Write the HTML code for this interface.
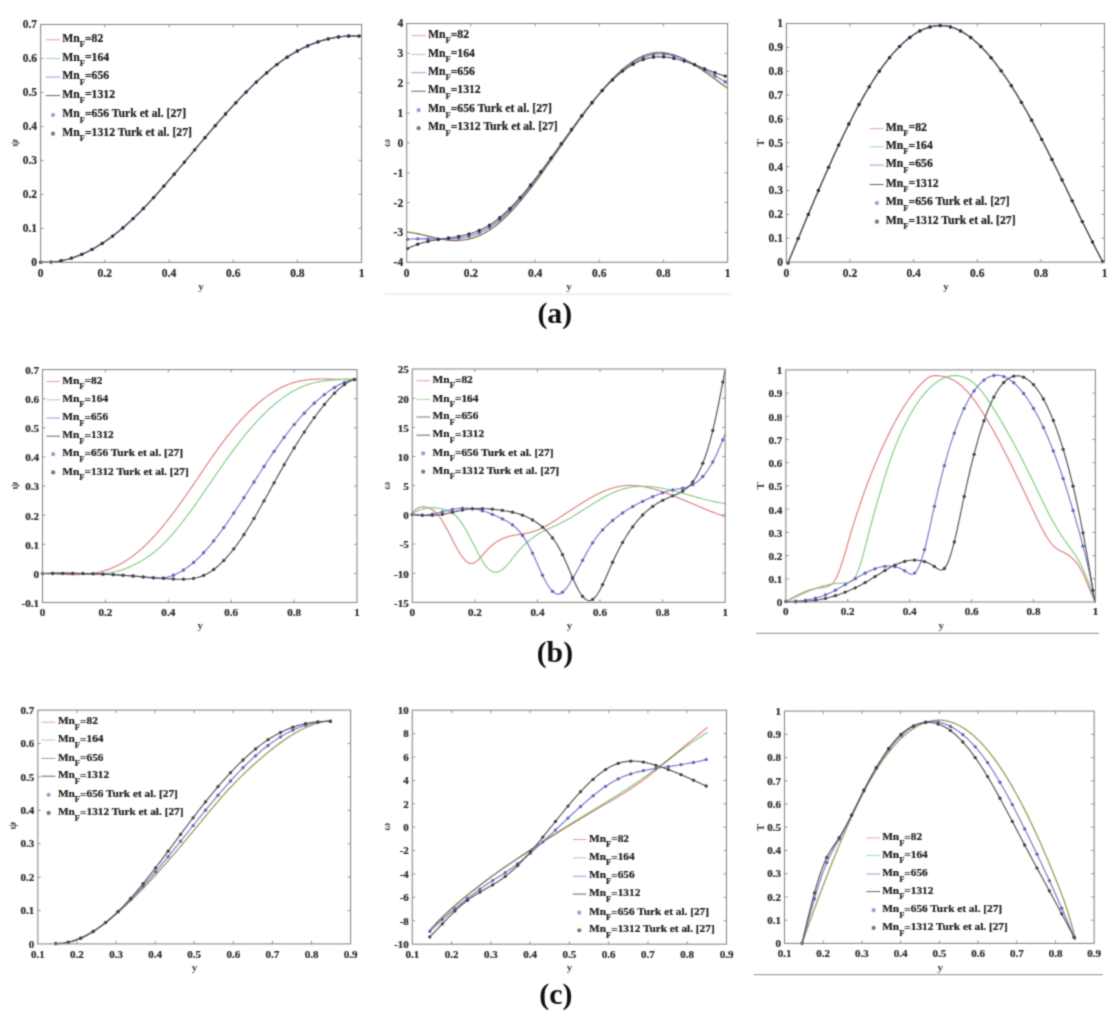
<!DOCTYPE html>
<html><head><meta charset="utf-8"><style>
html,body{margin:0;padding:0;background:#fff;}
svg{display:block;}
text{font-family:'Liberation Serif', serif;font-weight:bold;}
.tk{fill:#2a2a2a;stroke:#2a2a2a;stroke-width:0.2px;}
.al{font-size:11px;fill:#444;}
.fl{font-size:29.8px;fill:#111;}
.lg{fill:#1a1a1a;stroke:#1a1a1a;stroke-width:0.2px;}
</style></head><body>
<svg width="1117" height="1020" viewBox="0 0 1117 1020">
<defs><filter id="bl" x="0" y="0" width="1117" height="1020" filterUnits="userSpaceOnUse" color-interpolation-filters="sRGB"><feConvolveMatrix order="3" kernelMatrix="0.0361 0.1178 0.0361 0.1178 0.3846 0.1178 0.0361 0.1178 0.0361" edgeMode="duplicate"/></filter></defs>
<rect width="1117" height="1020" fill="#fff"/>
<g filter="url(#bl)"><rect width="1117" height="1020" fill="#fff"/>
<g id="curves"><path d="M40.6 262.2L41.6 262.3L42.6 262.3L43.6 262.3L44.6 262.3L45.6 262.3L46.6 262.3L47.6 262.3L48.6 262.2L49.6 262.2L50.6 262.1L51.6 262.1L52.6 262.0L53.6 261.9L54.6 261.8L55.6 261.6L56.6 261.5L57.6 261.4L58.6 261.2L59.6 261.0L60.6 260.8L61.6 260.7L62.6 260.5L63.6 260.2L64.6 260.0L65.6 259.8L66.6 259.5L67.6 259.3L68.6 259.0L69.6 258.7L70.6 258.4L71.6 258.1L72.6 257.8L73.6 257.5L74.6 257.1L75.6 256.8L76.6 256.4L77.6 256.0L78.6 255.6L79.6 255.2L80.6 254.8L81.6 254.4L82.6 254.0L83.6 253.6L84.6 253.1L85.6 252.6L86.6 252.2L87.6 251.7L88.6 251.2L89.6 250.7L90.6 250.2L91.6 249.6L92.6 249.1L93.6 248.5L94.6 248.0L95.6 247.4L96.6 246.8L97.6 246.2L98.6 245.6L99.6 245.0L100.6 244.4L101.6 243.8L102.6 243.1L103.6 242.5L104.6 241.8L105.6 241.1L106.6 240.5L107.6 239.8L108.6 239.0L109.6 238.3L110.6 237.6L111.6 236.9L112.6 236.1L113.6 235.4L114.6 234.6L115.6 233.8L116.6 233.0L117.6 232.2L118.6 231.4L119.6 230.6L120.6 229.8L121.6 228.9L122.6 228.1L123.6 227.2L124.6 226.4L125.6 225.5L126.6 224.6L127.6 223.7L128.6 222.8L129.6 221.9L130.6 221.0L131.6 220.0L132.6 219.1L133.6 218.1L134.6 217.2L135.6 216.2L136.6 215.2L137.6 214.3L138.6 213.3L139.6 212.3L140.6 211.3L141.6 210.3L142.6 209.2L143.6 208.2L144.6 207.2L145.6 206.2L146.6 205.1L147.6 204.1L148.6 203.0L149.6 201.9L150.6 200.9L151.6 199.8L152.6 198.7L153.6 197.6L154.6 196.5L155.6 195.4L156.6 194.3L157.6 193.2L158.6 192.1L159.6 191.0L160.6 189.9L161.6 188.7L162.6 187.6L163.6 186.5L164.6 185.3L165.6 184.2L166.6 183.0L167.6 181.9L168.6 180.7L169.6 179.6L170.6 178.4L171.6 177.2L172.6 176.1L173.6 174.9L174.6 173.7L175.6 172.6L176.6 171.4L177.6 170.2L178.6 169.0L179.6 167.8L180.6 166.7L181.6 165.5L182.6 164.3L183.6 163.1L184.6 161.9L185.6 160.7L186.6 159.5L187.6 158.3L188.6 157.1L189.6 155.9L190.6 154.8L191.6 153.6L192.6 152.4L193.6 151.2L194.6 150.0L195.6 148.8L196.6 147.6L197.6 146.4L198.6 145.2L199.6 144.0L200.6 142.8L201.6 141.7L202.6 140.5L203.6 139.3L204.6 138.1L205.6 136.9L206.6 135.8L207.6 134.6L208.6 133.4L209.6 132.2L210.6 131.1L211.6 129.9L212.6 128.7L213.6 127.6L214.6 126.4L215.6 125.3L216.6 124.1L217.6 123.0L218.6 121.8L219.6 120.7L220.6 119.5L221.6 118.4L222.6 117.3L223.6 116.2L224.6 115.0L225.6 113.9L226.6 112.8L227.6 111.7L228.6 110.6L229.6 109.5L230.6 108.4L231.6 107.3L232.6 106.2L233.6 105.1L234.6 104.0L235.6 103.0L236.6 101.9L237.6 100.8L238.6 99.8L239.6 98.7L240.6 97.7L241.6 96.7L242.6 95.6L243.6 94.6L244.6 93.6L245.6 92.6L246.6 91.5L247.6 90.5L248.6 89.6L249.6 88.6L250.6 87.6L251.6 86.6L252.6 85.6L253.6 84.7L254.6 83.7L255.6 82.8L256.6 81.8L257.6 80.9L258.6 80.0L259.6 79.1L260.6 78.1L261.6 77.2L262.6 76.4L263.6 75.5L264.6 74.6L265.6 73.7L266.6 72.9L267.6 72.0L268.6 71.2L269.6 70.3L270.6 69.5L271.6 68.7L272.6 67.9L273.6 67.1L274.6 66.3L275.6 65.5L276.6 64.7L277.6 64.0L278.6 63.2L279.6 62.5L280.6 61.8L281.6 61.0L282.6 60.3L283.6 59.6L284.6 58.9L285.6 58.3L286.6 57.6L287.6 56.9L288.6 56.3L289.6 55.6L290.6 55.0L291.6 54.4L292.6 53.8L293.6 53.2L294.6 52.6L295.6 52.0L296.6 51.5L297.6 50.9L298.6 50.4L299.6 49.9L300.6 49.3L301.6 48.8L302.6 48.3L303.6 47.8L304.6 47.4L305.6 46.9L306.6 46.4L307.6 46.0L308.6 45.5L309.6 45.1L310.6 44.7L311.6 44.3L312.6 43.9L313.6 43.5L314.6 43.1L315.6 42.7L316.6 42.4L317.6 42.0L318.6 41.7L319.6 41.4L320.6 41.0L321.6 40.7L322.6 40.4L323.6 40.1L324.6 39.9L325.6 39.6L326.6 39.3L327.6 39.1L328.6 38.8L329.6 38.6L330.6 38.4L331.6 38.2L332.6 38.0L333.6 37.8L334.6 37.6L335.6 37.4L336.6 37.3L337.6 37.1L338.6 37.0L339.6 36.8L340.6 36.7L341.6 36.6L342.6 36.5L343.6 36.4L344.6 36.3L345.6 36.2L346.6 36.2L347.6 36.1L348.6 36.0L349.6 36.0L350.6 36.0L351.6 36.0L352.6 35.9L353.6 35.9L354.6 35.9L355.6 36.0L356.6 36.0L357.6 36.0L358.6 36.0L359.6 36.1L360.6 36.2L361.6 36.2" fill="none" stroke="#e07c7c" stroke-width="1.15" stroke-linejoin="round"/><path d="M40.6 262.2L41.6 262.3L42.6 262.3L43.6 262.3L44.6 262.3L45.6 262.3L46.6 262.3L47.6 262.3L48.6 262.2L49.6 262.2L50.6 262.1L51.6 262.1L52.6 262.0L53.6 261.9L54.6 261.8L55.6 261.6L56.6 261.5L57.6 261.4L58.6 261.2L59.6 261.0L60.6 260.8L61.6 260.7L62.6 260.5L63.6 260.2L64.6 260.0L65.6 259.8L66.6 259.5L67.6 259.3L68.6 259.0L69.6 258.7L70.6 258.4L71.6 258.1L72.6 257.8L73.6 257.5L74.6 257.1L75.6 256.8L76.6 256.4L77.6 256.0L78.6 255.6L79.6 255.2L80.6 254.8L81.6 254.4L82.6 254.0L83.6 253.6L84.6 253.1L85.6 252.6L86.6 252.2L87.6 251.7L88.6 251.2L89.6 250.7L90.6 250.2L91.6 249.6L92.6 249.1L93.6 248.5L94.6 248.0L95.6 247.4L96.6 246.8L97.6 246.2L98.6 245.6L99.6 245.0L100.6 244.4L101.6 243.8L102.6 243.1L103.6 242.5L104.6 241.8L105.6 241.1L106.6 240.5L107.6 239.8L108.6 239.0L109.6 238.3L110.6 237.6L111.6 236.9L112.6 236.1L113.6 235.4L114.6 234.6L115.6 233.8L116.6 233.0L117.6 232.2L118.6 231.4L119.6 230.6L120.6 229.8L121.6 228.9L122.6 228.1L123.6 227.2L124.6 226.4L125.6 225.5L126.6 224.6L127.6 223.7L128.6 222.8L129.6 221.9L130.6 221.0L131.6 220.0L132.6 219.1L133.6 218.1L134.6 217.2L135.6 216.2L136.6 215.2L137.6 214.3L138.6 213.3L139.6 212.3L140.6 211.3L141.6 210.3L142.6 209.2L143.6 208.2L144.6 207.2L145.6 206.2L146.6 205.1L147.6 204.1L148.6 203.0L149.6 201.9L150.6 200.9L151.6 199.8L152.6 198.7L153.6 197.6L154.6 196.5L155.6 195.4L156.6 194.3L157.6 193.2L158.6 192.1L159.6 191.0L160.6 189.9L161.6 188.7L162.6 187.6L163.6 186.5L164.6 185.3L165.6 184.2L166.6 183.0L167.6 181.9L168.6 180.7L169.6 179.6L170.6 178.4L171.6 177.2L172.6 176.1L173.6 174.9L174.6 173.7L175.6 172.6L176.6 171.4L177.6 170.2L178.6 169.0L179.6 167.8L180.6 166.7L181.6 165.5L182.6 164.3L183.6 163.1L184.6 161.9L185.6 160.7L186.6 159.5L187.6 158.3L188.6 157.1L189.6 155.9L190.6 154.8L191.6 153.6L192.6 152.4L193.6 151.2L194.6 150.0L195.6 148.8L196.6 147.6L197.6 146.4L198.6 145.2L199.6 144.0L200.6 142.8L201.6 141.7L202.6 140.5L203.6 139.3L204.6 138.1L205.6 136.9L206.6 135.8L207.6 134.6L208.6 133.4L209.6 132.2L210.6 131.1L211.6 129.9L212.6 128.7L213.6 127.6L214.6 126.4L215.6 125.3L216.6 124.1L217.6 123.0L218.6 121.8L219.6 120.7L220.6 119.5L221.6 118.4L222.6 117.3L223.6 116.2L224.6 115.0L225.6 113.9L226.6 112.8L227.6 111.7L228.6 110.6L229.6 109.5L230.6 108.4L231.6 107.3L232.6 106.2L233.6 105.1L234.6 104.0L235.6 103.0L236.6 101.9L237.6 100.8L238.6 99.8L239.6 98.7L240.6 97.7L241.6 96.7L242.6 95.6L243.6 94.6L244.6 93.6L245.6 92.6L246.6 91.5L247.6 90.5L248.6 89.6L249.6 88.6L250.6 87.6L251.6 86.6L252.6 85.6L253.6 84.7L254.6 83.7L255.6 82.8L256.6 81.8L257.6 80.9L258.6 80.0L259.6 79.1L260.6 78.1L261.6 77.2L262.6 76.4L263.6 75.5L264.6 74.6L265.6 73.7L266.6 72.9L267.6 72.0L268.6 71.2L269.6 70.3L270.6 69.5L271.6 68.7L272.6 67.9L273.6 67.1L274.6 66.3L275.6 65.5L276.6 64.7L277.6 64.0L278.6 63.2L279.6 62.5L280.6 61.8L281.6 61.0L282.6 60.3L283.6 59.6L284.6 58.9L285.6 58.3L286.6 57.6L287.6 56.9L288.6 56.3L289.6 55.6L290.6 55.0L291.6 54.4L292.6 53.8L293.6 53.2L294.6 52.6L295.6 52.0L296.6 51.5L297.6 50.9L298.6 50.4L299.6 49.9L300.6 49.3L301.6 48.8L302.6 48.3L303.6 47.8L304.6 47.4L305.6 46.9L306.6 46.4L307.6 46.0L308.6 45.5L309.6 45.1L310.6 44.7L311.6 44.3L312.6 43.9L313.6 43.5L314.6 43.1L315.6 42.7L316.6 42.4L317.6 42.0L318.6 41.7L319.6 41.4L320.6 41.0L321.6 40.7L322.6 40.4L323.6 40.1L324.6 39.9L325.6 39.6L326.6 39.3L327.6 39.1L328.6 38.8L329.6 38.6L330.6 38.4L331.6 38.2L332.6 38.0L333.6 37.8L334.6 37.6L335.6 37.4L336.6 37.3L337.6 37.1L338.6 37.0L339.6 36.8L340.6 36.7L341.6 36.6L342.6 36.5L343.6 36.4L344.6 36.3L345.6 36.2L346.6 36.2L347.6 36.1L348.6 36.0L349.6 36.0L350.6 36.0L351.6 36.0L352.6 35.9L353.6 35.9L354.6 35.9L355.6 36.0L356.6 36.0L357.6 36.0L358.6 36.0L359.6 36.1L360.6 36.2L361.6 36.2" fill="none" stroke="#80cc80" stroke-width="1.15" stroke-linejoin="round"/><path d="M40.6 262.2L41.6 262.3L42.6 262.3L43.6 262.3L44.6 262.3L45.6 262.3L46.6 262.3L47.6 262.3L48.6 262.2L49.6 262.2L50.6 262.1L51.6 262.1L52.6 262.0L53.6 261.9L54.6 261.8L55.6 261.6L56.6 261.5L57.6 261.4L58.6 261.2L59.6 261.0L60.6 260.8L61.6 260.7L62.6 260.5L63.6 260.2L64.6 260.0L65.6 259.8L66.6 259.5L67.6 259.3L68.6 259.0L69.6 258.7L70.6 258.4L71.6 258.1L72.6 257.8L73.6 257.5L74.6 257.1L75.6 256.8L76.6 256.4L77.6 256.0L78.6 255.6L79.6 255.2L80.6 254.8L81.6 254.4L82.6 254.0L83.6 253.6L84.6 253.1L85.6 252.6L86.6 252.2L87.6 251.7L88.6 251.2L89.6 250.7L90.6 250.2L91.6 249.6L92.6 249.1L93.6 248.5L94.6 248.0L95.6 247.4L96.6 246.8L97.6 246.2L98.6 245.6L99.6 245.0L100.6 244.4L101.6 243.8L102.6 243.1L103.6 242.5L104.6 241.8L105.6 241.1L106.6 240.5L107.6 239.8L108.6 239.0L109.6 238.3L110.6 237.6L111.6 236.9L112.6 236.1L113.6 235.4L114.6 234.6L115.6 233.8L116.6 233.0L117.6 232.2L118.6 231.4L119.6 230.6L120.6 229.8L121.6 228.9L122.6 228.1L123.6 227.2L124.6 226.4L125.6 225.5L126.6 224.6L127.6 223.7L128.6 222.8L129.6 221.9L130.6 221.0L131.6 220.0L132.6 219.1L133.6 218.1L134.6 217.2L135.6 216.2L136.6 215.2L137.6 214.3L138.6 213.3L139.6 212.3L140.6 211.3L141.6 210.3L142.6 209.2L143.6 208.2L144.6 207.2L145.6 206.2L146.6 205.1L147.6 204.1L148.6 203.0L149.6 201.9L150.6 200.9L151.6 199.8L152.6 198.7L153.6 197.6L154.6 196.5L155.6 195.4L156.6 194.3L157.6 193.2L158.6 192.1L159.6 191.0L160.6 189.9L161.6 188.7L162.6 187.6L163.6 186.5L164.6 185.3L165.6 184.2L166.6 183.0L167.6 181.9L168.6 180.7L169.6 179.6L170.6 178.4L171.6 177.2L172.6 176.1L173.6 174.9L174.6 173.7L175.6 172.6L176.6 171.4L177.6 170.2L178.6 169.0L179.6 167.8L180.6 166.7L181.6 165.5L182.6 164.3L183.6 163.1L184.6 161.9L185.6 160.7L186.6 159.5L187.6 158.3L188.6 157.1L189.6 155.9L190.6 154.8L191.6 153.6L192.6 152.4L193.6 151.2L194.6 150.0L195.6 148.8L196.6 147.6L197.6 146.4L198.6 145.2L199.6 144.0L200.6 142.8L201.6 141.7L202.6 140.5L203.6 139.3L204.6 138.1L205.6 136.9L206.6 135.8L207.6 134.6L208.6 133.4L209.6 132.2L210.6 131.1L211.6 129.9L212.6 128.7L213.6 127.6L214.6 126.4L215.6 125.3L216.6 124.1L217.6 123.0L218.6 121.8L219.6 120.7L220.6 119.5L221.6 118.4L222.6 117.3L223.6 116.2L224.6 115.0L225.6 113.9L226.6 112.8L227.6 111.7L228.6 110.6L229.6 109.5L230.6 108.4L231.6 107.3L232.6 106.2L233.6 105.1L234.6 104.0L235.6 103.0L236.6 101.9L237.6 100.8L238.6 99.8L239.6 98.7L240.6 97.7L241.6 96.7L242.6 95.6L243.6 94.6L244.6 93.6L245.6 92.6L246.6 91.5L247.6 90.5L248.6 89.6L249.6 88.6L250.6 87.6L251.6 86.6L252.6 85.6L253.6 84.7L254.6 83.7L255.6 82.8L256.6 81.8L257.6 80.9L258.6 80.0L259.6 79.1L260.6 78.1L261.6 77.2L262.6 76.4L263.6 75.5L264.6 74.6L265.6 73.7L266.6 72.9L267.6 72.0L268.6 71.2L269.6 70.3L270.6 69.5L271.6 68.7L272.6 67.9L273.6 67.1L274.6 66.3L275.6 65.5L276.6 64.7L277.6 64.0L278.6 63.2L279.6 62.5L280.6 61.8L281.6 61.0L282.6 60.3L283.6 59.6L284.6 58.9L285.6 58.3L286.6 57.6L287.6 56.9L288.6 56.3L289.6 55.6L290.6 55.0L291.6 54.4L292.6 53.8L293.6 53.2L294.6 52.6L295.6 52.0L296.6 51.5L297.6 50.9L298.6 50.4L299.6 49.9L300.6 49.3L301.6 48.8L302.6 48.3L303.6 47.8L304.6 47.4L305.6 46.9L306.6 46.4L307.6 46.0L308.6 45.5L309.6 45.1L310.6 44.7L311.6 44.3L312.6 43.9L313.6 43.5L314.6 43.1L315.6 42.7L316.6 42.4L317.6 42.0L318.6 41.7L319.6 41.4L320.6 41.0L321.6 40.7L322.6 40.4L323.6 40.1L324.6 39.9L325.6 39.6L326.6 39.3L327.6 39.1L328.6 38.8L329.6 38.6L330.6 38.4L331.6 38.2L332.6 38.0L333.6 37.8L334.6 37.6L335.6 37.4L336.6 37.3L337.6 37.1L338.6 37.0L339.6 36.8L340.6 36.7L341.6 36.6L342.6 36.5L343.6 36.4L344.6 36.3L345.6 36.2L346.6 36.2L347.6 36.1L348.6 36.0L349.6 36.0L350.6 36.0L351.6 36.0L352.6 35.9L353.6 35.9L354.6 35.9L355.6 36.0L356.6 36.0L357.6 36.0L358.6 36.0L359.6 36.1L360.6 36.2L361.6 36.2" fill="none" stroke="#7676c6" stroke-width="1.15" stroke-linejoin="round"/><path d="M40.6 262.2L41.6 262.3L42.6 262.3L43.6 262.3L44.6 262.3L45.6 262.3L46.6 262.3L47.6 262.3L48.6 262.2L49.6 262.2L50.6 262.1L51.6 262.1L52.6 262.0L53.6 261.9L54.6 261.8L55.6 261.6L56.6 261.5L57.6 261.4L58.6 261.2L59.6 261.0L60.6 260.8L61.6 260.7L62.6 260.5L63.6 260.2L64.6 260.0L65.6 259.8L66.6 259.5L67.6 259.3L68.6 259.0L69.6 258.7L70.6 258.4L71.6 258.1L72.6 257.8L73.6 257.5L74.6 257.1L75.6 256.8L76.6 256.4L77.6 256.0L78.6 255.6L79.6 255.2L80.6 254.8L81.6 254.4L82.6 254.0L83.6 253.6L84.6 253.1L85.6 252.6L86.6 252.2L87.6 251.7L88.6 251.2L89.6 250.7L90.6 250.2L91.6 249.6L92.6 249.1L93.6 248.5L94.6 248.0L95.6 247.4L96.6 246.8L97.6 246.2L98.6 245.6L99.6 245.0L100.6 244.4L101.6 243.8L102.6 243.1L103.6 242.5L104.6 241.8L105.6 241.1L106.6 240.5L107.6 239.8L108.6 239.0L109.6 238.3L110.6 237.6L111.6 236.9L112.6 236.1L113.6 235.4L114.6 234.6L115.6 233.8L116.6 233.0L117.6 232.2L118.6 231.4L119.6 230.6L120.6 229.8L121.6 228.9L122.6 228.1L123.6 227.2L124.6 226.4L125.6 225.5L126.6 224.6L127.6 223.7L128.6 222.8L129.6 221.9L130.6 221.0L131.6 220.0L132.6 219.1L133.6 218.1L134.6 217.2L135.6 216.2L136.6 215.2L137.6 214.3L138.6 213.3L139.6 212.3L140.6 211.3L141.6 210.3L142.6 209.2L143.6 208.2L144.6 207.2L145.6 206.2L146.6 205.1L147.6 204.1L148.6 203.0L149.6 201.9L150.6 200.9L151.6 199.8L152.6 198.7L153.6 197.6L154.6 196.5L155.6 195.4L156.6 194.3L157.6 193.2L158.6 192.1L159.6 191.0L160.6 189.9L161.6 188.7L162.6 187.6L163.6 186.5L164.6 185.3L165.6 184.2L166.6 183.0L167.6 181.9L168.6 180.7L169.6 179.6L170.6 178.4L171.6 177.2L172.6 176.1L173.6 174.9L174.6 173.7L175.6 172.6L176.6 171.4L177.6 170.2L178.6 169.0L179.6 167.8L180.6 166.7L181.6 165.5L182.6 164.3L183.6 163.1L184.6 161.9L185.6 160.7L186.6 159.5L187.6 158.3L188.6 157.1L189.6 155.9L190.6 154.8L191.6 153.6L192.6 152.4L193.6 151.2L194.6 150.0L195.6 148.8L196.6 147.6L197.6 146.4L198.6 145.2L199.6 144.0L200.6 142.8L201.6 141.7L202.6 140.5L203.6 139.3L204.6 138.1L205.6 136.9L206.6 135.8L207.6 134.6L208.6 133.4L209.6 132.2L210.6 131.1L211.6 129.9L212.6 128.7L213.6 127.6L214.6 126.4L215.6 125.3L216.6 124.1L217.6 123.0L218.6 121.8L219.6 120.7L220.6 119.5L221.6 118.4L222.6 117.3L223.6 116.2L224.6 115.0L225.6 113.9L226.6 112.8L227.6 111.7L228.6 110.6L229.6 109.5L230.6 108.4L231.6 107.3L232.6 106.2L233.6 105.1L234.6 104.0L235.6 103.0L236.6 101.9L237.6 100.8L238.6 99.8L239.6 98.7L240.6 97.7L241.6 96.7L242.6 95.6L243.6 94.6L244.6 93.6L245.6 92.6L246.6 91.5L247.6 90.5L248.6 89.6L249.6 88.6L250.6 87.6L251.6 86.6L252.6 85.6L253.6 84.7L254.6 83.7L255.6 82.8L256.6 81.8L257.6 80.9L258.6 80.0L259.6 79.1L260.6 78.1L261.6 77.2L262.6 76.4L263.6 75.5L264.6 74.6L265.6 73.7L266.6 72.9L267.6 72.0L268.6 71.2L269.6 70.3L270.6 69.5L271.6 68.7L272.6 67.9L273.6 67.1L274.6 66.3L275.6 65.5L276.6 64.7L277.6 64.0L278.6 63.2L279.6 62.5L280.6 61.8L281.6 61.0L282.6 60.3L283.6 59.6L284.6 58.9L285.6 58.3L286.6 57.6L287.6 56.9L288.6 56.3L289.6 55.6L290.6 55.0L291.6 54.4L292.6 53.8L293.6 53.2L294.6 52.6L295.6 52.0L296.6 51.5L297.6 50.9L298.6 50.4L299.6 49.9L300.6 49.3L301.6 48.8L302.6 48.3L303.6 47.8L304.6 47.4L305.6 46.9L306.6 46.4L307.6 46.0L308.6 45.5L309.6 45.1L310.6 44.7L311.6 44.3L312.6 43.9L313.6 43.5L314.6 43.1L315.6 42.7L316.6 42.4L317.6 42.0L318.6 41.7L319.6 41.4L320.6 41.0L321.6 40.7L322.6 40.4L323.6 40.1L324.6 39.9L325.6 39.6L326.6 39.3L327.6 39.1L328.6 38.8L329.6 38.6L330.6 38.4L331.6 38.2L332.6 38.0L333.6 37.8L334.6 37.6L335.6 37.4L336.6 37.3L337.6 37.1L338.6 37.0L339.6 36.8L340.6 36.7L341.6 36.6L342.6 36.5L343.6 36.4L344.6 36.3L345.6 36.2L346.6 36.2L347.6 36.1L348.6 36.0L349.6 36.0L350.6 36.0L351.6 36.0L352.6 35.9L353.6 35.9L354.6 35.9L355.6 36.0L356.6 36.0L357.6 36.0L358.6 36.0L359.6 36.1L360.6 36.2L361.6 36.2" fill="none" stroke="#505050" stroke-width="1.15" stroke-linejoin="round"/><circle cx="40.7" cy="262.2" r="1.65" fill="#6262b4"/><circle cx="51.0" cy="262.1" r="1.65" fill="#6262b4"/><circle cx="61.2" cy="260.7" r="1.65" fill="#6262b4"/><circle cx="71.5" cy="258.1" r="1.65" fill="#6262b4"/><circle cx="81.8" cy="254.3" r="1.65" fill="#6262b4"/><circle cx="92.0" cy="249.4" r="1.65" fill="#6262b4"/><circle cx="102.3" cy="243.3" r="1.65" fill="#6262b4"/><circle cx="112.6" cy="236.1" r="1.65" fill="#6262b4"/><circle cx="122.8" cy="227.9" r="1.65" fill="#6262b4"/><circle cx="133.1" cy="218.6" r="1.65" fill="#6262b4"/><circle cx="143.4" cy="208.5" r="1.65" fill="#6262b4"/><circle cx="153.6" cy="197.6" r="1.65" fill="#6262b4"/><circle cx="163.9" cy="186.1" r="1.65" fill="#6262b4"/><circle cx="174.2" cy="174.2" r="1.65" fill="#6262b4"/><circle cx="184.4" cy="162.1" r="1.65" fill="#6262b4"/><circle cx="194.7" cy="149.8" r="1.65" fill="#6262b4"/><circle cx="205.0" cy="137.7" r="1.65" fill="#6262b4"/><circle cx="215.3" cy="125.7" r="1.65" fill="#6262b4"/><circle cx="225.5" cy="114.0" r="1.65" fill="#6262b4"/><circle cx="235.8" cy="102.8" r="1.65" fill="#6262b4"/><circle cx="246.1" cy="92.1" r="1.65" fill="#6262b4"/><circle cx="256.3" cy="82.1" r="1.65" fill="#6262b4"/><circle cx="266.6" cy="72.9" r="1.65" fill="#6262b4"/><circle cx="276.9" cy="64.6" r="1.65" fill="#6262b4"/><circle cx="287.1" cy="57.2" r="1.65" fill="#6262b4"/><circle cx="297.4" cy="51.0" r="1.65" fill="#6262b4"/><circle cx="307.7" cy="45.9" r="1.65" fill="#6262b4"/><circle cx="317.9" cy="41.9" r="1.65" fill="#6262b4"/><circle cx="328.2" cy="38.9" r="1.65" fill="#6262b4"/><circle cx="338.5" cy="37.0" r="1.65" fill="#6262b4"/><circle cx="348.7" cy="36.0" r="1.65" fill="#6262b4"/><circle cx="359.0" cy="36.1" r="1.65" fill="#6262b4"/><circle cx="40.7" cy="262.2" r="1.65" fill="#2a2a40"/><circle cx="51.0" cy="262.1" r="1.65" fill="#2a2a40"/><circle cx="61.2" cy="260.7" r="1.65" fill="#2a2a40"/><circle cx="71.5" cy="258.1" r="1.65" fill="#2a2a40"/><circle cx="81.8" cy="254.3" r="1.65" fill="#2a2a40"/><circle cx="92.0" cy="249.4" r="1.65" fill="#2a2a40"/><circle cx="102.3" cy="243.3" r="1.65" fill="#2a2a40"/><circle cx="112.6" cy="236.1" r="1.65" fill="#2a2a40"/><circle cx="122.8" cy="227.9" r="1.65" fill="#2a2a40"/><circle cx="133.1" cy="218.6" r="1.65" fill="#2a2a40"/><circle cx="143.4" cy="208.5" r="1.65" fill="#2a2a40"/><circle cx="153.6" cy="197.6" r="1.65" fill="#2a2a40"/><circle cx="163.9" cy="186.1" r="1.65" fill="#2a2a40"/><circle cx="174.2" cy="174.2" r="1.65" fill="#2a2a40"/><circle cx="184.4" cy="162.1" r="1.65" fill="#2a2a40"/><circle cx="194.7" cy="149.8" r="1.65" fill="#2a2a40"/><circle cx="205.0" cy="137.7" r="1.65" fill="#2a2a40"/><circle cx="215.3" cy="125.7" r="1.65" fill="#2a2a40"/><circle cx="225.5" cy="114.0" r="1.65" fill="#2a2a40"/><circle cx="235.8" cy="102.8" r="1.65" fill="#2a2a40"/><circle cx="246.1" cy="92.1" r="1.65" fill="#2a2a40"/><circle cx="256.3" cy="82.1" r="1.65" fill="#2a2a40"/><circle cx="266.6" cy="72.9" r="1.65" fill="#2a2a40"/><circle cx="276.9" cy="64.6" r="1.65" fill="#2a2a40"/><circle cx="287.1" cy="57.2" r="1.65" fill="#2a2a40"/><circle cx="297.4" cy="51.0" r="1.65" fill="#2a2a40"/><circle cx="307.7" cy="45.9" r="1.65" fill="#2a2a40"/><circle cx="317.9" cy="41.9" r="1.65" fill="#2a2a40"/><circle cx="328.2" cy="38.9" r="1.65" fill="#2a2a40"/><circle cx="338.5" cy="37.0" r="1.65" fill="#2a2a40"/><circle cx="348.7" cy="36.0" r="1.65" fill="#2a2a40"/><circle cx="359.0" cy="36.1" r="1.65" fill="#2a2a40"/><path d="M406.7 231.9L407.7 232.0L408.7 232.1L409.7 232.3L410.7 232.4L411.7 232.5L412.7 232.7L413.7 232.8L414.7 233.0L415.7 233.2L416.7 233.4L417.7 233.6L418.7 233.8L419.7 234.0L420.7 234.2L421.7 234.5L422.7 234.7L423.7 234.9L424.7 235.2L425.7 235.4L426.7 235.6L427.7 235.9L428.7 236.1L429.7 236.4L430.7 236.6L431.7 236.9L432.7 237.1L433.7 237.3L434.7 237.5L435.7 237.8L436.7 238.0L437.7 238.2L438.7 238.4L439.7 238.6L440.7 238.8L441.7 239.0L442.7 239.2L443.7 239.3L444.7 239.5L445.7 239.6L446.7 239.7L447.7 239.9L448.7 240.0L449.7 240.0L450.7 240.1L451.7 240.2L452.7 240.2L453.7 240.3L454.7 240.3L455.7 240.3L456.7 240.3L457.7 240.2L458.7 240.2L459.7 240.1L460.7 240.0L461.7 239.9L462.7 239.8L463.7 239.7L464.7 239.5L465.7 239.4L466.7 239.2L467.7 239.0L468.7 238.8L469.7 238.6L470.7 238.3L471.7 238.0L472.7 237.7L473.7 237.4L474.7 237.1L475.7 236.8L476.7 236.4L477.7 236.0L478.7 235.6L479.7 235.2L480.7 234.7L481.7 234.2L482.7 233.8L483.7 233.2L484.7 232.7L485.7 232.2L486.7 231.6L487.7 231.0L488.7 230.4L489.7 229.7L490.7 229.0L491.7 228.4L492.7 227.7L493.7 226.9L494.7 226.2L495.7 225.4L496.7 224.6L497.7 223.8L498.7 223.0L499.7 222.1L500.7 221.2L501.7 220.4L502.7 219.5L503.7 218.5L504.7 217.6L505.7 216.6L506.7 215.6L507.7 214.7L508.7 213.6L509.7 212.6L510.7 211.6L511.7 210.5L512.7 209.4L513.7 208.4L514.7 207.3L515.7 206.1L516.7 205.0L517.7 203.9L518.7 202.7L519.7 201.5L520.7 200.3L521.7 199.2L522.7 197.9L523.7 196.7L524.7 195.5L525.7 194.3L526.7 193.0L527.7 191.7L528.7 190.5L529.7 189.2L530.7 187.9L531.7 186.6L532.7 185.3L533.7 183.9L534.7 182.6L535.7 181.3L536.7 179.9L537.7 178.6L538.7 177.2L539.7 175.8L540.7 174.5L541.7 173.1L542.7 171.7L543.7 170.3L544.7 168.9L545.7 167.5L546.7 166.1L547.7 164.7L548.7 163.3L549.7 161.9L550.7 160.4L551.7 159.0L552.7 157.6L553.7 156.2L554.7 154.7L555.7 153.3L556.7 151.9L557.7 150.4L558.7 149.0L559.7 147.5L560.7 146.1L561.7 144.7L562.7 143.2L563.7 141.8L564.7 140.4L565.7 138.9L566.7 137.5L567.7 136.1L568.7 134.6L569.7 133.2L570.7 131.8L571.7 130.4L572.7 128.9L573.7 127.5L574.7 126.1L575.7 124.7L576.7 123.3L577.7 121.9L578.7 120.5L579.7 119.1L580.7 117.7L581.7 116.4L582.7 115.0L583.7 113.6L584.7 112.3L585.7 110.9L586.7 109.6L587.7 108.3L588.7 106.9L589.7 105.6L590.7 104.3L591.7 103.0L592.7 101.7L593.7 100.5L594.7 99.2L595.7 97.9L596.7 96.7L597.7 95.5L598.7 94.2L599.7 93.0L600.7 91.8L601.7 90.6L602.7 89.4L603.7 88.3L604.7 87.1L605.7 86.0L606.7 84.9L607.7 83.8L608.7 82.7L609.7 81.6L610.7 80.5L611.7 79.4L612.7 78.4L613.7 77.4L614.7 76.4L615.7 75.4L616.7 74.4L617.7 73.5L618.7 72.5L619.7 71.6L620.7 70.7L621.7 69.8L622.7 68.9L623.7 68.1L624.7 67.2L625.7 66.4L626.7 65.6L627.7 64.9L628.7 64.1L629.7 63.4L630.7 62.7L631.7 62.0L632.7 61.3L633.7 60.7L634.7 60.0L635.7 59.4L636.7 58.8L637.7 58.3L638.7 57.7L639.7 57.2L640.7 56.7L641.7 56.3L642.7 55.8L643.7 55.4L644.7 55.0L645.7 54.6L646.7 54.3L647.7 54.0L648.7 53.7L649.7 53.4L650.7 53.2L651.7 53.0L652.7 52.8L653.7 52.6L654.7 52.5L655.7 52.4L656.7 52.3L657.7 52.3L658.7 52.2L659.7 52.2L660.7 52.3L661.7 52.3L662.7 52.4L663.7 52.5L664.7 52.6L665.7 52.7L666.7 52.9L667.7 53.1L668.7 53.3L669.7 53.5L670.7 53.8L671.7 54.0L672.7 54.3L673.7 54.6L674.7 55.0L675.7 55.3L676.7 55.7L677.7 56.1L678.7 56.5L679.7 56.9L680.7 57.3L681.7 57.7L682.7 58.2L683.7 58.7L684.7 59.2L685.7 59.7L686.7 60.2L687.7 60.7L688.7 61.3L689.7 61.8L690.7 62.4L691.7 63.0L692.7 63.6L693.7 64.2L694.7 64.8L695.7 65.4L696.7 66.0L697.7 66.7L698.7 67.3L699.7 68.0L700.7 68.7L701.7 69.3L702.7 70.0L703.7 70.7L704.7 71.4L705.7 72.1L706.7 72.8L707.7 73.5L708.7 74.2L709.7 74.9L710.7 75.6L711.7 76.4L712.7 77.1L713.7 77.8L714.7 78.5L715.7 79.3L716.7 80.0L717.7 80.7L718.7 81.5L719.7 82.2L720.7 82.9L721.7 83.7L722.7 84.4L723.7 85.1L724.7 85.8L725.7 86.6L726.7 87.3L727.6 87.9" fill="none" stroke="#80cc80" stroke-width="1.15" stroke-linejoin="round"/><path d="M406.7 232.2L407.7 232.3L408.7 232.4L409.7 232.6L410.7 232.7L411.7 232.8L412.7 233.0L413.7 233.2L414.7 233.3L415.7 233.5L416.7 233.7L417.7 233.9L418.7 234.1L419.7 234.3L420.7 234.6L421.7 234.8L422.7 235.0L423.7 235.2L424.7 235.5L425.7 235.7L426.7 236.0L427.7 236.2L428.7 236.5L429.7 236.7L430.7 236.9L431.7 237.2L432.7 237.4L433.7 237.6L434.7 237.9L435.7 238.1L436.7 238.3L437.7 238.5L438.7 238.7L439.7 238.9L440.7 239.1L441.7 239.3L442.7 239.5L443.7 239.7L444.7 239.8L445.7 239.9L446.7 240.1L447.7 240.2L448.7 240.3L449.7 240.4L450.7 240.5L451.7 240.5L452.7 240.6L453.7 240.6L454.7 240.6L455.7 240.6L456.7 240.6L457.7 240.6L458.7 240.5L459.7 240.5L460.7 240.4L461.7 240.3L462.7 240.2L463.7 240.0L464.7 239.9L465.7 239.7L466.7 239.6L467.7 239.4L468.7 239.1L469.7 238.9L470.7 238.7L471.7 238.4L472.7 238.1L473.7 237.8L474.7 237.5L475.7 237.1L476.7 236.7L477.7 236.4L478.7 236.0L479.7 235.5L480.7 235.1L481.7 234.6L482.7 234.1L483.7 233.6L484.7 233.1L485.7 232.5L486.7 231.9L487.7 231.4L488.7 230.7L489.7 230.1L490.7 229.4L491.7 228.7L492.7 228.0L493.7 227.3L494.7 226.6L495.7 225.8L496.7 225.0L497.7 224.2L498.7 223.4L499.7 222.5L500.7 221.6L501.7 220.7L502.7 219.8L503.7 218.9L504.7 218.0L505.7 217.0L506.7 216.0L507.7 215.0L508.7 214.0L509.7 213.0L510.7 212.0L511.7 210.9L512.7 209.8L513.7 208.8L514.7 207.7L515.7 206.5L516.7 205.4L517.7 204.3L518.7 203.1L519.7 201.9L520.7 200.8L521.7 199.6L522.7 198.4L523.7 197.1L524.7 195.9L525.7 194.7L526.7 193.4L527.7 192.1L528.7 190.9L529.7 189.6L530.7 188.3L531.7 187.0L532.7 185.7L533.7 184.4L534.7 183.0L535.7 181.7L536.7 180.3L537.7 179.0L538.7 177.6L539.7 176.3L540.7 174.9L541.7 173.5L542.7 172.1L543.7 170.7L544.7 169.3L545.7 167.9L546.7 166.5L547.7 165.1L548.7 163.7L549.7 162.3L550.7 160.9L551.7 159.5L552.7 158.0L553.7 156.6L554.7 155.2L555.7 153.7L556.7 152.3L557.7 150.9L558.7 149.4L559.7 148.0L560.7 146.6L561.7 145.1L562.7 143.7L563.7 142.2L564.7 140.8L565.7 139.4L566.7 137.9L567.7 136.5L568.7 135.1L569.7 133.7L570.7 132.2L571.7 130.8L572.7 129.4L573.7 128.0L574.7 126.6L575.7 125.2L576.7 123.8L577.7 122.4L578.7 121.0L579.7 119.6L580.7 118.2L581.7 116.8L582.7 115.5L583.7 114.1L584.7 112.8L585.7 111.4L586.7 110.1L587.7 108.7L588.7 107.4L589.7 106.1L590.7 104.8L591.7 103.5L592.7 102.2L593.7 100.9L594.7 99.7L595.7 98.4L596.7 97.2L597.7 95.9L598.7 94.7L599.7 93.5L600.7 92.3L601.7 91.1L602.7 89.9L603.7 88.8L604.7 87.6L605.7 86.5L606.7 85.4L607.7 84.2L608.7 83.1L609.7 82.1L610.7 81.0L611.7 79.9L612.7 78.9L613.7 77.9L614.7 76.9L615.7 75.9L616.7 74.9L617.7 74.0L618.7 73.0L619.7 72.1L620.7 71.2L621.7 70.3L622.7 69.4L623.7 68.6L624.7 67.8L625.7 66.9L626.7 66.1L627.7 65.4L628.7 64.6L629.7 63.9L630.7 63.2L631.7 62.5L632.7 61.8L633.7 61.2L634.7 60.5L635.7 59.9L636.7 59.4L637.7 58.8L638.7 58.3L639.7 57.7L640.7 57.3L641.7 56.8L642.7 56.3L643.7 55.9L644.7 55.5L645.7 55.2L646.7 54.8L647.7 54.5L648.7 54.2L649.7 54.0L650.7 53.7L651.7 53.5L652.7 53.3L653.7 53.2L654.7 53.0L655.7 52.9L656.7 52.9L657.7 52.8L658.7 52.8L659.7 52.8L660.7 52.8L661.7 52.9L662.7 52.9L663.7 53.0L664.7 53.1L665.7 53.3L666.7 53.5L667.7 53.6L668.7 53.9L669.7 54.1L670.7 54.3L671.7 54.6L672.7 54.9L673.7 55.2L674.7 55.5L675.7 55.9L676.7 56.2L677.7 56.6L678.7 57.0L679.7 57.4L680.7 57.9L681.7 58.3L682.7 58.8L683.7 59.2L684.7 59.7L685.7 60.2L686.7 60.8L687.7 61.3L688.7 61.8L689.7 62.4L690.7 63.0L691.7 63.5L692.7 64.1L693.7 64.7L694.7 65.4L695.7 66.0L696.7 66.6L697.7 67.3L698.7 67.9L699.7 68.6L700.7 69.2L701.7 69.9L702.7 70.6L703.7 71.3L704.7 72.0L705.7 72.7L706.7 73.4L707.7 74.1L708.7 74.8L709.7 75.5L710.7 76.2L711.7 76.9L712.7 77.7L713.7 78.4L714.7 79.1L715.7 79.9L716.7 80.6L717.7 81.3L718.7 82.1L719.7 82.8L720.7 83.5L721.7 84.3L722.7 85.0L723.7 85.7L724.7 86.4L725.7 87.2L726.7 87.9L727.6 88.5" fill="none" stroke="#e07c7c" stroke-width="1.15" stroke-linejoin="round" style="mix-blend-mode:multiply"/><path d="M406.7 239.4L407.7 239.3L408.7 239.2L409.7 239.1L410.7 239.0L411.7 239.0L412.7 238.9L413.7 238.9L414.7 238.9L415.7 238.8L416.7 238.8L417.7 238.8L418.7 238.8L419.7 238.8L420.7 238.8L421.7 238.8L422.7 238.8L423.7 238.8L424.7 238.8L425.7 238.8L426.7 238.8L427.7 238.9L428.7 238.9L429.7 238.9L430.7 238.9L431.7 238.9L432.7 239.0L433.7 239.0L434.7 239.0L435.7 239.0L436.7 239.0L437.7 239.1L438.7 239.1L439.7 239.1L440.7 239.1L441.7 239.1L442.7 239.1L443.7 239.1L444.7 239.1L445.7 239.1L446.7 239.0L447.7 239.0L448.7 239.0L449.7 238.9L450.7 238.9L451.7 238.8L452.7 238.8L453.7 238.7L454.7 238.6L455.7 238.5L456.7 238.4L457.7 238.3L458.7 238.2L459.7 238.1L460.7 237.9L461.7 237.8L462.7 237.6L463.7 237.4L464.7 237.2L465.7 237.0L466.7 236.8L467.7 236.6L468.7 236.4L469.7 236.1L470.7 235.8L471.7 235.5L472.7 235.2L473.7 234.9L474.7 234.6L475.7 234.2L476.7 233.9L477.7 233.5L478.7 233.1L479.7 232.6L480.7 232.2L481.7 231.7L482.7 231.2L483.7 230.7L484.7 230.2L485.7 229.7L486.7 229.1L487.7 228.5L488.7 227.9L489.7 227.3L490.7 226.6L491.7 225.9L492.7 225.3L493.7 224.5L494.7 223.8L495.7 223.0L496.7 222.3L497.7 221.5L498.7 220.6L499.7 219.8L500.7 218.9L501.7 218.1L502.7 217.2L503.7 216.3L504.7 215.3L505.7 214.4L506.7 213.4L507.7 212.5L508.7 211.5L509.7 210.5L510.7 209.4L511.7 208.4L512.7 207.3L513.7 206.3L514.7 205.2L515.7 204.1L516.7 203.0L517.7 201.8L518.7 200.7L519.7 199.5L520.7 198.4L521.7 197.2L522.7 196.0L523.7 194.8L524.7 193.6L525.7 192.4L526.7 191.1L527.7 189.9L528.7 188.6L529.7 187.4L530.7 186.1L531.7 184.8L532.7 183.5L533.7 182.2L534.7 180.9L535.7 179.6L536.7 178.3L537.7 176.9L538.7 175.6L539.7 174.3L540.7 172.9L541.7 171.6L542.7 170.2L543.7 168.8L544.7 167.5L545.7 166.1L546.7 164.7L547.7 163.3L548.7 161.9L549.7 160.6L550.7 159.2L551.7 157.8L552.7 156.4L553.7 155.0L554.7 153.6L555.7 152.2L556.7 150.8L557.7 149.4L558.7 147.9L559.7 146.5L560.7 145.1L561.7 143.7L562.7 142.3L563.7 140.9L564.7 139.5L565.7 138.1L566.7 136.7L567.7 135.3L568.7 133.9L569.7 132.5L570.7 131.2L571.7 129.8L572.7 128.4L573.7 127.0L574.7 125.7L575.7 124.3L576.7 122.9L577.7 121.6L578.7 120.2L579.7 118.9L580.7 117.5L581.7 116.2L582.7 114.9L583.7 113.6L584.7 112.3L585.7 111.0L586.7 109.7L587.7 108.4L588.7 107.1L589.7 105.8L590.7 104.6L591.7 103.3L592.7 102.1L593.7 100.8L594.7 99.6L595.7 98.4L596.7 97.2L597.7 96.0L598.7 94.8L599.7 93.7L600.7 92.5L601.7 91.3L602.7 90.2L603.7 89.1L604.7 88.0L605.7 86.9L606.7 85.8L607.7 84.7L608.7 83.7L609.7 82.6L610.7 81.6L611.7 80.6L612.7 79.6L613.7 78.6L614.7 77.6L615.7 76.7L616.7 75.7L617.7 74.8L618.7 73.9L619.7 73.0L620.7 72.1L621.7 71.3L622.7 70.4L623.7 69.6L624.7 68.8L625.7 68.0L626.7 67.3L627.7 66.5L628.7 65.8L629.7 65.1L630.7 64.4L631.7 63.7L632.7 63.1L633.7 62.4L634.7 61.8L635.7 61.2L636.7 60.7L637.7 60.1L638.7 59.6L639.7 59.1L640.7 58.6L641.7 58.2L642.7 57.7L643.7 57.3L644.7 56.9L645.7 56.6L646.7 56.2L647.7 55.9L648.7 55.6L649.7 55.3L650.7 55.1L651.7 54.9L652.7 54.7L653.7 54.5L654.7 54.4L655.7 54.2L656.7 54.2L657.7 54.1L658.7 54.0L659.7 54.0L660.7 54.0L661.7 54.0L662.7 54.1L663.7 54.2L664.7 54.2L665.7 54.4L666.7 54.5L667.7 54.6L668.7 54.8L669.7 55.0L670.7 55.2L671.7 55.4L672.7 55.7L673.7 55.9L674.7 56.2L675.7 56.5L676.7 56.8L677.7 57.1L678.7 57.5L679.7 57.8L680.7 58.2L681.7 58.5L682.7 58.9L683.7 59.3L684.7 59.8L685.7 60.2L686.7 60.6L687.7 61.1L688.7 61.5L689.7 62.0L690.7 62.5L691.7 63.0L692.7 63.5L693.7 64.0L694.7 64.5L695.7 65.0L696.7 65.6L697.7 66.1L698.7 66.6L699.7 67.2L700.7 67.7L701.7 68.3L702.7 68.9L703.7 69.4L704.7 70.0L705.7 70.6L706.7 71.1L707.7 71.7L708.7 72.3L709.7 72.9L710.7 73.5L711.7 74.0L712.7 74.6L713.7 75.2L714.7 75.8L715.7 76.3L716.7 76.9L717.7 77.5L718.7 78.1L719.7 78.6L720.7 79.2L721.7 79.8L722.7 80.3L723.7 80.9L724.7 81.4L725.7 81.9L726.7 82.5L727.6 82.9" fill="none" stroke="#7676c6" stroke-width="1.15" stroke-linejoin="round"/><path d="M406.7 249.0L407.7 248.5L408.7 248.0L409.7 247.5L410.7 247.0L411.7 246.6L412.7 246.2L413.7 245.7L414.7 245.4L415.7 245.0L416.7 244.6L417.7 244.3L418.7 243.9L419.7 243.6L420.7 243.3L421.7 243.0L422.7 242.7L423.7 242.4L424.7 242.2L425.7 241.9L426.7 241.7L427.7 241.5L428.7 241.2L429.7 241.0L430.7 240.8L431.7 240.6L432.7 240.4L433.7 240.3L434.7 240.1L435.7 239.9L436.7 239.7L437.7 239.6L438.7 239.4L439.7 239.3L440.7 239.1L441.7 239.0L442.7 238.8L443.7 238.7L444.7 238.5L445.7 238.4L446.7 238.2L447.7 238.1L448.7 237.9L449.7 237.8L450.7 237.7L451.7 237.5L452.7 237.3L453.7 237.2L454.7 237.0L455.7 236.9L456.7 236.7L457.7 236.5L458.7 236.3L459.7 236.1L460.7 236.0L461.7 235.7L462.7 235.5L463.7 235.3L464.7 235.1L465.7 234.8L466.7 234.6L467.7 234.3L468.7 234.1L469.7 233.8L470.7 233.5L471.7 233.2L472.7 232.9L473.7 232.5L474.7 232.2L475.7 231.8L476.7 231.5L477.7 231.1L478.7 230.7L479.7 230.2L480.7 229.8L481.7 229.3L482.7 228.9L483.7 228.4L484.7 227.8L485.7 227.3L486.7 226.8L487.7 226.2L488.7 225.6L489.7 225.0L490.7 224.3L491.7 223.7L492.7 223.0L493.7 222.3L494.7 221.6L495.7 220.8L496.7 220.1L497.7 219.3L498.7 218.5L499.7 217.7L500.7 216.8L501.7 216.0L502.7 215.1L503.7 214.2L504.7 213.3L505.7 212.4L506.7 211.5L507.7 210.5L508.7 209.5L509.7 208.5L510.7 207.5L511.7 206.5L512.7 205.5L513.7 204.4L514.7 203.4L515.7 202.3L516.7 201.2L517.7 200.1L518.7 199.0L519.7 197.9L520.7 196.8L521.7 195.6L522.7 194.4L523.7 193.3L524.7 192.1L525.7 190.9L526.7 189.7L527.7 188.5L528.7 187.2L529.7 186.0L530.7 184.8L531.7 183.5L532.7 182.2L533.7 181.0L534.7 179.7L535.7 178.4L536.7 177.1L537.7 175.8L538.7 174.5L539.7 173.2L540.7 171.8L541.7 170.5L542.7 169.2L543.7 167.8L544.7 166.5L545.7 165.1L546.7 163.8L547.7 162.4L548.7 161.1L549.7 159.7L550.7 158.3L551.7 156.9L552.7 155.6L553.7 154.2L554.7 152.8L555.7 151.4L556.7 150.0L557.7 148.6L558.7 147.3L559.7 145.9L560.7 144.5L561.7 143.1L562.7 141.7L563.7 140.3L564.7 138.9L565.7 137.5L566.7 136.1L567.7 134.8L568.7 133.4L569.7 132.0L570.7 130.6L571.7 129.2L572.7 127.9L573.7 126.5L574.7 125.1L575.7 123.8L576.7 122.4L577.7 121.0L578.7 119.7L579.7 118.4L580.7 117.0L581.7 115.7L582.7 114.4L583.7 113.1L584.7 111.7L585.7 110.4L586.7 109.2L587.7 107.9L588.7 106.6L589.7 105.3L590.7 104.1L591.7 102.8L592.7 101.6L593.7 100.4L594.7 99.2L595.7 98.0L596.7 96.8L597.7 95.6L598.7 94.4L599.7 93.3L600.7 92.1L601.7 91.0L602.7 89.9L603.7 88.8L604.7 87.7L605.7 86.6L606.7 85.6L607.7 84.6L608.7 83.5L609.7 82.5L610.7 81.6L611.7 80.6L612.7 79.6L613.7 78.7L614.7 77.8L615.7 76.9L616.7 76.0L617.7 75.2L618.7 74.3L619.7 73.5L620.7 72.7L621.7 71.9L622.7 71.1L623.7 70.4L624.7 69.7L625.7 69.0L626.7 68.3L627.7 67.6L628.7 66.9L629.7 66.3L630.7 65.7L631.7 65.1L632.7 64.5L633.7 64.0L634.7 63.4L635.7 62.9L636.7 62.4L637.7 61.9L638.7 61.5L639.7 61.1L640.7 60.6L641.7 60.3L642.7 59.9L643.7 59.5L644.7 59.2L645.7 58.9L646.7 58.6L647.7 58.3L648.7 58.1L649.7 57.9L650.7 57.7L651.7 57.5L652.7 57.3L653.7 57.2L654.7 57.1L655.7 57.0L656.7 56.9L657.7 56.8L658.7 56.8L659.7 56.8L660.7 56.8L661.7 56.8L662.7 56.8L663.7 56.9L664.7 57.0L665.7 57.0L666.7 57.1L667.7 57.3L668.7 57.4L669.7 57.6L670.7 57.7L671.7 57.9L672.7 58.1L673.7 58.3L674.7 58.5L675.7 58.7L676.7 59.0L677.7 59.2L678.7 59.5L679.7 59.8L680.7 60.1L681.7 60.4L682.7 60.7L683.7 61.0L684.7 61.3L685.7 61.6L686.7 62.0L687.7 62.3L688.7 62.7L689.7 63.0L690.7 63.4L691.7 63.7L692.7 64.1L693.7 64.5L694.7 64.9L695.7 65.2L696.7 65.6L697.7 66.0L698.7 66.4L699.7 66.8L700.7 67.2L701.7 67.6L702.7 68.0L703.7 68.4L704.7 68.8L705.7 69.2L706.7 69.6L707.7 70.0L708.7 70.3L709.7 70.7L710.7 71.1L711.7 71.5L712.7 71.9L713.7 72.2L714.7 72.6L715.7 73.0L716.7 73.3L717.7 73.7L718.7 74.0L719.7 74.4L720.7 74.7L721.7 75.0L722.7 75.3L723.7 75.6L724.7 75.9L725.7 76.2L726.7 76.5L727.6 76.7" fill="none" stroke="#505050" stroke-width="1.15" stroke-linejoin="round"/><circle cx="407.5" cy="239.3" r="1.65" fill="#6262b4"/><circle cx="417.7" cy="238.8" r="1.65" fill="#6262b4"/><circle cx="428.0" cy="238.9" r="1.65" fill="#6262b4"/><circle cx="438.2" cy="239.1" r="1.65" fill="#6262b4"/><circle cx="448.5" cy="239.0" r="1.65" fill="#6262b4"/><circle cx="458.7" cy="238.2" r="1.65" fill="#6262b4"/><circle cx="469.0" cy="236.3" r="1.65" fill="#6262b4"/><circle cx="479.2" cy="232.8" r="1.65" fill="#6262b4"/><circle cx="489.5" cy="227.4" r="1.65" fill="#6262b4"/><circle cx="499.7" cy="219.8" r="1.65" fill="#6262b4"/><circle cx="510.0" cy="210.2" r="1.65" fill="#6262b4"/><circle cx="520.2" cy="198.9" r="1.65" fill="#6262b4"/><circle cx="530.5" cy="186.4" r="1.65" fill="#6262b4"/><circle cx="540.7" cy="172.9" r="1.65" fill="#6262b4"/><circle cx="551.0" cy="158.8" r="1.65" fill="#6262b4"/><circle cx="561.2" cy="144.4" r="1.65" fill="#6262b4"/><circle cx="571.5" cy="130.1" r="1.65" fill="#6262b4"/><circle cx="581.7" cy="116.2" r="1.65" fill="#6262b4"/><circle cx="592.0" cy="103.0" r="1.65" fill="#6262b4"/><circle cx="602.2" cy="90.8" r="1.65" fill="#6262b4"/><circle cx="612.5" cy="79.8" r="1.65" fill="#6262b4"/><circle cx="622.7" cy="70.4" r="1.65" fill="#6262b4"/><circle cx="633.0" cy="62.9" r="1.65" fill="#6262b4"/><circle cx="643.2" cy="57.5" r="1.65" fill="#6262b4"/><circle cx="653.5" cy="54.5" r="1.65" fill="#6262b4"/><circle cx="663.7" cy="54.2" r="1.65" fill="#6262b4"/><circle cx="674.0" cy="56.0" r="1.65" fill="#6262b4"/><circle cx="684.2" cy="59.6" r="1.65" fill="#6262b4"/><circle cx="694.5" cy="64.4" r="1.65" fill="#6262b4"/><circle cx="704.7" cy="70.0" r="1.65" fill="#6262b4"/><circle cx="715.0" cy="75.9" r="1.65" fill="#6262b4"/><circle cx="725.2" cy="81.7" r="1.65" fill="#6262b4"/><circle cx="407.5" cy="248.6" r="1.65" fill="#2a2a40"/><circle cx="417.7" cy="244.2" r="1.65" fill="#2a2a40"/><circle cx="428.0" cy="241.4" r="1.65" fill="#2a2a40"/><circle cx="438.2" cy="239.5" r="1.65" fill="#2a2a40"/><circle cx="448.5" cy="238.0" r="1.65" fill="#2a2a40"/><circle cx="458.7" cy="236.3" r="1.65" fill="#2a2a40"/><circle cx="469.0" cy="234.0" r="1.65" fill="#2a2a40"/><circle cx="479.2" cy="230.4" r="1.65" fill="#2a2a40"/><circle cx="489.5" cy="225.1" r="1.65" fill="#2a2a40"/><circle cx="499.7" cy="217.6" r="1.65" fill="#2a2a40"/><circle cx="510.0" cy="208.3" r="1.65" fill="#2a2a40"/><circle cx="520.2" cy="197.3" r="1.65" fill="#2a2a40"/><circle cx="530.5" cy="185.0" r="1.65" fill="#2a2a40"/><circle cx="540.7" cy="171.8" r="1.65" fill="#2a2a40"/><circle cx="551.0" cy="157.9" r="1.65" fill="#2a2a40"/><circle cx="561.2" cy="143.7" r="1.65" fill="#2a2a40"/><circle cx="571.5" cy="129.5" r="1.65" fill="#2a2a40"/><circle cx="581.7" cy="115.7" r="1.65" fill="#2a2a40"/><circle cx="592.0" cy="102.5" r="1.65" fill="#2a2a40"/><circle cx="602.2" cy="90.4" r="1.65" fill="#2a2a40"/><circle cx="612.5" cy="79.9" r="1.65" fill="#2a2a40"/><circle cx="622.7" cy="71.1" r="1.65" fill="#2a2a40"/><circle cx="633.0" cy="64.4" r="1.65" fill="#2a2a40"/><circle cx="643.2" cy="59.7" r="1.65" fill="#2a2a40"/><circle cx="653.5" cy="57.2" r="1.65" fill="#2a2a40"/><circle cx="663.7" cy="56.9" r="1.65" fill="#2a2a40"/><circle cx="674.0" cy="58.4" r="1.65" fill="#2a2a40"/><circle cx="684.2" cy="61.1" r="1.65" fill="#2a2a40"/><circle cx="694.5" cy="64.8" r="1.65" fill="#2a2a40"/><circle cx="704.7" cy="68.8" r="1.65" fill="#2a2a40"/><circle cx="715.0" cy="72.7" r="1.65" fill="#2a2a40"/><circle cx="725.2" cy="76.1" r="1.65" fill="#2a2a40"/><path d="M788.0 262.9L789.0 260.5L790.0 258.1L791.0 255.7L792.0 253.3L793.0 250.9L794.0 248.5L795.0 246.2L796.0 243.8L797.0 241.4L798.0 239.0L799.0 236.6L800.0 234.2L801.0 231.8L802.0 229.4L803.0 227.0L804.0 224.6L805.0 222.2L806.0 219.8L807.0 217.5L808.0 215.1L809.0 212.7L810.0 210.3L811.0 208.0L812.0 205.6L813.0 203.3L814.0 200.9L815.0 198.6L816.0 196.2L817.0 193.9L818.0 191.6L819.0 189.2L820.0 186.9L821.0 184.6L822.0 182.3L823.0 180.0L824.0 177.7L825.0 175.4L826.0 173.2L827.0 170.9L828.0 168.7L829.0 166.4L830.0 164.2L831.0 162.0L832.0 159.7L833.0 157.5L834.0 155.3L835.0 153.1L836.0 151.0L837.0 148.8L838.0 146.7L839.0 144.5L840.0 142.4L841.0 140.3L842.0 138.2L843.0 136.1L844.0 134.0L845.0 131.9L846.0 129.9L847.0 127.9L848.0 125.8L849.0 123.8L850.0 121.8L851.0 119.9L852.0 117.9L853.0 116.0L854.0 114.0L855.0 112.1L856.0 110.2L857.0 108.3L858.0 106.5L859.0 104.6L860.0 102.8L861.0 101.0L862.0 99.2L863.0 97.4L864.0 95.6L865.0 93.9L866.0 92.2L867.0 90.5L868.0 88.8L869.0 87.1L870.0 85.5L871.0 83.9L872.0 82.3L873.0 80.7L874.0 79.1L875.0 77.6L876.0 76.1L877.0 74.6L878.0 73.1L879.0 71.7L880.0 70.2L881.0 68.8L882.0 67.4L883.0 66.0L884.0 64.7L885.0 63.4L886.0 62.1L887.0 60.8L888.0 59.5L889.0 58.3L890.0 57.0L891.0 55.8L892.0 54.7L893.0 53.5L894.0 52.4L895.0 51.3L896.0 50.2L897.0 49.1L898.0 48.1L899.0 47.0L900.0 46.0L901.0 45.1L902.0 44.1L903.0 43.2L904.0 42.3L905.0 41.4L906.0 40.5L907.0 39.7L908.0 38.9L909.0 38.1L910.0 37.3L911.0 36.5L912.0 35.8L913.0 35.1L914.0 34.5L915.0 33.8L916.0 33.2L917.0 32.6L918.0 32.0L919.0 31.4L920.0 30.9L921.0 30.4L922.0 29.9L923.0 29.5L924.0 29.0L925.0 28.6L926.0 28.3L927.0 27.9L928.0 27.6L929.0 27.3L930.0 27.0L931.0 26.7L932.0 26.5L933.0 26.3L934.0 26.1L935.0 26.0L936.0 25.8L937.0 25.7L938.0 25.6L939.0 25.6L940.0 25.6L941.0 25.6L942.0 25.6L943.0 25.7L944.0 25.7L945.0 25.8L946.0 26.0L947.0 26.1L948.0 26.3L949.0 26.5L950.0 26.8L951.0 27.1L952.0 27.4L953.0 27.7L954.0 28.0L955.0 28.4L956.0 28.8L957.0 29.2L958.0 29.7L959.0 30.2L960.0 30.7L961.0 31.2L962.0 31.7L963.0 32.3L964.0 32.9L965.0 33.5L966.0 34.2L967.0 34.9L968.0 35.6L969.0 36.3L970.0 37.0L971.0 37.8L972.0 38.6L973.0 39.4L974.0 40.2L975.0 41.1L976.0 42.0L977.0 42.9L978.0 43.8L979.0 44.7L980.0 45.7L981.0 46.7L982.0 47.7L983.0 48.7L984.0 49.8L985.0 50.9L986.0 51.9L987.0 53.1L988.0 54.2L989.0 55.3L990.0 56.5L991.0 57.7L992.0 58.9L993.0 60.1L994.0 61.4L995.0 62.7L996.0 63.9L997.0 65.3L998.0 66.6L999.0 67.9L1000.0 69.3L1001.0 70.6L1002.0 72.0L1003.0 73.5L1004.0 74.9L1005.0 76.3L1006.0 77.8L1007.0 79.3L1008.0 80.8L1009.0 82.3L1010.0 83.8L1011.0 85.3L1012.0 86.9L1013.0 88.5L1014.0 90.1L1015.0 91.7L1016.0 93.3L1017.0 94.9L1018.0 96.6L1019.0 98.2L1020.0 99.9L1021.0 101.6L1022.0 103.3L1023.0 105.0L1024.0 106.7L1025.0 108.5L1026.0 110.2L1027.0 112.0L1028.0 113.8L1029.0 115.6L1030.0 117.4L1031.0 119.2L1032.0 121.0L1033.0 122.9L1034.0 124.7L1035.0 126.6L1036.0 128.5L1037.0 130.3L1038.0 132.2L1039.0 134.1L1040.0 136.1L1041.0 138.0L1042.0 139.9L1043.0 141.9L1044.0 143.8L1045.0 145.8L1046.0 147.7L1047.0 149.7L1048.0 151.7L1049.0 153.7L1050.0 155.6L1051.0 157.6L1052.0 159.6L1053.0 161.7L1054.0 163.7L1055.0 165.7L1056.0 167.7L1057.0 169.7L1058.0 171.8L1059.0 173.8L1060.0 175.8L1061.0 177.9L1062.0 179.9L1063.0 182.0L1064.0 184.0L1065.0 186.1L1066.0 188.1L1067.0 190.2L1068.0 192.2L1069.0 194.3L1070.0 196.4L1071.0 198.4L1072.0 200.5L1073.0 202.5L1074.0 204.6L1075.0 206.6L1076.0 208.7L1077.0 210.7L1078.0 212.8L1079.0 214.8L1080.0 216.9L1081.0 218.9L1082.0 220.9L1083.0 223.0L1084.0 225.0L1085.0 227.0L1086.0 229.0L1087.0 231.1L1088.0 233.1L1089.0 235.1L1090.0 237.1L1091.0 239.1L1092.0 241.1L1093.0 243.0L1094.0 245.0L1095.0 247.0L1096.0 248.9L1097.0 250.9L1098.0 252.8L1099.0 254.8L1100.0 256.7L1101.0 258.6L1102.0 260.5L1102.6 261.7" fill="none" stroke="#e07c7c" stroke-width="1.15" stroke-linejoin="round"/><path d="M788.0 262.9L789.0 260.5L790.0 258.1L791.0 255.7L792.0 253.3L793.0 250.9L794.0 248.5L795.0 246.2L796.0 243.8L797.0 241.4L798.0 239.0L799.0 236.6L800.0 234.2L801.0 231.8L802.0 229.4L803.0 227.0L804.0 224.6L805.0 222.2L806.0 219.8L807.0 217.5L808.0 215.1L809.0 212.7L810.0 210.3L811.0 208.0L812.0 205.6L813.0 203.3L814.0 200.9L815.0 198.6L816.0 196.2L817.0 193.9L818.0 191.6L819.0 189.2L820.0 186.9L821.0 184.6L822.0 182.3L823.0 180.0L824.0 177.7L825.0 175.4L826.0 173.2L827.0 170.9L828.0 168.7L829.0 166.4L830.0 164.2L831.0 162.0L832.0 159.7L833.0 157.5L834.0 155.3L835.0 153.1L836.0 151.0L837.0 148.8L838.0 146.7L839.0 144.5L840.0 142.4L841.0 140.3L842.0 138.2L843.0 136.1L844.0 134.0L845.0 131.9L846.0 129.9L847.0 127.9L848.0 125.8L849.0 123.8L850.0 121.8L851.0 119.9L852.0 117.9L853.0 116.0L854.0 114.0L855.0 112.1L856.0 110.2L857.0 108.3L858.0 106.5L859.0 104.6L860.0 102.8L861.0 101.0L862.0 99.2L863.0 97.4L864.0 95.6L865.0 93.9L866.0 92.2L867.0 90.5L868.0 88.8L869.0 87.1L870.0 85.5L871.0 83.9L872.0 82.3L873.0 80.7L874.0 79.1L875.0 77.6L876.0 76.1L877.0 74.6L878.0 73.1L879.0 71.7L880.0 70.2L881.0 68.8L882.0 67.4L883.0 66.0L884.0 64.7L885.0 63.4L886.0 62.1L887.0 60.8L888.0 59.5L889.0 58.3L890.0 57.0L891.0 55.8L892.0 54.7L893.0 53.5L894.0 52.4L895.0 51.3L896.0 50.2L897.0 49.1L898.0 48.1L899.0 47.0L900.0 46.0L901.0 45.1L902.0 44.1L903.0 43.2L904.0 42.3L905.0 41.4L906.0 40.5L907.0 39.7L908.0 38.9L909.0 38.1L910.0 37.3L911.0 36.5L912.0 35.8L913.0 35.1L914.0 34.5L915.0 33.8L916.0 33.2L917.0 32.6L918.0 32.0L919.0 31.4L920.0 30.9L921.0 30.4L922.0 29.9L923.0 29.5L924.0 29.0L925.0 28.6L926.0 28.3L927.0 27.9L928.0 27.6L929.0 27.3L930.0 27.0L931.0 26.7L932.0 26.5L933.0 26.3L934.0 26.1L935.0 26.0L936.0 25.8L937.0 25.7L938.0 25.6L939.0 25.6L940.0 25.6L941.0 25.6L942.0 25.6L943.0 25.7L944.0 25.7L945.0 25.8L946.0 26.0L947.0 26.1L948.0 26.3L949.0 26.5L950.0 26.8L951.0 27.1L952.0 27.4L953.0 27.7L954.0 28.0L955.0 28.4L956.0 28.8L957.0 29.2L958.0 29.7L959.0 30.2L960.0 30.7L961.0 31.2L962.0 31.7L963.0 32.3L964.0 32.9L965.0 33.5L966.0 34.2L967.0 34.9L968.0 35.6L969.0 36.3L970.0 37.0L971.0 37.8L972.0 38.6L973.0 39.4L974.0 40.2L975.0 41.1L976.0 42.0L977.0 42.9L978.0 43.8L979.0 44.7L980.0 45.7L981.0 46.7L982.0 47.7L983.0 48.7L984.0 49.8L985.0 50.9L986.0 51.9L987.0 53.1L988.0 54.2L989.0 55.3L990.0 56.5L991.0 57.7L992.0 58.9L993.0 60.1L994.0 61.4L995.0 62.7L996.0 63.9L997.0 65.3L998.0 66.6L999.0 67.9L1000.0 69.3L1001.0 70.6L1002.0 72.0L1003.0 73.5L1004.0 74.9L1005.0 76.3L1006.0 77.8L1007.0 79.3L1008.0 80.8L1009.0 82.3L1010.0 83.8L1011.0 85.3L1012.0 86.9L1013.0 88.5L1014.0 90.1L1015.0 91.7L1016.0 93.3L1017.0 94.9L1018.0 96.6L1019.0 98.2L1020.0 99.9L1021.0 101.6L1022.0 103.3L1023.0 105.0L1024.0 106.7L1025.0 108.5L1026.0 110.2L1027.0 112.0L1028.0 113.8L1029.0 115.6L1030.0 117.4L1031.0 119.2L1032.0 121.0L1033.0 122.9L1034.0 124.7L1035.0 126.6L1036.0 128.5L1037.0 130.3L1038.0 132.2L1039.0 134.1L1040.0 136.1L1041.0 138.0L1042.0 139.9L1043.0 141.9L1044.0 143.8L1045.0 145.8L1046.0 147.7L1047.0 149.7L1048.0 151.7L1049.0 153.7L1050.0 155.6L1051.0 157.6L1052.0 159.6L1053.0 161.7L1054.0 163.7L1055.0 165.7L1056.0 167.7L1057.0 169.7L1058.0 171.8L1059.0 173.8L1060.0 175.8L1061.0 177.9L1062.0 179.9L1063.0 182.0L1064.0 184.0L1065.0 186.1L1066.0 188.1L1067.0 190.2L1068.0 192.2L1069.0 194.3L1070.0 196.4L1071.0 198.4L1072.0 200.5L1073.0 202.5L1074.0 204.6L1075.0 206.6L1076.0 208.7L1077.0 210.7L1078.0 212.8L1079.0 214.8L1080.0 216.9L1081.0 218.9L1082.0 220.9L1083.0 223.0L1084.0 225.0L1085.0 227.0L1086.0 229.0L1087.0 231.1L1088.0 233.1L1089.0 235.1L1090.0 237.1L1091.0 239.1L1092.0 241.1L1093.0 243.0L1094.0 245.0L1095.0 247.0L1096.0 248.9L1097.0 250.9L1098.0 252.8L1099.0 254.8L1100.0 256.7L1101.0 258.6L1102.0 260.5L1102.6 261.7" fill="none" stroke="#80cc80" stroke-width="1.15" stroke-linejoin="round"/><path d="M788.0 262.9L789.0 260.5L790.0 258.1L791.0 255.7L792.0 253.3L793.0 250.9L794.0 248.5L795.0 246.2L796.0 243.8L797.0 241.4L798.0 239.0L799.0 236.6L800.0 234.2L801.0 231.8L802.0 229.4L803.0 227.0L804.0 224.6L805.0 222.2L806.0 219.8L807.0 217.5L808.0 215.1L809.0 212.7L810.0 210.3L811.0 208.0L812.0 205.6L813.0 203.3L814.0 200.9L815.0 198.6L816.0 196.2L817.0 193.9L818.0 191.6L819.0 189.2L820.0 186.9L821.0 184.6L822.0 182.3L823.0 180.0L824.0 177.7L825.0 175.4L826.0 173.2L827.0 170.9L828.0 168.7L829.0 166.4L830.0 164.2L831.0 162.0L832.0 159.7L833.0 157.5L834.0 155.3L835.0 153.1L836.0 151.0L837.0 148.8L838.0 146.7L839.0 144.5L840.0 142.4L841.0 140.3L842.0 138.2L843.0 136.1L844.0 134.0L845.0 131.9L846.0 129.9L847.0 127.9L848.0 125.8L849.0 123.8L850.0 121.8L851.0 119.9L852.0 117.9L853.0 116.0L854.0 114.0L855.0 112.1L856.0 110.2L857.0 108.3L858.0 106.5L859.0 104.6L860.0 102.8L861.0 101.0L862.0 99.2L863.0 97.4L864.0 95.6L865.0 93.9L866.0 92.2L867.0 90.5L868.0 88.8L869.0 87.1L870.0 85.5L871.0 83.9L872.0 82.3L873.0 80.7L874.0 79.1L875.0 77.6L876.0 76.1L877.0 74.6L878.0 73.1L879.0 71.7L880.0 70.2L881.0 68.8L882.0 67.4L883.0 66.0L884.0 64.7L885.0 63.4L886.0 62.1L887.0 60.8L888.0 59.5L889.0 58.3L890.0 57.0L891.0 55.8L892.0 54.7L893.0 53.5L894.0 52.4L895.0 51.3L896.0 50.2L897.0 49.1L898.0 48.1L899.0 47.0L900.0 46.0L901.0 45.1L902.0 44.1L903.0 43.2L904.0 42.3L905.0 41.4L906.0 40.5L907.0 39.7L908.0 38.9L909.0 38.1L910.0 37.3L911.0 36.5L912.0 35.8L913.0 35.1L914.0 34.5L915.0 33.8L916.0 33.2L917.0 32.6L918.0 32.0L919.0 31.4L920.0 30.9L921.0 30.4L922.0 29.9L923.0 29.5L924.0 29.0L925.0 28.6L926.0 28.3L927.0 27.9L928.0 27.6L929.0 27.3L930.0 27.0L931.0 26.7L932.0 26.5L933.0 26.3L934.0 26.1L935.0 26.0L936.0 25.8L937.0 25.7L938.0 25.6L939.0 25.6L940.0 25.6L941.0 25.6L942.0 25.6L943.0 25.7L944.0 25.7L945.0 25.8L946.0 26.0L947.0 26.1L948.0 26.3L949.0 26.5L950.0 26.8L951.0 27.1L952.0 27.4L953.0 27.7L954.0 28.0L955.0 28.4L956.0 28.8L957.0 29.2L958.0 29.7L959.0 30.2L960.0 30.7L961.0 31.2L962.0 31.7L963.0 32.3L964.0 32.9L965.0 33.5L966.0 34.2L967.0 34.9L968.0 35.6L969.0 36.3L970.0 37.0L971.0 37.8L972.0 38.6L973.0 39.4L974.0 40.2L975.0 41.1L976.0 42.0L977.0 42.9L978.0 43.8L979.0 44.7L980.0 45.7L981.0 46.7L982.0 47.7L983.0 48.7L984.0 49.8L985.0 50.9L986.0 51.9L987.0 53.1L988.0 54.2L989.0 55.3L990.0 56.5L991.0 57.7L992.0 58.9L993.0 60.1L994.0 61.4L995.0 62.7L996.0 63.9L997.0 65.3L998.0 66.6L999.0 67.9L1000.0 69.3L1001.0 70.6L1002.0 72.0L1003.0 73.5L1004.0 74.9L1005.0 76.3L1006.0 77.8L1007.0 79.3L1008.0 80.8L1009.0 82.3L1010.0 83.8L1011.0 85.3L1012.0 86.9L1013.0 88.5L1014.0 90.1L1015.0 91.7L1016.0 93.3L1017.0 94.9L1018.0 96.6L1019.0 98.2L1020.0 99.9L1021.0 101.6L1022.0 103.3L1023.0 105.0L1024.0 106.7L1025.0 108.5L1026.0 110.2L1027.0 112.0L1028.0 113.8L1029.0 115.6L1030.0 117.4L1031.0 119.2L1032.0 121.0L1033.0 122.9L1034.0 124.7L1035.0 126.6L1036.0 128.5L1037.0 130.3L1038.0 132.2L1039.0 134.1L1040.0 136.1L1041.0 138.0L1042.0 139.9L1043.0 141.9L1044.0 143.8L1045.0 145.8L1046.0 147.7L1047.0 149.7L1048.0 151.7L1049.0 153.7L1050.0 155.6L1051.0 157.6L1052.0 159.6L1053.0 161.7L1054.0 163.7L1055.0 165.7L1056.0 167.7L1057.0 169.7L1058.0 171.8L1059.0 173.8L1060.0 175.8L1061.0 177.9L1062.0 179.9L1063.0 182.0L1064.0 184.0L1065.0 186.1L1066.0 188.1L1067.0 190.2L1068.0 192.2L1069.0 194.3L1070.0 196.4L1071.0 198.4L1072.0 200.5L1073.0 202.5L1074.0 204.6L1075.0 206.6L1076.0 208.7L1077.0 210.7L1078.0 212.8L1079.0 214.8L1080.0 216.9L1081.0 218.9L1082.0 220.9L1083.0 223.0L1084.0 225.0L1085.0 227.0L1086.0 229.0L1087.0 231.1L1088.0 233.1L1089.0 235.1L1090.0 237.1L1091.0 239.1L1092.0 241.1L1093.0 243.0L1094.0 245.0L1095.0 247.0L1096.0 248.9L1097.0 250.9L1098.0 252.8L1099.0 254.8L1100.0 256.7L1101.0 258.6L1102.0 260.5L1102.6 261.7" fill="none" stroke="#7676c6" stroke-width="1.15" stroke-linejoin="round"/><path d="M788.0 262.9L789.0 260.5L790.0 258.1L791.0 255.7L792.0 253.3L793.0 250.9L794.0 248.5L795.0 246.2L796.0 243.8L797.0 241.4L798.0 239.0L799.0 236.6L800.0 234.2L801.0 231.8L802.0 229.4L803.0 227.0L804.0 224.6L805.0 222.2L806.0 219.8L807.0 217.5L808.0 215.1L809.0 212.7L810.0 210.3L811.0 208.0L812.0 205.6L813.0 203.3L814.0 200.9L815.0 198.6L816.0 196.2L817.0 193.9L818.0 191.6L819.0 189.2L820.0 186.9L821.0 184.6L822.0 182.3L823.0 180.0L824.0 177.7L825.0 175.4L826.0 173.2L827.0 170.9L828.0 168.7L829.0 166.4L830.0 164.2L831.0 162.0L832.0 159.7L833.0 157.5L834.0 155.3L835.0 153.1L836.0 151.0L837.0 148.8L838.0 146.7L839.0 144.5L840.0 142.4L841.0 140.3L842.0 138.2L843.0 136.1L844.0 134.0L845.0 131.9L846.0 129.9L847.0 127.9L848.0 125.8L849.0 123.8L850.0 121.8L851.0 119.9L852.0 117.9L853.0 116.0L854.0 114.0L855.0 112.1L856.0 110.2L857.0 108.3L858.0 106.5L859.0 104.6L860.0 102.8L861.0 101.0L862.0 99.2L863.0 97.4L864.0 95.6L865.0 93.9L866.0 92.2L867.0 90.5L868.0 88.8L869.0 87.1L870.0 85.5L871.0 83.9L872.0 82.3L873.0 80.7L874.0 79.1L875.0 77.6L876.0 76.1L877.0 74.6L878.0 73.1L879.0 71.7L880.0 70.2L881.0 68.8L882.0 67.4L883.0 66.0L884.0 64.7L885.0 63.4L886.0 62.1L887.0 60.8L888.0 59.5L889.0 58.3L890.0 57.0L891.0 55.8L892.0 54.7L893.0 53.5L894.0 52.4L895.0 51.3L896.0 50.2L897.0 49.1L898.0 48.1L899.0 47.0L900.0 46.0L901.0 45.1L902.0 44.1L903.0 43.2L904.0 42.3L905.0 41.4L906.0 40.5L907.0 39.7L908.0 38.9L909.0 38.1L910.0 37.3L911.0 36.5L912.0 35.8L913.0 35.1L914.0 34.5L915.0 33.8L916.0 33.2L917.0 32.6L918.0 32.0L919.0 31.4L920.0 30.9L921.0 30.4L922.0 29.9L923.0 29.5L924.0 29.0L925.0 28.6L926.0 28.3L927.0 27.9L928.0 27.6L929.0 27.3L930.0 27.0L931.0 26.7L932.0 26.5L933.0 26.3L934.0 26.1L935.0 26.0L936.0 25.8L937.0 25.7L938.0 25.6L939.0 25.6L940.0 25.6L941.0 25.6L942.0 25.6L943.0 25.7L944.0 25.7L945.0 25.8L946.0 26.0L947.0 26.1L948.0 26.3L949.0 26.5L950.0 26.8L951.0 27.1L952.0 27.4L953.0 27.7L954.0 28.0L955.0 28.4L956.0 28.8L957.0 29.2L958.0 29.7L959.0 30.2L960.0 30.7L961.0 31.2L962.0 31.7L963.0 32.3L964.0 32.9L965.0 33.5L966.0 34.2L967.0 34.9L968.0 35.6L969.0 36.3L970.0 37.0L971.0 37.8L972.0 38.6L973.0 39.4L974.0 40.2L975.0 41.1L976.0 42.0L977.0 42.9L978.0 43.8L979.0 44.7L980.0 45.7L981.0 46.7L982.0 47.7L983.0 48.7L984.0 49.8L985.0 50.9L986.0 51.9L987.0 53.1L988.0 54.2L989.0 55.3L990.0 56.5L991.0 57.7L992.0 58.9L993.0 60.1L994.0 61.4L995.0 62.7L996.0 63.9L997.0 65.3L998.0 66.6L999.0 67.9L1000.0 69.3L1001.0 70.6L1002.0 72.0L1003.0 73.5L1004.0 74.9L1005.0 76.3L1006.0 77.8L1007.0 79.3L1008.0 80.8L1009.0 82.3L1010.0 83.8L1011.0 85.3L1012.0 86.9L1013.0 88.5L1014.0 90.1L1015.0 91.7L1016.0 93.3L1017.0 94.9L1018.0 96.6L1019.0 98.2L1020.0 99.9L1021.0 101.6L1022.0 103.3L1023.0 105.0L1024.0 106.7L1025.0 108.5L1026.0 110.2L1027.0 112.0L1028.0 113.8L1029.0 115.6L1030.0 117.4L1031.0 119.2L1032.0 121.0L1033.0 122.9L1034.0 124.7L1035.0 126.6L1036.0 128.5L1037.0 130.3L1038.0 132.2L1039.0 134.1L1040.0 136.1L1041.0 138.0L1042.0 139.9L1043.0 141.9L1044.0 143.8L1045.0 145.8L1046.0 147.7L1047.0 149.7L1048.0 151.7L1049.0 153.7L1050.0 155.6L1051.0 157.6L1052.0 159.6L1053.0 161.7L1054.0 163.7L1055.0 165.7L1056.0 167.7L1057.0 169.7L1058.0 171.8L1059.0 173.8L1060.0 175.8L1061.0 177.9L1062.0 179.9L1063.0 182.0L1064.0 184.0L1065.0 186.1L1066.0 188.1L1067.0 190.2L1068.0 192.2L1069.0 194.3L1070.0 196.4L1071.0 198.4L1072.0 200.5L1073.0 202.5L1074.0 204.6L1075.0 206.6L1076.0 208.7L1077.0 210.7L1078.0 212.8L1079.0 214.8L1080.0 216.9L1081.0 218.9L1082.0 220.9L1083.0 223.0L1084.0 225.0L1085.0 227.0L1086.0 229.0L1087.0 231.1L1088.0 233.1L1089.0 235.1L1090.0 237.1L1091.0 239.1L1092.0 241.1L1093.0 243.0L1094.0 245.0L1095.0 247.0L1096.0 248.9L1097.0 250.9L1098.0 252.8L1099.0 254.8L1100.0 256.7L1101.0 258.6L1102.0 260.5L1102.6 261.7" fill="none" stroke="#505050" stroke-width="1.15" stroke-linejoin="round"/><circle cx="788.0" cy="262.9" r="1.65" fill="#6262b4"/><circle cx="798.1" cy="238.6" r="1.65" fill="#6262b4"/><circle cx="808.3" cy="214.4" r="1.65" fill="#6262b4"/><circle cx="818.4" cy="190.5" r="1.65" fill="#6262b4"/><circle cx="828.6" cy="167.3" r="1.65" fill="#6262b4"/><circle cx="838.7" cy="145.1" r="1.65" fill="#6262b4"/><circle cx="848.9" cy="124.0" r="1.65" fill="#6262b4"/><circle cx="859.0" cy="104.5" r="1.65" fill="#6262b4"/><circle cx="869.2" cy="86.8" r="1.65" fill="#6262b4"/><circle cx="879.3" cy="71.2" r="1.65" fill="#6262b4"/><circle cx="889.5" cy="57.7" r="1.65" fill="#6262b4"/><circle cx="899.6" cy="46.4" r="1.65" fill="#6262b4"/><circle cx="909.8" cy="37.5" r="1.65" fill="#6262b4"/><circle cx="919.9" cy="30.9" r="1.65" fill="#6262b4"/><circle cx="930.1" cy="27.0" r="1.65" fill="#6262b4"/><circle cx="940.2" cy="25.6" r="1.65" fill="#6262b4"/><circle cx="950.4" cy="26.9" r="1.65" fill="#6262b4"/><circle cx="960.5" cy="30.9" r="1.65" fill="#6262b4"/><circle cx="970.7" cy="37.5" r="1.65" fill="#6262b4"/><circle cx="980.8" cy="46.5" r="1.65" fill="#6262b4"/><circle cx="991.0" cy="57.7" r="1.65" fill="#6262b4"/><circle cx="1001.1" cy="70.8" r="1.65" fill="#6262b4"/><circle cx="1011.3" cy="85.7" r="1.65" fill="#6262b4"/><circle cx="1021.4" cy="102.3" r="1.65" fill="#6262b4"/><circle cx="1031.6" cy="120.2" r="1.65" fill="#6262b4"/><circle cx="1041.7" cy="139.4" r="1.65" fill="#6262b4"/><circle cx="1051.9" cy="159.4" r="1.65" fill="#6262b4"/><circle cx="1062.0" cy="179.9" r="1.65" fill="#6262b4"/><circle cx="1072.2" cy="200.8" r="1.65" fill="#6262b4"/><circle cx="1082.3" cy="221.6" r="1.65" fill="#6262b4"/><circle cx="1092.5" cy="242.0" r="1.65" fill="#6262b4"/><circle cx="1102.6" cy="261.7" r="1.65" fill="#6262b4"/><circle cx="788.0" cy="262.9" r="1.65" fill="#2a2a40"/><circle cx="798.1" cy="238.6" r="1.65" fill="#2a2a40"/><circle cx="808.3" cy="214.4" r="1.65" fill="#2a2a40"/><circle cx="818.4" cy="190.5" r="1.65" fill="#2a2a40"/><circle cx="828.6" cy="167.3" r="1.65" fill="#2a2a40"/><circle cx="838.7" cy="145.1" r="1.65" fill="#2a2a40"/><circle cx="848.9" cy="124.0" r="1.65" fill="#2a2a40"/><circle cx="859.0" cy="104.5" r="1.65" fill="#2a2a40"/><circle cx="869.2" cy="86.8" r="1.65" fill="#2a2a40"/><circle cx="879.3" cy="71.2" r="1.65" fill="#2a2a40"/><circle cx="889.5" cy="57.7" r="1.65" fill="#2a2a40"/><circle cx="899.6" cy="46.4" r="1.65" fill="#2a2a40"/><circle cx="909.8" cy="37.5" r="1.65" fill="#2a2a40"/><circle cx="919.9" cy="30.9" r="1.65" fill="#2a2a40"/><circle cx="930.1" cy="27.0" r="1.65" fill="#2a2a40"/><circle cx="940.2" cy="25.6" r="1.65" fill="#2a2a40"/><circle cx="950.4" cy="26.9" r="1.65" fill="#2a2a40"/><circle cx="960.5" cy="30.9" r="1.65" fill="#2a2a40"/><circle cx="970.7" cy="37.5" r="1.65" fill="#2a2a40"/><circle cx="980.8" cy="46.5" r="1.65" fill="#2a2a40"/><circle cx="991.0" cy="57.7" r="1.65" fill="#2a2a40"/><circle cx="1001.1" cy="70.8" r="1.65" fill="#2a2a40"/><circle cx="1011.3" cy="85.7" r="1.65" fill="#2a2a40"/><circle cx="1021.4" cy="102.3" r="1.65" fill="#2a2a40"/><circle cx="1031.6" cy="120.2" r="1.65" fill="#2a2a40"/><circle cx="1041.7" cy="139.4" r="1.65" fill="#2a2a40"/><circle cx="1051.9" cy="159.4" r="1.65" fill="#2a2a40"/><circle cx="1062.0" cy="179.9" r="1.65" fill="#2a2a40"/><circle cx="1072.2" cy="200.8" r="1.65" fill="#2a2a40"/><circle cx="1082.3" cy="221.6" r="1.65" fill="#2a2a40"/><circle cx="1092.5" cy="242.0" r="1.65" fill="#2a2a40"/><circle cx="1102.6" cy="261.7" r="1.65" fill="#2a2a40"/><path d="M42.5 573.4L43.5 573.4L44.5 573.5L45.5 573.5L46.5 573.5L47.5 573.6L48.5 573.6L49.5 573.7L50.5 573.7L51.5 573.8L52.5 573.8L53.5 573.9L54.5 573.9L55.5 574.0L56.5 574.0L57.5 574.1L58.5 574.1L59.5 574.2L60.5 574.2L61.5 574.3L62.5 574.3L63.5 574.4L64.5 574.4L65.5 574.5L66.5 574.5L67.5 574.5L68.5 574.6L69.5 574.6L70.5 574.6L71.5 574.6L72.5 574.6L73.5 574.6L74.5 574.6L75.5 574.6L76.5 574.6L77.5 574.6L78.5 574.6L79.5 574.6L80.5 574.5L81.5 574.5L82.5 574.4L83.5 574.4L84.5 574.3L85.5 574.2L86.5 574.1L87.5 574.0L88.5 573.9L89.5 573.8L90.5 573.7L91.5 573.6L92.5 573.4L93.5 573.3L94.5 573.1L95.5 572.9L96.5 572.7L97.5 572.5L98.5 572.3L99.5 572.1L100.5 571.8L101.5 571.6L102.5 571.3L103.5 571.0L104.5 570.7L105.5 570.4L106.5 570.1L107.5 569.7L108.5 569.4L109.5 569.0L110.5 568.6L111.5 568.2L112.5 567.8L113.5 567.4L114.5 566.9L115.5 566.5L116.5 566.0L117.5 565.5L118.5 565.0L119.5 564.5L120.5 563.9L121.5 563.4L122.5 562.8L123.5 562.2L124.5 561.6L125.5 561.0L126.5 560.4L127.5 559.7L128.5 559.0L129.5 558.4L130.5 557.7L131.5 556.9L132.5 556.2L133.5 555.5L134.5 554.7L135.5 553.9L136.5 553.1L137.5 552.3L138.5 551.5L139.5 550.6L140.5 549.7L141.5 548.9L142.5 548.0L143.5 547.0L144.5 546.1L145.5 545.2L146.5 544.2L147.5 543.2L148.5 542.2L149.5 541.2L150.5 540.2L151.5 539.1L152.5 538.0L153.5 537.0L154.5 535.9L155.5 534.8L156.5 533.6L157.5 532.5L158.5 531.4L159.5 530.2L160.5 529.0L161.5 527.8L162.5 526.6L163.5 525.4L164.5 524.2L165.5 523.0L166.5 521.7L167.5 520.4L168.5 519.2L169.5 517.9L170.5 516.6L171.5 515.3L172.5 514.0L173.5 512.7L174.5 511.3L175.5 510.0L176.5 508.6L177.5 507.3L178.5 505.9L179.5 504.5L180.5 503.1L181.5 501.7L182.5 500.3L183.5 498.9L184.5 497.5L185.5 496.1L186.5 494.6L187.5 493.2L188.5 491.7L189.5 490.3L190.5 488.8L191.5 487.4L192.5 485.9L193.5 484.4L194.5 483.0L195.5 481.5L196.5 480.0L197.5 478.5L198.5 477.1L199.5 475.6L200.5 474.1L201.5 472.6L202.5 471.2L203.5 469.7L204.5 468.2L205.5 466.7L206.5 465.3L207.5 463.8L208.5 462.3L209.5 460.9L210.5 459.4L211.5 458.0L212.5 456.6L213.5 455.1L214.5 453.7L215.5 452.3L216.5 450.9L217.5 449.5L218.5 448.1L219.5 446.7L220.5 445.3L221.5 444.0L222.5 442.6L223.5 441.3L224.5 440.0L225.5 438.7L226.5 437.4L227.5 436.1L228.5 434.8L229.5 433.6L230.5 432.3L231.5 431.1L232.5 429.9L233.5 428.7L234.5 427.5L235.5 426.3L236.5 425.1L237.5 424.0L238.5 422.8L239.5 421.7L240.5 420.6L241.5 419.5L242.5 418.4L243.5 417.3L244.5 416.3L245.5 415.2L246.5 414.2L247.5 413.2L248.5 412.2L249.5 411.2L250.5 410.2L251.5 409.3L252.5 408.3L253.5 407.4L254.5 406.5L255.5 405.6L256.5 404.7L257.5 403.8L258.5 403.0L259.5 402.1L260.5 401.3L261.5 400.5L262.5 399.7L263.5 398.9L264.5 398.1L265.5 397.4L266.5 396.6L267.5 395.9L268.5 395.2L269.5 394.5L270.5 393.8L271.5 393.2L272.5 392.5L273.5 391.9L274.5 391.3L275.5 390.7L276.5 390.1L277.5 389.5L278.5 389.0L279.5 388.4L280.5 387.9L281.5 387.4L282.5 386.9L283.5 386.4L284.5 386.0L285.5 385.5L286.5 385.1L287.5 384.7L288.5 384.3L289.5 384.0L290.5 383.6L291.5 383.3L292.5 382.9L293.5 382.6L294.5 382.3L295.5 382.1L296.5 381.8L297.5 381.5L298.5 381.3L299.5 381.1L300.5 380.9L301.5 380.7L302.5 380.5L303.5 380.4L304.5 380.2L305.5 380.1L306.5 379.9L307.5 379.8L308.5 379.7L309.5 379.6L310.5 379.5L311.5 379.4L312.5 379.3L313.5 379.3L314.5 379.2L315.5 379.2L316.5 379.1L317.5 379.1L318.5 379.1L319.5 379.1L320.5 379.0L321.5 379.0L322.5 379.0L323.5 379.0L324.5 379.0L325.5 379.0L326.5 379.0L327.5 379.1L328.5 379.1L329.5 379.1L330.5 379.1L331.5 379.1L332.5 379.2L333.5 379.2L334.5 379.2L335.5 379.2L336.5 379.3L337.5 379.3L338.5 379.3L339.5 379.3L340.5 379.3L341.5 379.4L342.5 379.4L343.5 379.4L344.5 379.4L345.5 379.4L346.5 379.4L347.5 379.4L348.5 379.4L349.5 379.3L350.5 379.3L351.5 379.3L352.5 379.3L353.5 379.2L354.5 379.2L355.5 379.1L356.5 379.0L357.0 379.0" fill="none" stroke="#e07c7c" stroke-width="1.15" stroke-linejoin="round"/><path d="M42.5 573.5L43.5 573.4L44.5 573.3L45.5 573.2L46.5 573.1L47.5 573.1L48.5 573.0L49.5 573.0L50.5 572.9L51.5 572.9L52.5 572.9L53.5 572.8L54.5 572.8L55.5 572.8L56.5 572.8L57.5 572.8L58.5 572.8L59.5 572.9L60.5 572.9L61.5 572.9L62.5 572.9L63.5 573.0L64.5 573.0L65.5 573.0L66.5 573.1L67.5 573.1L68.5 573.2L69.5 573.2L70.5 573.3L71.5 573.3L72.5 573.4L73.5 573.5L74.5 573.5L75.5 573.6L76.5 573.6L77.5 573.7L78.5 573.7L79.5 573.8L80.5 573.8L81.5 573.9L82.5 573.9L83.5 573.9L84.5 574.0L85.5 574.0L86.5 574.0L87.5 574.1L88.5 574.1L89.5 574.1L90.5 574.1L91.5 574.1L92.5 574.1L93.5 574.1L94.5 574.1L95.5 574.1L96.5 574.1L97.5 574.0L98.5 574.0L99.5 573.9L100.5 573.9L101.5 573.8L102.5 573.7L103.5 573.6L104.5 573.5L105.5 573.4L106.5 573.3L107.5 573.2L108.5 573.0L109.5 572.9L110.5 572.7L111.5 572.5L112.5 572.4L113.5 572.2L114.5 571.9L115.5 571.7L116.5 571.5L117.5 571.2L118.5 570.9L119.5 570.7L120.5 570.3L121.5 570.0L122.5 569.7L123.5 569.4L124.5 569.0L125.5 568.6L126.5 568.2L127.5 567.8L128.5 567.4L129.5 567.0L130.5 566.6L131.5 566.1L132.5 565.6L133.5 565.1L134.5 564.7L135.5 564.1L136.5 563.6L137.5 563.1L138.5 562.5L139.5 562.0L140.5 561.4L141.5 560.8L142.5 560.2L143.5 559.6L144.5 559.0L145.5 558.4L146.5 557.7L147.5 557.0L148.5 556.4L149.5 555.7L150.5 555.0L151.5 554.2L152.5 553.5L153.5 552.7L154.5 551.9L155.5 551.1L156.5 550.3L157.5 549.4L158.5 548.6L159.5 547.7L160.5 546.8L161.5 545.8L162.5 544.9L163.5 543.9L164.5 542.9L165.5 541.9L166.5 540.8L167.5 539.8L168.5 538.7L169.5 537.6L170.5 536.5L171.5 535.4L172.5 534.2L173.5 533.1L174.5 531.9L175.5 530.7L176.5 529.5L177.5 528.3L178.5 527.0L179.5 525.8L180.5 524.5L181.5 523.2L182.5 522.0L183.5 520.7L184.5 519.3L185.5 518.0L186.5 516.7L187.5 515.3L188.5 514.0L189.5 512.6L190.5 511.3L191.5 509.9L192.5 508.5L193.5 507.1L194.5 505.7L195.5 504.3L196.5 502.9L197.5 501.5L198.5 500.0L199.5 498.6L200.5 497.2L201.5 495.7L202.5 494.3L203.5 492.8L204.5 491.4L205.5 489.9L206.5 488.5L207.5 487.0L208.5 485.5L209.5 484.1L210.5 482.6L211.5 481.2L212.5 479.7L213.5 478.3L214.5 476.8L215.5 475.3L216.5 473.9L217.5 472.4L218.5 471.0L219.5 469.5L220.5 468.1L221.5 466.7L222.5 465.2L223.5 463.8L224.5 462.4L225.5 461.0L226.5 459.6L227.5 458.2L228.5 456.8L229.5 455.4L230.5 454.0L231.5 452.6L232.5 451.3L233.5 449.9L234.5 448.6L235.5 447.2L236.5 445.9L237.5 444.6L238.5 443.3L239.5 442.0L240.5 440.7L241.5 439.5L242.5 438.2L243.5 437.0L244.5 435.7L245.5 434.5L246.5 433.3L247.5 432.1L248.5 430.9L249.5 429.7L250.5 428.6L251.5 427.4L252.5 426.3L253.5 425.1L254.5 424.0L255.5 422.9L256.5 421.8L257.5 420.7L258.5 419.7L259.5 418.6L260.5 417.6L261.5 416.5L262.5 415.5L263.5 414.5L264.5 413.5L265.5 412.6L266.5 411.6L267.5 410.6L268.5 409.7L269.5 408.8L270.5 407.9L271.5 407.0L272.5 406.1L273.5 405.2L274.5 404.4L275.5 403.5L276.5 402.7L277.5 401.9L278.5 401.1L279.5 400.3L280.5 399.6L281.5 398.8L282.5 398.1L283.5 397.3L284.5 396.6L285.5 395.9L286.5 395.3L287.5 394.6L288.5 394.0L289.5 393.3L290.5 392.7L291.5 392.1L292.5 391.5L293.5 391.0L294.5 390.4L295.5 389.9L296.5 389.3L297.5 388.8L298.5 388.4L299.5 387.9L300.5 387.4L301.5 387.0L302.5 386.6L303.5 386.2L304.5 385.8L305.5 385.4L306.5 385.0L307.5 384.7L308.5 384.4L309.5 384.1L310.5 383.8L311.5 383.5L312.5 383.2L313.5 383.0L314.5 382.7L315.5 382.5L316.5 382.3L317.5 382.1L318.5 381.9L319.5 381.7L320.5 381.5L321.5 381.3L322.5 381.2L323.5 381.0L324.5 380.9L325.5 380.8L326.5 380.6L327.5 380.5L328.5 380.4L329.5 380.3L330.5 380.2L331.5 380.1L332.5 380.1L333.5 380.0L334.5 379.9L335.5 379.8L336.5 379.8L337.5 379.7L338.5 379.7L339.5 379.6L340.5 379.6L341.5 379.5L342.5 379.5L343.5 379.5L344.5 379.4L345.5 379.4L346.5 379.3L347.5 379.3L348.5 379.3L349.5 379.2L350.5 379.2L351.5 379.2L352.5 379.1L353.5 379.1L354.5 379.0L355.5 379.0L356.5 378.9L357.0 378.9" fill="none" stroke="#80cc80" stroke-width="1.15" stroke-linejoin="round"/><path d="M42.6 573.5L43.6 573.5L44.6 573.5L45.6 573.5L46.6 573.5L47.6 573.5L48.6 573.5L49.6 573.5L50.6 573.5L51.6 573.5L52.6 573.5L53.6 573.5L54.6 573.5L55.6 573.5L56.6 573.5L57.6 573.5L58.6 573.5L59.6 573.5L60.6 573.5L61.6 573.4L62.6 573.4L63.6 573.4L64.6 573.4L65.6 573.4L66.6 573.4L67.6 573.4L68.6 573.4L69.6 573.4L70.6 573.4L71.6 573.4L72.6 573.5L73.6 573.5L74.6 573.5L75.6 573.5L76.6 573.5L77.6 573.5L78.6 573.5L79.6 573.5L80.6 573.5L81.6 573.5L82.6 573.5L83.6 573.5L84.6 573.6L85.6 573.6L86.6 573.6L87.6 573.6L88.6 573.6L89.6 573.6L90.6 573.7L91.6 573.7L92.6 573.7L93.6 573.7L94.6 573.8L95.6 573.8L96.6 573.8L97.6 573.8L98.6 573.9L99.6 573.9L100.6 573.9L101.6 574.0L102.6 574.0L103.6 574.1L104.6 574.1L105.6 574.1L106.6 574.2L107.6 574.2L108.6 574.3L109.6 574.3L110.6 574.4L111.6 574.4L112.6 574.5L113.6 574.5L114.6 574.6L115.6 574.7L116.6 574.7L117.6 574.8L118.6 574.9L119.6 574.9L120.6 575.0L121.6 575.1L122.6 575.1L123.6 575.2L124.6 575.3L125.6 575.4L126.6 575.5L127.6 575.6L128.6 575.6L129.6 575.7L130.6 575.8L131.6 575.9L132.6 576.0L133.6 576.1L134.6 576.2L135.6 576.3L136.6 576.4L137.6 576.5L138.6 576.6L139.6 576.7L140.6 576.8L141.6 577.0L142.6 577.1L143.6 577.2L144.6 577.3L145.6 577.4L146.6 577.5L147.6 577.6L148.6 577.7L149.6 577.8L150.6 577.9L151.6 578.0L152.6 578.1L153.6 578.1L154.6 578.2L155.6 578.2L156.6 578.2L157.6 578.2L158.6 578.2L159.6 578.2L160.6 578.1L161.6 578.1L162.6 578.0L163.6 577.8L164.6 577.7L165.6 577.5L166.6 577.3L167.6 577.1L168.6 576.8L169.6 576.5L170.6 576.2L171.6 575.9L172.6 575.5L173.6 575.1L174.6 574.7L175.6 574.3L176.6 573.8L177.6 573.3L178.6 572.8L179.6 572.3L180.6 571.7L181.6 571.2L182.6 570.6L183.6 569.9L184.6 569.3L185.6 568.6L186.6 567.9L187.6 567.2L188.6 566.5L189.6 565.7L190.6 564.9L191.6 564.1L192.6 563.3L193.6 562.4L194.6 561.5L195.6 560.7L196.6 559.7L197.6 558.8L198.6 557.8L199.6 556.9L200.6 555.9L201.6 554.8L202.6 553.8L203.6 552.7L204.6 551.6L205.6 550.5L206.6 549.4L207.6 548.3L208.6 547.1L209.6 545.9L210.6 544.8L211.6 543.5L212.6 542.3L213.6 541.1L214.6 539.8L215.6 538.5L216.6 537.2L217.6 535.9L218.6 534.6L219.6 533.3L220.6 531.9L221.6 530.6L222.6 529.2L223.6 527.8L224.6 526.4L225.6 525.0L226.6 523.6L227.6 522.1L228.6 520.7L229.6 519.2L230.6 517.8L231.6 516.3L232.6 514.8L233.6 513.3L234.6 511.9L235.6 510.4L236.6 508.8L237.6 507.3L238.6 505.8L239.6 504.3L240.6 502.8L241.6 501.2L242.6 499.7L243.6 498.1L244.6 496.6L245.6 495.0L246.6 493.5L247.6 491.9L248.6 490.4L249.6 488.8L250.6 487.3L251.6 485.7L252.6 484.1L253.6 482.6L254.6 481.0L255.6 479.5L256.6 477.9L257.6 476.4L258.6 474.8L259.6 473.3L260.6 471.7L261.6 470.2L262.6 468.6L263.6 467.1L264.6 465.6L265.6 464.1L266.6 462.5L267.6 461.0L268.6 459.5L269.6 458.0L270.6 456.6L271.6 455.1L272.6 453.6L273.6 452.1L274.6 450.7L275.6 449.2L276.6 447.8L277.6 446.4L278.6 445.0L279.6 443.6L280.6 442.2L281.6 440.8L282.6 439.4L283.6 438.1L284.6 436.7L285.6 435.4L286.6 434.1L287.6 432.8L288.6 431.5L289.6 430.2L290.6 429.0L291.6 427.7L292.6 426.5L293.6 425.3L294.6 424.1L295.6 422.9L296.6 421.7L297.6 420.6L298.6 419.4L299.6 418.3L300.6 417.2L301.6 416.1L302.6 415.0L303.6 413.9L304.6 412.8L305.6 411.8L306.6 410.7L307.6 409.7L308.6 408.7L309.6 407.7L310.6 406.7L311.6 405.8L312.6 404.8L313.6 403.9L314.6 402.9L315.6 402.0L316.6 401.1L317.6 400.2L318.6 399.4L319.6 398.5L320.6 397.6L321.6 396.8L322.6 396.0L323.6 395.2L324.6 394.4L325.6 393.6L326.6 392.9L327.6 392.1L328.6 391.4L329.6 390.7L330.6 390.0L331.6 389.3L332.6 388.6L333.6 388.0L334.6 387.4L335.6 386.8L336.6 386.2L337.6 385.6L338.6 385.1L339.6 384.5L340.6 384.0L341.6 383.6L342.6 383.1L343.6 382.7L344.6 382.3L345.6 381.9L346.6 381.5L347.6 381.2L348.6 380.9L349.6 380.6L350.6 380.4L351.6 380.2L352.6 380.0L353.6 379.8L354.6 379.7" fill="none" stroke="#7676c6" stroke-width="1.15" stroke-linejoin="round"/><path d="M42.6 573.6L43.6 573.6L44.6 573.6L45.6 573.6L46.6 573.5L47.6 573.5L48.6 573.5L49.6 573.5L50.6 573.5L51.6 573.4L52.6 573.4L53.6 573.4L54.6 573.4L55.6 573.4L56.6 573.4L57.6 573.4L58.6 573.4L59.6 573.4L60.6 573.4L61.6 573.3L62.6 573.3L63.6 573.3L64.6 573.3L65.6 573.3L66.6 573.3L67.6 573.3L68.6 573.3L69.6 573.4L70.6 573.4L71.6 573.4L72.6 573.4L73.6 573.4L74.6 573.4L75.6 573.4L76.6 573.4L77.6 573.4L78.6 573.4L79.6 573.5L80.6 573.5L81.6 573.5L82.6 573.5L83.6 573.5L84.6 573.6L85.6 573.6L86.6 573.6L87.6 573.6L88.6 573.7L89.6 573.7L90.6 573.7L91.6 573.7L92.6 573.8L93.6 573.8L94.6 573.8L95.6 573.9L96.6 573.9L97.6 574.0L98.6 574.0L99.6 574.0L100.6 574.1L101.6 574.1L102.6 574.2L103.6 574.2L104.6 574.2L105.6 574.3L106.6 574.3L107.6 574.4L108.6 574.4L109.6 574.5L110.6 574.5L111.6 574.6L112.6 574.6L113.6 574.7L114.6 574.8L115.6 574.8L116.6 574.9L117.6 574.9L118.6 575.0L119.6 575.1L120.6 575.1L121.6 575.2L122.6 575.3L123.6 575.3L124.6 575.4L125.6 575.5L126.6 575.5L127.6 575.6L128.6 575.7L129.6 575.8L130.6 575.8L131.6 575.9L132.6 576.0L133.6 576.1L134.6 576.1L135.6 576.2L136.6 576.3L137.6 576.4L138.6 576.4L139.6 576.5L140.6 576.6L141.6 576.7L142.6 576.8L143.6 576.8L144.6 576.9L145.6 577.0L146.6 577.1L147.6 577.2L148.6 577.3L149.6 577.3L150.6 577.4L151.6 577.5L152.6 577.6L153.6 577.7L154.6 577.7L155.6 577.8L156.6 577.9L157.6 578.0L158.6 578.0L159.6 578.1L160.6 578.2L161.6 578.3L162.6 578.3L163.6 578.4L164.6 578.5L165.6 578.6L166.6 578.6L167.6 578.7L168.6 578.8L169.6 578.8L170.6 578.9L171.6 578.9L172.6 579.0L173.6 579.0L174.6 579.1L175.6 579.1L176.6 579.2L177.6 579.2L178.6 579.2L179.6 579.2L180.6 579.2L181.6 579.2L182.6 579.2L183.6 579.2L184.6 579.2L185.6 579.1L186.6 579.1L187.6 579.0L188.6 579.0L189.6 578.9L190.6 578.8L191.6 578.7L192.6 578.5L193.6 578.4L194.6 578.2L195.6 578.0L196.6 577.8L197.6 577.5L198.6 577.2L199.6 576.9L200.6 576.6L201.6 576.3L202.6 575.9L203.6 575.5L204.6 575.0L205.6 574.5L206.6 574.0L207.6 573.5L208.6 572.9L209.6 572.3L210.6 571.7L211.6 571.0L212.6 570.3L213.6 569.6L214.6 568.8L215.6 568.0L216.6 567.2L217.6 566.3L218.6 565.5L219.6 564.6L220.6 563.6L221.6 562.7L222.6 561.7L223.6 560.7L224.6 559.6L225.6 558.6L226.6 557.5L227.6 556.4L228.6 555.2L229.6 554.0L230.6 552.8L231.6 551.6L232.6 550.4L233.6 549.1L234.6 547.8L235.6 546.5L236.6 545.2L237.6 543.8L238.6 542.4L239.6 541.0L240.6 539.6L241.6 538.1L242.6 536.6L243.6 535.1L244.6 533.6L245.6 532.1L246.6 530.5L247.6 528.9L248.6 527.3L249.6 525.7L250.6 524.1L251.6 522.4L252.6 520.8L253.6 519.1L254.6 517.4L255.6 515.7L256.6 514.0L257.6 512.2L258.6 510.5L259.6 508.7L260.6 507.0L261.6 505.2L262.6 503.4L263.6 501.6L264.6 499.9L265.6 498.1L266.6 496.3L267.6 494.5L268.6 492.7L269.6 490.9L270.6 489.1L271.6 487.2L272.6 485.4L273.6 483.6L274.6 481.8L275.6 480.0L276.6 478.2L277.6 476.4L278.6 474.6L279.6 472.9L280.6 471.1L281.6 469.3L282.6 467.6L283.6 465.8L284.6 464.1L285.6 462.3L286.6 460.6L287.6 458.9L288.6 457.2L289.6 455.5L290.6 453.8L291.6 452.2L292.6 450.5L293.6 448.9L294.6 447.2L295.6 445.6L296.6 444.0L297.6 442.4L298.6 440.8L299.6 439.3L300.6 437.7L301.6 436.1L302.6 434.6L303.6 433.1L304.6 431.6L305.6 430.1L306.6 428.6L307.6 427.1L308.6 425.7L309.6 424.2L310.6 422.8L311.6 421.4L312.6 420.0L313.6 418.6L314.6 417.2L315.6 415.9L316.6 414.5L317.6 413.2L318.6 411.9L319.6 410.6L320.6 409.3L321.6 408.0L322.6 406.8L323.6 405.5L324.6 404.3L325.6 403.1L326.6 401.9L327.6 400.7L328.6 399.6L329.6 398.4L330.6 397.3L331.6 396.2L332.6 395.2L333.6 394.1L334.6 393.1L335.6 392.1L336.6 391.1L337.6 390.2L338.6 389.3L339.6 388.4L340.6 387.6L341.6 386.7L342.6 386.0L343.6 385.2L344.6 384.5L345.6 383.8L346.6 383.2L347.6 382.6L348.6 382.0L349.6 381.5L350.6 381.0L351.6 380.5L352.6 380.1L353.6 379.8L354.6 379.5" fill="none" stroke="#505050" stroke-width="1.15" stroke-linejoin="round"/><circle cx="42.6" cy="573.5" r="1.65" fill="#6262b4"/><circle cx="52.7" cy="573.5" r="1.65" fill="#6262b4"/><circle cx="62.7" cy="573.4" r="1.65" fill="#6262b4"/><circle cx="72.8" cy="573.5" r="1.65" fill="#6262b4"/><circle cx="82.9" cy="573.5" r="1.65" fill="#6262b4"/><circle cx="92.9" cy="573.7" r="1.65" fill="#6262b4"/><circle cx="103.0" cy="574.0" r="1.65" fill="#6262b4"/><circle cx="113.1" cy="574.5" r="1.65" fill="#6262b4"/><circle cx="123.1" cy="575.2" r="1.65" fill="#6262b4"/><circle cx="133.2" cy="576.1" r="1.65" fill="#6262b4"/><circle cx="143.2" cy="577.1" r="1.65" fill="#6262b4"/><circle cx="153.3" cy="578.1" r="1.65" fill="#6262b4"/><circle cx="163.4" cy="577.9" r="1.65" fill="#6262b4"/><circle cx="173.4" cy="575.2" r="1.65" fill="#6262b4"/><circle cx="183.5" cy="570.0" r="1.65" fill="#6262b4"/><circle cx="193.6" cy="562.4" r="1.65" fill="#6262b4"/><circle cx="203.6" cy="552.7" r="1.65" fill="#6262b4"/><circle cx="213.7" cy="540.9" r="1.65" fill="#6262b4"/><circle cx="223.8" cy="527.6" r="1.65" fill="#6262b4"/><circle cx="233.8" cy="513.0" r="1.65" fill="#6262b4"/><circle cx="243.9" cy="497.7" r="1.65" fill="#6262b4"/><circle cx="254.0" cy="482.0" r="1.65" fill="#6262b4"/><circle cx="264.0" cy="466.5" r="1.65" fill="#6262b4"/><circle cx="274.1" cy="451.4" r="1.65" fill="#6262b4"/><circle cx="284.1" cy="437.3" r="1.65" fill="#6262b4"/><circle cx="294.2" cy="424.6" r="1.65" fill="#6262b4"/><circle cx="304.3" cy="413.2" r="1.65" fill="#6262b4"/><circle cx="314.3" cy="403.2" r="1.65" fill="#6262b4"/><circle cx="324.4" cy="394.6" r="1.65" fill="#6262b4"/><circle cx="334.5" cy="387.5" r="1.65" fill="#6262b4"/><circle cx="344.5" cy="382.3" r="1.65" fill="#6262b4"/><circle cx="354.6" cy="379.7" r="1.65" fill="#6262b4"/><circle cx="42.6" cy="573.6" r="1.65" fill="#424242"/><circle cx="52.7" cy="573.4" r="1.65" fill="#424242"/><circle cx="62.7" cy="573.3" r="1.65" fill="#424242"/><circle cx="72.8" cy="573.4" r="1.65" fill="#424242"/><circle cx="82.9" cy="573.5" r="1.65" fill="#424242"/><circle cx="92.9" cy="573.8" r="1.65" fill="#424242"/><circle cx="103.0" cy="574.2" r="1.65" fill="#424242"/><circle cx="113.1" cy="574.7" r="1.65" fill="#424242"/><circle cx="123.1" cy="575.3" r="1.65" fill="#424242"/><circle cx="133.2" cy="576.0" r="1.65" fill="#424242"/><circle cx="143.2" cy="576.8" r="1.65" fill="#424242"/><circle cx="153.3" cy="577.6" r="1.65" fill="#424242"/><circle cx="163.4" cy="578.4" r="1.65" fill="#424242"/><circle cx="173.4" cy="579.0" r="1.65" fill="#424242"/><circle cx="183.5" cy="579.2" r="1.65" fill="#424242"/><circle cx="193.6" cy="578.4" r="1.65" fill="#424242"/><circle cx="203.6" cy="575.4" r="1.65" fill="#424242"/><circle cx="213.7" cy="569.5" r="1.65" fill="#424242"/><circle cx="223.8" cy="560.5" r="1.65" fill="#424242"/><circle cx="233.8" cy="548.8" r="1.65" fill="#424242"/><circle cx="243.9" cy="534.7" r="1.65" fill="#424242"/><circle cx="254.0" cy="518.5" r="1.65" fill="#424242"/><circle cx="264.0" cy="500.9" r="1.65" fill="#424242"/><circle cx="274.1" cy="482.8" r="1.65" fill="#424242"/><circle cx="284.1" cy="464.8" r="1.65" fill="#424242"/><circle cx="294.2" cy="447.9" r="1.65" fill="#424242"/><circle cx="304.3" cy="432.1" r="1.65" fill="#424242"/><circle cx="314.3" cy="417.6" r="1.65" fill="#424242"/><circle cx="324.4" cy="404.5" r="1.65" fill="#424242"/><circle cx="334.5" cy="393.2" r="1.65" fill="#424242"/><circle cx="344.5" cy="384.5" r="1.65" fill="#424242"/><circle cx="354.6" cy="379.5" r="1.65" fill="#424242"/><path d="M412.3 513.2L413.3 511.9L414.3 510.9L415.3 509.9L416.3 509.1L417.3 508.5L418.3 507.9L419.3 507.5L420.3 507.2L421.3 507.0L422.3 506.8L423.3 506.8L424.3 506.9L425.3 507.0L426.3 507.2L427.3 507.5L428.3 507.8L429.3 508.2L430.3 508.7L431.3 509.2L432.3 509.8L433.3 510.5L434.3 511.3L435.3 512.2L436.3 513.2L437.3 514.2L438.3 515.4L439.3 516.6L440.3 518.0L441.3 519.4L442.3 521.0L443.3 522.6L444.3 524.3L445.3 526.1L446.3 527.9L447.3 529.8L448.3 531.7L449.3 533.7L450.3 535.6L451.3 537.6L452.3 539.5L453.3 541.5L454.3 543.4L455.3 545.3L456.3 547.2L457.3 549.0L458.3 550.7L459.3 552.4L460.3 554.0L461.3 555.5L462.3 556.9L463.3 558.2L464.3 559.4L465.3 560.5L466.3 561.4L467.3 562.1L468.3 562.7L469.3 563.2L470.3 563.4L471.3 563.5L472.3 563.4L473.3 563.1L474.3 562.7L475.3 562.1L476.3 561.4L477.3 560.6L478.3 559.7L479.3 558.7L480.3 557.6L481.3 556.5L482.3 555.4L483.3 554.2L484.3 553.1L485.3 552.0L486.3 550.9L487.3 549.8L488.3 548.8L489.3 547.8L490.3 546.9L491.3 546.0L492.3 545.1L493.3 544.3L494.3 543.5L495.3 542.8L496.3 542.1L497.3 541.4L498.3 540.8L499.3 540.2L500.3 539.7L501.3 539.2L502.3 538.7L503.3 538.3L504.3 537.9L505.3 537.5L506.3 537.2L507.3 536.9L508.3 536.6L509.3 536.3L510.3 536.0L511.3 535.8L512.3 535.6L513.3 535.4L514.3 535.2L515.3 535.0L516.3 534.9L517.3 534.7L518.3 534.6L519.3 534.4L520.3 534.3L521.3 534.1L522.3 534.0L523.3 533.8L524.3 533.6L525.3 533.5L526.3 533.3L527.3 533.1L528.3 532.9L529.3 532.7L530.3 532.4L531.3 532.2L532.3 531.9L533.3 531.6L534.3 531.2L535.3 530.9L536.3 530.5L537.3 530.1L538.3 529.7L539.3 529.2L540.3 528.8L541.3 528.3L542.3 527.8L543.3 527.3L544.3 526.8L545.3 526.3L546.3 525.8L547.3 525.2L548.3 524.6L549.3 524.0L550.3 523.5L551.3 522.9L552.3 522.2L553.3 521.6L554.3 521.0L555.3 520.4L556.3 519.7L557.3 519.1L558.3 518.4L559.3 517.8L560.3 517.1L561.3 516.5L562.3 515.8L563.3 515.1L564.3 514.5L565.3 513.8L566.3 513.1L567.3 512.5L568.3 511.8L569.3 511.2L570.3 510.5L571.3 509.8L572.3 509.2L573.3 508.5L574.3 507.9L575.3 507.2L576.3 506.6L577.3 505.9L578.3 505.3L579.3 504.6L580.3 504.0L581.3 503.4L582.3 502.8L583.3 502.1L584.3 501.5L585.3 500.9L586.3 500.3L587.3 499.7L588.3 499.1L589.3 498.6L590.3 498.0L591.3 497.4L592.3 496.9L593.3 496.3L594.3 495.8L595.3 495.3L596.3 494.8L597.3 494.3L598.3 493.8L599.3 493.3L600.3 492.8L601.3 492.4L602.3 491.9L603.3 491.5L604.3 491.0L605.3 490.6L606.3 490.2L607.3 489.8L608.3 489.5L609.3 489.1L610.3 488.8L611.3 488.5L612.3 488.1L613.3 487.8L614.3 487.6L615.3 487.3L616.3 487.1L617.3 486.8L618.3 486.6L619.3 486.4L620.3 486.2L621.3 486.1L622.3 485.9L623.3 485.8L624.3 485.7L625.3 485.6L626.3 485.5L627.3 485.5L628.3 485.4L629.3 485.4L630.3 485.4L631.3 485.4L632.3 485.5L633.3 485.5L634.3 485.6L635.3 485.6L636.3 485.7L637.3 485.8L638.3 485.9L639.3 486.0L640.3 486.2L641.3 486.3L642.3 486.5L643.3 486.6L644.3 486.8L645.3 487.0L646.3 487.2L647.3 487.5L648.3 487.7L649.3 487.9L650.3 488.2L651.3 488.4L652.3 488.7L653.3 489.0L654.3 489.2L655.3 489.5L656.3 489.8L657.3 490.1L658.3 490.5L659.3 490.8L660.3 491.1L661.3 491.4L662.3 491.8L663.3 492.1L664.3 492.5L665.3 492.8L666.3 493.2L667.3 493.6L668.3 493.9L669.3 494.3L670.3 494.7L671.3 495.1L672.3 495.5L673.3 495.9L674.3 496.3L675.3 496.7L676.3 497.1L677.3 497.5L678.3 497.9L679.3 498.3L680.3 498.7L681.3 499.1L682.3 499.5L683.3 499.9L684.3 500.3L685.3 500.8L686.3 501.2L687.3 501.6L688.3 502.0L689.3 502.4L690.3 502.9L691.3 503.3L692.3 503.7L693.3 504.1L694.3 504.6L695.3 505.0L696.3 505.4L697.3 505.8L698.3 506.3L699.3 506.7L700.3 507.1L701.3 507.5L702.3 507.9L703.3 508.3L704.3 508.7L705.3 509.2L706.3 509.6L707.3 510.0L708.3 510.4L709.3 510.8L710.3 511.2L711.3 511.6L712.3 511.9L713.3 512.3L714.3 512.7L715.3 513.1L716.3 513.5L717.3 513.8L718.3 514.2L719.3 514.5L720.3 514.9L721.3 515.3L722.3 515.6L723.3 515.9L724.3 516.3L725.2 516.6" fill="none" stroke="#e07c7c" stroke-width="1.15" stroke-linejoin="round"/><path d="M412.3 513.9L413.3 513.3L414.3 512.7L415.3 512.1L416.3 511.5L417.3 511.0L418.3 510.6L419.3 510.2L420.3 509.8L421.3 509.5L422.3 509.1L423.3 508.9L424.3 508.6L425.3 508.4L426.3 508.2L427.3 508.1L428.3 508.0L429.3 507.9L430.3 507.8L431.3 507.8L432.3 507.8L433.3 507.8L434.3 507.9L435.3 507.9L436.3 508.0L437.3 508.1L438.3 508.2L439.3 508.4L440.3 508.5L441.3 508.7L442.3 508.9L443.3 509.1L444.3 509.3L445.3 509.6L446.3 510.0L447.3 510.3L448.3 510.7L449.3 511.2L450.3 511.7L451.3 512.3L452.3 513.0L453.3 513.7L454.3 514.5L455.3 515.4L456.3 516.4L457.3 517.5L458.3 518.6L459.3 519.9L460.3 521.2L461.3 522.6L462.3 524.0L463.3 525.6L464.3 527.2L465.3 528.8L466.3 530.5L467.3 532.3L468.3 534.1L469.3 536.0L470.3 537.9L471.3 539.8L472.3 541.8L473.3 543.8L474.3 545.8L475.3 547.8L476.3 549.8L477.3 551.7L478.3 553.7L479.3 555.6L480.3 557.4L481.3 559.2L482.3 560.9L483.3 562.5L484.3 563.9L485.3 565.3L486.3 566.6L487.3 567.7L488.3 568.7L489.3 569.6L490.3 570.3L491.3 570.9L492.3 571.4L493.3 571.7L494.3 572.0L495.3 572.1L496.3 572.1L497.3 571.9L498.3 571.7L499.3 571.3L500.3 570.9L501.3 570.3L502.3 569.6L503.3 568.8L504.3 567.9L505.3 567.0L506.3 565.9L507.3 564.8L508.3 563.7L509.3 562.5L510.3 561.3L511.3 560.0L512.3 558.7L513.3 557.5L514.3 556.2L515.3 554.9L516.3 553.7L517.3 552.5L518.3 551.3L519.3 550.2L520.3 549.0L521.3 548.0L522.3 546.9L523.3 545.9L524.3 544.9L525.3 544.0L526.3 543.0L527.3 542.2L528.3 541.3L529.3 540.5L530.3 539.6L531.3 538.9L532.3 538.1L533.3 537.4L534.3 536.7L535.3 536.0L536.3 535.4L537.3 534.7L538.3 534.1L539.3 533.5L540.3 533.0L541.3 532.4L542.3 531.9L543.3 531.3L544.3 530.8L545.3 530.3L546.3 529.8L547.3 529.4L548.3 528.9L549.3 528.4L550.3 528.0L551.3 527.5L552.3 527.0L553.3 526.6L554.3 526.1L555.3 525.7L556.3 525.2L557.3 524.8L558.3 524.3L559.3 523.8L560.3 523.3L561.3 522.8L562.3 522.3L563.3 521.8L564.3 521.3L565.3 520.8L566.3 520.2L567.3 519.7L568.3 519.1L569.3 518.5L570.3 518.0L571.3 517.4L572.3 516.8L573.3 516.2L574.3 515.6L575.3 515.0L576.3 514.3L577.3 513.7L578.3 513.1L579.3 512.5L580.3 511.8L581.3 511.2L582.3 510.6L583.3 509.9L584.3 509.3L585.3 508.7L586.3 508.0L587.3 507.4L588.3 506.8L589.3 506.1L590.3 505.5L591.3 504.9L592.3 504.2L593.3 503.6L594.3 503.0L595.3 502.4L596.3 501.7L597.3 501.1L598.3 500.5L599.3 499.9L600.3 499.4L601.3 498.8L602.3 498.2L603.3 497.6L604.3 497.1L605.3 496.6L606.3 496.0L607.3 495.5L608.3 495.0L609.3 494.5L610.3 494.0L611.3 493.5L612.3 493.0L613.3 492.6L614.3 492.2L615.3 491.7L616.3 491.3L617.3 490.9L618.3 490.5L619.3 490.2L620.3 489.8L621.3 489.5L622.3 489.2L623.3 488.9L624.3 488.6L625.3 488.4L626.3 488.1L627.3 487.9L628.3 487.7L629.3 487.5L630.3 487.3L631.3 487.2L632.3 487.0L633.3 486.9L634.3 486.8L635.3 486.7L636.3 486.6L637.3 486.5L638.3 486.4L639.3 486.4L640.3 486.3L641.3 486.3L642.3 486.3L643.3 486.3L644.3 486.3L645.3 486.3L646.3 486.4L647.3 486.4L648.3 486.5L649.3 486.5L650.3 486.6L651.3 486.7L652.3 486.8L653.3 486.9L654.3 487.0L655.3 487.2L656.3 487.3L657.3 487.4L658.3 487.6L659.3 487.8L660.3 487.9L661.3 488.1L662.3 488.3L663.3 488.5L664.3 488.7L665.3 488.9L666.3 489.1L667.3 489.3L668.3 489.5L669.3 489.7L670.3 490.0L671.3 490.2L672.3 490.5L673.3 490.7L674.3 491.0L675.3 491.2L676.3 491.5L677.3 491.7L678.3 492.0L679.3 492.3L680.3 492.5L681.3 492.8L682.3 493.1L683.3 493.4L684.3 493.7L685.3 493.9L686.3 494.2L687.3 494.5L688.3 494.8L689.3 495.1L690.3 495.4L691.3 495.7L692.3 495.9L693.3 496.2L694.3 496.5L695.3 496.8L696.3 497.1L697.3 497.4L698.3 497.6L699.3 497.9L700.3 498.2L701.3 498.5L702.3 498.7L703.3 499.0L704.3 499.3L705.3 499.5L706.3 499.8L707.3 500.0L708.3 500.3L709.3 500.5L710.3 500.8L711.3 501.0L712.3 501.2L713.3 501.4L714.3 501.7L715.3 501.9L716.3 502.1L717.3 502.3L718.3 502.5L719.3 502.7L720.3 502.8L721.3 503.0L722.3 503.2L723.3 503.3L724.3 503.5L725.2 503.6" fill="none" stroke="#80cc80" stroke-width="1.15" stroke-linejoin="round"/><path d="M412.3 514.6L413.3 514.8L414.3 515.0L415.3 515.1L416.3 515.3L417.3 515.3L418.3 515.4L419.3 515.5L420.3 515.5L421.3 515.5L422.3 515.4L423.3 515.4L424.3 515.3L425.3 515.2L426.3 515.1L427.3 515.0L428.3 514.9L429.3 514.7L430.3 514.6L431.3 514.4L432.3 514.2L433.3 514.0L434.3 513.8L435.3 513.5L436.3 513.3L437.3 513.1L438.3 512.8L439.3 512.6L440.3 512.4L441.3 512.1L442.3 511.9L443.3 511.6L444.3 511.3L445.3 511.1L446.3 510.8L447.3 510.6L448.3 510.4L449.3 510.1L450.3 509.9L451.3 509.7L452.3 509.5L453.3 509.3L454.3 509.1L455.3 508.9L456.3 508.8L457.3 508.6L458.3 508.5L459.3 508.4L460.3 508.3L461.3 508.2L462.3 508.1L463.3 508.1L464.3 508.0L465.3 508.0L466.3 508.1L467.3 508.1L468.3 508.2L469.3 508.2L470.3 508.3L471.3 508.4L472.3 508.6L473.3 508.7L474.3 508.9L475.3 509.0L476.3 509.2L477.3 509.5L478.3 509.7L479.3 509.9L480.3 510.2L481.3 510.4L482.3 510.7L483.3 511.0L484.3 511.3L485.3 511.7L486.3 512.0L487.3 512.3L488.3 512.7L489.3 513.1L490.3 513.5L491.3 513.9L492.3 514.3L493.3 514.7L494.3 515.1L495.3 515.5L496.3 516.0L497.3 516.4L498.3 516.9L499.3 517.4L500.3 517.9L501.3 518.3L502.3 518.8L503.3 519.3L504.3 519.8L505.3 520.4L506.3 520.9L507.3 521.5L508.3 522.1L509.3 522.7L510.3 523.4L511.3 524.0L512.3 524.8L513.3 525.6L514.3 526.4L515.3 527.3L516.3 528.2L517.3 529.2L518.3 530.2L519.3 531.4L520.3 532.5L521.3 533.8L522.3 535.2L523.3 536.6L524.3 538.1L525.3 539.6L526.3 541.3L527.3 543.0L528.3 544.8L529.3 546.7L530.3 548.6L531.3 550.6L532.3 552.7L533.3 554.8L534.3 557.0L535.3 559.2L536.3 561.5L537.3 563.8L538.3 566.0L539.3 568.3L540.3 570.5L541.3 572.7L542.3 574.8L543.3 576.9L544.3 578.9L545.3 580.8L546.3 582.6L547.3 584.3L548.3 585.9L549.3 587.4L550.3 588.8L551.3 590.0L552.3 591.1L553.3 592.1L554.3 592.8L555.3 593.4L556.3 593.8L557.3 594.1L558.3 594.1L559.3 593.9L560.3 593.6L561.3 593.1L562.3 592.4L563.3 591.5L564.3 590.6L565.3 589.5L566.3 588.3L567.3 586.9L568.3 585.5L569.3 584.0L570.3 582.4L571.3 580.8L572.3 579.1L573.3 577.4L574.3 575.6L575.3 573.8L576.3 572.0L577.3 570.1L578.3 568.3L579.3 566.4L580.3 564.5L581.3 562.7L582.3 560.8L583.3 558.9L584.3 557.1L585.3 555.2L586.3 553.4L587.3 551.6L588.3 549.9L589.3 548.2L590.3 546.5L591.3 544.9L592.3 543.3L593.3 541.8L594.3 540.3L595.3 538.9L596.3 537.5L597.3 536.2L598.3 534.9L599.3 533.7L600.3 532.5L601.3 531.4L602.3 530.2L603.3 529.2L604.3 528.1L605.3 527.1L606.3 526.1L607.3 525.2L608.3 524.3L609.3 523.4L610.3 522.5L611.3 521.6L612.3 520.8L613.3 520.0L614.3 519.2L615.3 518.4L616.3 517.6L617.3 516.8L618.3 516.1L619.3 515.3L620.3 514.6L621.3 513.9L622.3 513.2L623.3 512.5L624.3 511.8L625.3 511.1L626.3 510.5L627.3 509.8L628.3 509.2L629.3 508.6L630.3 508.0L631.3 507.4L632.3 506.8L633.3 506.2L634.3 505.7L635.3 505.1L636.3 504.6L637.3 504.0L638.3 503.5L639.3 503.0L640.3 502.5L641.3 502.0L642.3 501.5L643.3 501.0L644.3 500.5L645.3 500.0L646.3 499.5L647.3 499.1L648.3 498.6L649.3 498.2L650.3 497.7L651.3 497.3L652.3 496.9L653.3 496.4L654.3 496.0L655.3 495.6L656.3 495.2L657.3 494.8L658.3 494.4L659.3 494.0L660.3 493.7L661.3 493.3L662.3 492.9L663.3 492.6L664.3 492.3L665.3 491.9L666.3 491.6L667.3 491.3L668.3 491.0L669.3 490.8L670.3 490.5L671.3 490.3L672.3 490.1L673.3 489.9L674.3 489.7L675.3 489.5L676.3 489.3L677.3 489.1L678.3 489.0L679.3 488.8L680.3 488.6L681.3 488.4L682.3 488.2L683.3 488.0L684.3 487.8L685.3 487.6L686.3 487.3L687.3 487.0L688.3 486.6L689.3 486.3L690.3 485.9L691.3 485.4L692.3 484.9L693.3 484.4L694.3 483.8L695.3 483.1L696.3 482.4L697.3 481.7L698.3 480.9L699.3 480.0L700.3 479.1L701.3 478.1L702.3 477.0L703.3 475.9L704.3 474.8L705.3 473.5L706.3 472.2L707.3 470.8L708.3 469.3L709.3 467.8L710.3 466.2L711.3 464.5L712.3 462.8L713.3 460.9L714.3 459.0L715.3 457.0L716.3 454.9L717.3 452.8L718.3 450.6L719.3 448.3L720.3 446.0L721.3 443.6L722.3 441.1L723.3 438.6L724.3 436.1L725.2 433.8" fill="none" stroke="#7676c6" stroke-width="1.15" stroke-linejoin="round"/><path d="M412.3 514.5L413.3 514.5L414.3 514.6L415.3 514.7L416.3 514.8L417.3 514.8L418.3 514.9L419.3 515.0L420.3 515.0L421.3 515.1L422.3 515.1L423.3 515.2L424.3 515.2L425.3 515.2L426.3 515.3L427.3 515.3L428.3 515.3L429.3 515.3L430.3 515.3L431.3 515.3L432.3 515.3L433.3 515.2L434.3 515.2L435.3 515.1L436.3 515.1L437.3 515.0L438.3 514.9L439.3 514.8L440.3 514.7L441.3 514.5L442.3 514.4L443.3 514.2L444.3 514.1L445.3 513.9L446.3 513.7L447.3 513.5L448.3 513.2L449.3 513.0L450.3 512.8L451.3 512.6L452.3 512.3L453.3 512.1L454.3 511.8L455.3 511.6L456.3 511.4L457.3 511.1L458.3 510.9L459.3 510.7L460.3 510.5L461.3 510.3L462.3 510.1L463.3 509.9L464.3 509.8L465.3 509.6L466.3 509.5L467.3 509.3L468.3 509.2L469.3 509.1L470.3 509.0L471.3 508.9L472.3 508.8L473.3 508.8L474.3 508.7L475.3 508.7L476.3 508.6L477.3 508.6L478.3 508.6L479.3 508.6L480.3 508.6L481.3 508.6L482.3 508.6L483.3 508.6L484.3 508.6L485.3 508.7L486.3 508.7L487.3 508.8L488.3 508.9L489.3 508.9L490.3 509.0L491.3 509.1L492.3 509.2L493.3 509.3L494.3 509.4L495.3 509.5L496.3 509.6L497.3 509.7L498.3 509.8L499.3 510.0L500.3 510.1L501.3 510.3L502.3 510.4L503.3 510.5L504.3 510.7L505.3 510.9L506.3 511.0L507.3 511.2L508.3 511.4L509.3 511.6L510.3 511.8L511.3 512.0L512.3 512.2L513.3 512.4L514.3 512.7L515.3 512.9L516.3 513.2L517.3 513.5L518.3 513.8L519.3 514.1L520.3 514.4L521.3 514.8L522.3 515.1L523.3 515.5L524.3 515.9L525.3 516.3L526.3 516.7L527.3 517.2L528.3 517.7L529.3 518.2L530.3 518.7L531.3 519.2L532.3 519.8L533.3 520.4L534.3 521.0L535.3 521.7L536.3 522.3L537.3 523.0L538.3 523.8L539.3 524.5L540.3 525.3L541.3 526.1L542.3 526.9L543.3 527.8L544.3 528.7L545.3 529.7L546.3 530.7L547.3 531.7L548.3 532.8L549.3 533.9L550.3 535.0L551.3 536.3L552.3 537.6L553.3 538.9L554.3 540.3L555.3 541.8L556.3 543.3L557.3 544.9L558.3 546.6L559.3 548.4L560.3 550.2L561.3 552.1L562.3 554.2L563.3 556.3L564.3 558.4L565.3 560.7L566.3 563.0L567.3 565.3L568.3 567.6L569.3 570.0L570.3 572.4L571.3 574.7L572.3 577.1L573.3 579.3L574.3 581.6L575.3 583.7L576.3 585.8L577.3 587.8L578.3 589.7L579.3 591.5L580.3 593.2L581.3 594.7L582.3 596.0L583.3 597.2L584.3 598.2L585.3 599.1L586.3 599.7L587.3 600.2L588.3 600.5L589.3 600.6L590.3 600.5L591.3 600.2L592.3 599.7L593.3 598.9L594.3 598.0L595.3 597.0L596.3 595.7L597.3 594.3L598.3 592.7L599.3 591.1L600.3 589.3L601.3 587.3L602.3 585.3L603.3 583.3L604.3 581.1L605.3 578.9L606.3 576.6L607.3 574.4L608.3 572.1L609.3 569.8L610.3 567.5L611.3 565.2L612.3 562.9L613.3 560.7L614.3 558.6L615.3 556.5L616.3 554.4L617.3 552.4L618.3 550.4L619.3 548.5L620.3 546.6L621.3 544.8L622.3 543.0L623.3 541.2L624.3 539.5L625.3 537.8L626.3 536.2L627.3 534.6L628.3 533.1L629.3 531.6L630.3 530.1L631.3 528.7L632.3 527.3L633.3 525.9L634.3 524.6L635.3 523.3L636.3 522.1L637.3 520.9L638.3 519.7L639.3 518.6L640.3 517.5L641.3 516.4L642.3 515.4L643.3 514.4L644.3 513.4L645.3 512.4L646.3 511.5L647.3 510.6L648.3 509.8L649.3 509.0L650.3 508.2L651.3 507.4L652.3 506.7L653.3 505.9L654.3 505.3L655.3 504.6L656.3 503.9L657.3 503.3L658.3 502.7L659.3 502.2L660.3 501.6L661.3 501.1L662.3 500.6L663.3 500.0L664.3 499.6L665.3 499.1L666.3 498.6L667.3 498.2L668.3 497.7L669.3 497.3L670.3 496.9L671.3 496.4L672.3 496.0L673.3 495.6L674.3 495.2L675.3 494.8L676.3 494.4L677.3 493.9L678.3 493.5L679.3 493.0L680.3 492.5L681.3 491.9L682.3 491.3L683.3 490.7L684.3 490.1L685.3 489.3L686.3 488.6L687.3 487.7L688.3 486.8L689.3 485.8L690.3 484.8L691.3 483.6L692.3 482.4L693.3 481.1L694.3 479.7L695.3 478.2L696.3 476.6L697.3 474.8L698.3 473.0L699.3 471.1L700.3 469.0L701.3 466.8L702.3 464.4L703.3 461.9L704.3 459.3L705.3 456.5L706.3 453.6L707.3 450.5L708.3 447.2L709.3 443.8L710.3 440.2L711.3 436.4L712.3 432.5L713.3 428.3L714.3 424.0L715.3 419.5L716.3 414.9L717.3 410.1L718.3 405.2L719.3 400.2L720.3 395.1L721.3 390.0L722.3 384.8L723.3 379.5L724.3 374.2L725.2 369.5" fill="none" stroke="#505050" stroke-width="1.15" stroke-linejoin="round"/><circle cx="412.3" cy="514.6" r="1.65" fill="#6262b4"/><circle cx="422.3" cy="515.4" r="1.65" fill="#6262b4"/><circle cx="432.3" cy="514.2" r="1.65" fill="#6262b4"/><circle cx="442.3" cy="511.8" r="1.65" fill="#6262b4"/><circle cx="452.4" cy="509.5" r="1.65" fill="#6262b4"/><circle cx="462.4" cy="508.1" r="1.65" fill="#6262b4"/><circle cx="472.4" cy="508.6" r="1.65" fill="#6262b4"/><circle cx="482.4" cy="510.8" r="1.65" fill="#6262b4"/><circle cx="492.4" cy="514.3" r="1.65" fill="#6262b4"/><circle cx="502.4" cy="518.9" r="1.65" fill="#6262b4"/><circle cx="512.5" cy="524.9" r="1.65" fill="#6262b4"/><circle cx="522.5" cy="535.4" r="1.65" fill="#6262b4"/><circle cx="532.5" cy="553.1" r="1.65" fill="#6262b4"/><circle cx="542.5" cy="575.2" r="1.65" fill="#6262b4"/><circle cx="552.5" cy="591.3" r="1.65" fill="#6262b4"/><circle cx="562.5" cy="592.2" r="1.65" fill="#6262b4"/><circle cx="572.6" cy="578.7" r="1.65" fill="#6262b4"/><circle cx="582.6" cy="560.3" r="1.65" fill="#6262b4"/><circle cx="592.6" cy="542.8" r="1.65" fill="#6262b4"/><circle cx="602.6" cy="529.9" r="1.65" fill="#6262b4"/><circle cx="612.6" cy="520.5" r="1.65" fill="#6262b4"/><circle cx="622.6" cy="512.9" r="1.65" fill="#6262b4"/><circle cx="632.7" cy="506.6" r="1.65" fill="#6262b4"/><circle cx="642.7" cy="501.3" r="1.65" fill="#6262b4"/><circle cx="652.7" cy="496.7" r="1.65" fill="#6262b4"/><circle cx="662.7" cy="492.8" r="1.65" fill="#6262b4"/><circle cx="672.7" cy="490.0" r="1.65" fill="#6262b4"/><circle cx="682.7" cy="488.2" r="1.65" fill="#6262b4"/><circle cx="692.8" cy="484.7" r="1.65" fill="#6262b4"/><circle cx="702.8" cy="476.5" r="1.65" fill="#6262b4"/><circle cx="712.8" cy="461.9" r="1.65" fill="#6262b4"/><circle cx="722.8" cy="439.9" r="1.65" fill="#6262b4"/><circle cx="412.3" cy="514.5" r="1.65" fill="#424242"/><circle cx="422.3" cy="515.1" r="1.65" fill="#424242"/><circle cx="432.3" cy="515.3" r="1.65" fill="#424242"/><circle cx="442.3" cy="514.4" r="1.65" fill="#424242"/><circle cx="452.4" cy="512.3" r="1.65" fill="#424242"/><circle cx="462.4" cy="510.1" r="1.65" fill="#424242"/><circle cx="472.4" cy="508.8" r="1.65" fill="#424242"/><circle cx="482.4" cy="508.6" r="1.65" fill="#424242"/><circle cx="492.4" cy="509.2" r="1.65" fill="#424242"/><circle cx="502.4" cy="510.4" r="1.65" fill="#424242"/><circle cx="512.5" cy="512.2" r="1.65" fill="#424242"/><circle cx="522.5" cy="515.2" r="1.65" fill="#424242"/><circle cx="532.5" cy="519.9" r="1.65" fill="#424242"/><circle cx="542.5" cy="527.1" r="1.65" fill="#424242"/><circle cx="552.5" cy="537.9" r="1.65" fill="#424242"/><circle cx="562.5" cy="554.7" r="1.65" fill="#424242"/><circle cx="572.6" cy="577.6" r="1.65" fill="#424242"/><circle cx="582.6" cy="596.3" r="1.65" fill="#424242"/><circle cx="592.6" cy="599.4" r="1.65" fill="#424242"/><circle cx="602.6" cy="584.7" r="1.65" fill="#424242"/><circle cx="612.6" cy="562.2" r="1.65" fill="#424242"/><circle cx="622.6" cy="542.4" r="1.65" fill="#424242"/><circle cx="632.7" cy="526.8" r="1.65" fill="#424242"/><circle cx="642.7" cy="515.0" r="1.65" fill="#424242"/><circle cx="652.7" cy="506.4" r="1.65" fill="#424242"/><circle cx="662.7" cy="500.3" r="1.65" fill="#424242"/><circle cx="672.7" cy="495.8" r="1.65" fill="#424242"/><circle cx="682.7" cy="491.1" r="1.65" fill="#424242"/><circle cx="692.8" cy="481.8" r="1.65" fill="#424242"/><circle cx="702.8" cy="463.2" r="1.65" fill="#424242"/><circle cx="712.8" cy="430.5" r="1.65" fill="#424242"/><circle cx="722.8" cy="382.1" r="1.65" fill="#424242"/><path d="M785.9 601.6L786.9 601.0L787.9 600.4L788.9 599.8L789.9 599.2L790.9 598.6L791.9 598.1L792.9 597.5L793.9 597.0L794.9 596.4L795.9 595.9L796.9 595.4L797.9 594.9L798.9 594.4L799.9 593.9L800.9 593.4L801.9 593.0L802.9 592.5L803.9 592.1L804.9 591.7L805.9 591.3L806.9 590.9L807.9 590.6L808.9 590.2L809.9 589.9L810.9 589.6L811.9 589.4L812.9 589.1L813.9 588.9L814.9 588.7L815.9 588.5L816.9 588.3L817.9 588.2L818.9 588.0L819.9 587.9L820.9 587.7L821.9 587.6L822.9 587.4L823.9 587.2L824.9 587.0L825.9 586.8L826.9 586.6L827.9 586.3L828.9 585.9L829.9 585.4L830.9 584.8L831.9 584.1L832.9 583.1L833.9 581.8L834.9 580.3L835.9 578.5L836.9 576.5L837.9 574.2L838.9 571.7L839.9 569.1L840.9 566.2L841.9 563.2L842.9 560.1L843.9 556.8L844.9 553.5L845.9 550.1L846.9 546.7L847.9 543.2L848.9 539.8L849.9 536.3L850.9 532.9L851.9 529.6L852.9 526.3L853.9 523.1L854.9 519.9L855.9 516.7L856.9 513.6L857.9 510.6L858.9 507.6L859.9 504.6L860.9 501.7L861.9 498.8L862.9 496.0L863.9 493.2L864.9 490.4L865.9 487.7L866.9 485.0L867.9 482.4L868.9 479.8L869.9 477.2L870.9 474.6L871.9 472.1L872.9 469.6L873.9 467.2L874.9 464.8L875.9 462.4L876.9 460.0L877.9 457.6L878.9 455.3L879.9 453.0L880.9 450.8L881.9 448.5L882.9 446.3L883.9 444.1L884.9 442.0L885.9 439.9L886.9 437.8L887.9 435.7L888.9 433.7L889.9 431.7L890.9 429.7L891.9 427.7L892.9 425.8L893.9 423.9L894.9 422.0L895.9 420.2L896.9 418.4L897.9 416.6L898.9 414.9L899.9 413.2L900.9 411.5L901.9 409.8L902.9 408.2L903.9 406.6L904.9 405.0L905.9 403.5L906.9 402.0L907.9 400.5L908.9 399.0L909.9 397.6L910.9 396.2L911.9 394.9L912.9 393.6L913.9 392.3L914.9 391.0L915.9 389.8L916.9 388.6L917.9 387.4L918.9 386.3L919.9 385.2L920.9 384.1L921.9 383.1L922.9 382.1L923.9 381.1L924.9 380.2L925.9 379.4L926.9 378.6L927.9 377.9L928.9 377.3L929.9 376.8L930.9 376.4L931.9 376.1L932.9 375.8L933.9 375.7L934.9 375.6L935.9 375.6L936.9 375.6L937.9 375.6L938.9 375.7L939.9 375.9L940.9 376.0L941.9 376.2L942.9 376.4L943.9 376.6L944.9 376.8L945.9 377.1L946.9 377.4L947.9 377.8L948.9 378.1L949.9 378.5L950.9 378.9L951.9 379.4L952.9 379.9L953.9 380.4L954.9 381.0L955.9 381.6L956.9 382.3L957.9 383.0L958.9 383.7L959.9 384.5L960.9 385.4L961.9 386.2L962.9 387.1L963.9 388.1L964.9 389.1L965.9 390.1L966.9 391.2L967.9 392.3L968.9 393.4L969.9 394.6L970.9 395.8L971.9 397.1L972.9 398.4L973.9 399.7L974.9 401.0L975.9 402.4L976.9 403.8L977.9 405.2L978.9 406.7L979.9 408.2L980.9 409.7L981.9 411.3L982.9 412.8L983.9 414.4L984.9 416.1L985.9 417.7L986.9 419.4L987.9 421.1L988.9 422.8L989.9 424.5L990.9 426.2L991.9 428.0L992.9 429.8L993.9 431.6L994.9 433.4L995.9 435.2L996.9 437.1L997.9 438.9L998.9 440.8L999.9 442.7L1000.9 444.6L1001.9 446.5L1002.9 448.4L1003.9 450.4L1004.9 452.3L1005.9 454.3L1006.9 456.2L1007.9 458.2L1008.9 460.2L1009.9 462.2L1010.9 464.2L1011.9 466.2L1012.9 468.2L1013.9 470.3L1014.9 472.3L1015.9 474.4L1016.9 476.4L1017.9 478.5L1018.9 480.5L1019.9 482.6L1020.9 484.7L1021.9 486.8L1022.9 488.9L1023.9 490.9L1024.9 493.0L1025.9 495.1L1026.9 497.2L1027.9 499.4L1028.9 501.5L1029.9 503.6L1030.9 505.7L1031.9 507.8L1032.9 509.9L1033.9 512.0L1034.9 514.1L1035.9 516.2L1036.9 518.3L1037.9 520.4L1038.9 522.5L1039.9 524.5L1040.9 526.5L1041.9 528.4L1042.9 530.3L1043.9 532.1L1044.9 533.9L1045.9 535.6L1046.9 537.3L1047.9 538.8L1048.9 540.3L1049.9 541.7L1050.9 543.0L1051.9 544.2L1052.9 545.3L1053.9 546.3L1054.9 547.1L1055.9 548.0L1056.9 548.7L1057.9 549.4L1058.9 550.0L1059.9 550.6L1060.9 551.1L1061.9 551.6L1062.9 552.1L1063.9 552.6L1064.9 553.1L1065.9 553.7L1066.9 554.2L1067.9 554.8L1068.9 555.5L1069.9 556.2L1070.9 557.0L1071.9 557.8L1072.9 558.8L1073.9 559.8L1074.9 560.9L1075.9 562.1L1076.9 563.4L1077.9 564.8L1078.9 566.4L1079.9 568.0L1080.9 569.7L1081.9 571.5L1082.9 573.5L1083.9 575.6L1084.9 577.8L1085.9 580.1L1086.9 582.5L1087.9 585.0L1088.9 587.5L1089.9 590.0L1090.9 592.4L1091.9 594.8L1092.9 597.0L1093.9 599.1L1094.9 601.0L1095.4 601.8" fill="none" stroke="#e07c7c" stroke-width="1.15" stroke-linejoin="round"/><path d="M785.9 601.7L786.9 601.2L787.9 600.7L788.9 600.2L789.9 599.8L790.9 599.3L791.9 598.8L792.9 598.3L793.9 597.8L794.9 597.3L795.9 596.9L796.9 596.4L797.9 595.9L798.9 595.4L799.9 595.0L800.9 594.5L801.9 594.1L802.9 593.6L803.9 593.2L804.9 592.7L805.9 592.3L806.9 591.9L807.9 591.4L808.9 591.0L809.9 590.6L810.9 590.2L811.9 589.8L812.9 589.4L813.9 589.1L814.9 588.7L815.9 588.3L816.9 588.0L817.9 587.6L818.9 587.3L819.9 587.0L820.9 586.7L821.9 586.4L822.9 586.1L823.9 585.8L824.9 585.5L825.9 585.3L826.9 585.0L827.9 584.8L828.9 584.6L829.9 584.4L830.9 584.2L831.9 584.0L832.9 583.9L833.9 583.7L834.9 583.6L835.9 583.5L836.9 583.4L837.9 583.3L838.9 583.2L839.9 583.2L840.9 583.1L841.9 583.0L842.9 583.0L843.9 582.9L844.9 582.9L845.9 582.8L846.9 582.8L847.9 582.7L848.9 582.5L849.9 582.2L850.9 581.8L851.9 581.2L852.9 580.3L853.9 579.2L854.9 577.7L855.9 576.0L856.9 573.8L857.9 571.4L858.9 568.7L859.9 565.7L860.9 562.6L861.9 559.2L862.9 555.7L863.9 552.0L864.9 548.2L865.9 544.4L866.9 540.5L867.9 536.6L868.9 532.8L869.9 528.9L870.9 525.2L871.9 521.5L872.9 517.8L873.9 514.2L874.9 510.7L875.9 507.1L876.9 503.7L877.9 500.2L878.9 496.7L879.9 493.3L880.9 489.9L881.9 486.5L882.9 483.2L883.9 479.9L884.9 476.6L885.9 473.4L886.9 470.2L887.9 467.1L888.9 464.1L889.9 461.2L890.9 458.3L891.9 455.5L892.9 452.7L893.9 450.1L894.9 447.5L895.9 444.9L896.9 442.4L897.9 440.0L898.9 437.7L899.9 435.4L900.9 433.1L901.9 430.9L902.9 428.8L903.9 426.7L904.9 424.7L905.9 422.7L906.9 420.8L907.9 418.9L908.9 417.0L909.9 415.2L910.9 413.5L911.9 411.7L912.9 410.1L913.9 408.4L914.9 406.8L915.9 405.3L916.9 403.8L917.9 402.3L918.9 400.9L919.9 399.5L920.9 398.1L921.9 396.8L922.9 395.5L923.9 394.3L924.9 393.1L925.9 392.0L926.9 390.9L927.9 389.8L928.9 388.8L929.9 387.8L930.9 386.8L931.9 385.9L932.9 385.1L933.9 384.2L934.9 383.4L935.9 382.7L936.9 382.0L937.9 381.3L938.9 380.6L939.9 380.0L940.9 379.5L941.9 379.0L942.9 378.5L943.9 378.0L944.9 377.6L945.9 377.2L946.9 376.9L947.9 376.6L948.9 376.3L949.9 376.1L950.9 375.9L951.9 375.8L952.9 375.7L953.9 375.6L954.9 375.6L955.9 375.6L956.9 375.6L957.9 375.7L958.9 375.9L959.9 376.0L960.9 376.2L961.9 376.5L962.9 376.8L963.9 377.2L964.9 377.6L965.9 378.0L966.9 378.5L967.9 379.0L968.9 379.6L969.9 380.2L970.9 380.9L971.9 381.7L972.9 382.4L973.9 383.3L974.9 384.1L975.9 385.1L976.9 386.1L977.9 387.1L978.9 388.2L979.9 389.3L980.9 390.5L981.9 391.7L982.9 393.0L983.9 394.3L984.9 395.6L985.9 397.0L986.9 398.4L987.9 399.9L988.9 401.4L989.9 402.9L990.9 404.4L991.9 406.0L992.9 407.5L993.9 409.1L994.9 410.7L995.9 412.4L996.9 414.0L997.9 415.7L998.9 417.3L999.9 419.0L1000.9 420.7L1001.9 422.4L1002.9 424.1L1003.9 425.9L1004.9 427.6L1005.9 429.3L1006.9 431.1L1007.9 432.9L1008.9 434.7L1009.9 436.5L1010.9 438.3L1011.9 440.1L1012.9 442.0L1013.9 443.8L1014.9 445.7L1015.9 447.5L1016.9 449.4L1017.9 451.3L1018.9 453.2L1019.9 455.1L1020.9 457.1L1021.9 459.0L1022.9 461.0L1023.9 462.9L1024.9 464.9L1025.9 466.9L1026.9 468.9L1027.9 470.9L1028.9 472.9L1029.9 474.9L1030.9 477.0L1031.9 479.0L1032.9 481.1L1033.9 483.2L1034.9 485.3L1035.9 487.3L1036.9 489.4L1037.9 491.5L1038.9 493.6L1039.9 495.7L1040.9 497.8L1041.9 499.9L1042.9 501.9L1043.9 504.0L1044.9 506.0L1045.9 508.0L1046.9 510.0L1047.9 512.0L1048.9 513.9L1049.9 515.8L1050.9 517.7L1051.9 519.6L1052.9 521.4L1053.9 523.1L1054.9 524.8L1055.9 526.5L1056.9 528.2L1057.9 529.8L1058.9 531.4L1059.9 533.0L1060.9 534.5L1061.9 536.1L1062.9 537.6L1063.9 539.0L1064.9 540.5L1065.9 541.9L1066.9 543.4L1067.9 544.8L1068.9 546.2L1069.9 547.6L1070.9 549.0L1071.9 550.4L1072.9 551.8L1073.9 553.2L1074.9 554.7L1075.9 556.1L1076.9 557.7L1077.9 559.3L1078.9 561.1L1079.9 562.9L1080.9 564.8L1081.9 566.8L1082.9 569.0L1083.9 571.2L1084.9 573.5L1085.9 575.9L1086.9 578.4L1087.9 580.9L1088.9 583.6L1089.9 586.3L1090.9 589.1L1091.9 591.9L1092.9 594.8L1093.9 597.7L1094.9 600.6L1095.4 602.1" fill="none" stroke="#80cc80" stroke-width="1.15" stroke-linejoin="round"/><path d="M785.9 601.6L786.9 601.6L787.9 601.6L788.9 601.5L789.9 601.5L790.9 601.4L791.9 601.4L792.9 601.3L793.9 601.3L794.9 601.2L795.9 601.2L796.9 601.1L797.9 601.0L798.9 600.9L799.9 600.8L800.9 600.7L801.9 600.6L802.9 600.5L803.9 600.3L804.9 600.2L805.9 600.1L806.9 599.9L807.9 599.7L808.9 599.6L809.9 599.4L810.9 599.2L811.9 599.0L812.9 598.8L813.9 598.5L814.9 598.3L815.9 598.0L816.9 597.8L817.9 597.5L818.9 597.2L819.9 596.9L820.9 596.5L821.9 596.2L822.9 595.8L823.9 595.5L824.9 595.1L825.9 594.7L826.9 594.3L827.9 593.8L828.9 593.4L829.9 592.9L830.9 592.5L831.9 592.0L832.9 591.5L833.9 591.0L834.9 590.4L835.9 589.9L836.9 589.4L837.9 588.8L838.9 588.3L839.9 587.7L840.9 587.1L841.9 586.6L842.9 586.0L843.9 585.4L844.9 584.8L845.9 584.2L846.9 583.6L847.9 583.0L848.9 582.4L849.9 581.8L850.9 581.2L851.9 580.6L852.9 580.0L853.9 579.4L854.9 578.9L855.9 578.3L856.9 577.7L857.9 577.1L858.9 576.5L859.9 576.0L860.9 575.4L861.9 574.9L862.9 574.3L863.9 573.8L864.9 573.3L865.9 572.8L866.9 572.3L867.9 571.8L868.9 571.3L869.9 570.9L870.9 570.4L871.9 570.0L872.9 569.6L873.9 569.2L874.9 568.8L875.9 568.5L876.9 568.1L877.9 567.8L878.9 567.5L879.9 567.3L880.9 567.0L881.9 566.8L882.9 566.6L883.9 566.4L884.9 566.3L885.9 566.2L886.9 566.1L887.9 566.1L888.9 566.1L889.9 566.1L890.9 566.1L891.9 566.2L892.9 566.3L893.9 566.5L894.9 566.7L895.9 566.9L896.9 567.2L897.9 567.5L898.9 567.9L899.9 568.3L900.9 568.7L901.9 569.2L902.9 569.7L903.9 570.3L904.9 570.9L905.9 571.6L906.9 572.2L907.9 572.9L908.9 573.4L909.9 573.9L910.9 574.1L911.9 574.2L912.9 574.1L913.9 573.6L914.9 572.9L915.9 571.8L916.9 570.4L917.9 568.6L918.9 566.6L919.9 564.2L920.9 561.5L921.9 558.6L922.9 555.4L923.9 552.0L924.9 548.3L925.9 544.4L926.9 540.3L927.9 536.0L928.9 531.6L929.9 527.1L930.9 522.5L931.9 517.9L932.9 513.3L933.9 508.7L934.9 504.2L935.9 499.8L936.9 495.4L937.9 491.2L938.9 487.0L939.9 482.9L940.9 478.9L941.9 474.9L942.9 471.1L943.9 467.3L944.9 463.6L945.9 460.0L946.9 456.5L947.9 453.1L948.9 449.7L949.9 446.4L950.9 443.2L951.9 440.1L952.9 437.1L953.9 434.2L954.9 431.3L955.9 428.5L956.9 425.8L957.9 423.2L958.9 420.6L959.9 418.1L960.9 415.7L961.9 413.4L962.9 411.1L963.9 409.0L964.9 406.9L965.9 404.8L966.9 402.9L967.9 401.0L968.9 399.2L969.9 397.4L970.9 395.8L971.9 394.1L972.9 392.6L973.9 391.2L974.9 389.8L975.9 388.4L976.9 387.2L977.9 386.0L978.9 384.8L979.9 383.8L980.9 382.8L981.9 381.9L982.9 381.0L983.9 380.2L984.9 379.4L985.9 378.8L986.9 378.1L987.9 377.6L988.9 377.1L989.9 376.7L990.9 376.3L991.9 376.0L992.9 375.7L993.9 375.5L994.9 375.4L995.9 375.3L996.9 375.3L997.9 375.3L998.9 375.4L999.9 375.5L1000.9 375.7L1001.9 376.0L1002.9 376.3L1003.9 376.6L1004.9 377.0L1005.9 377.5L1006.9 378.0L1007.9 378.5L1008.9 379.1L1009.9 379.8L1010.9 380.5L1011.9 381.3L1012.9 382.1L1013.9 382.9L1014.9 383.8L1015.9 384.8L1016.9 385.7L1017.9 386.8L1018.9 387.9L1019.9 389.0L1020.9 390.1L1021.9 391.4L1022.9 392.6L1023.9 393.9L1024.9 395.2L1025.9 396.6L1026.9 398.0L1027.9 399.5L1028.9 401.0L1029.9 402.5L1030.9 404.1L1031.9 405.8L1032.9 407.4L1033.9 409.1L1034.9 410.9L1035.9 412.7L1036.9 414.5L1037.9 416.4L1038.9 418.3L1039.9 420.3L1040.9 422.3L1041.9 424.4L1042.9 426.5L1043.9 428.6L1044.9 430.8L1045.9 433.0L1046.9 435.3L1047.9 437.6L1048.9 440.0L1049.9 442.4L1050.9 444.8L1051.9 447.3L1052.9 449.9L1053.9 452.4L1054.9 455.1L1055.9 457.7L1056.9 460.5L1057.9 463.2L1058.9 466.0L1059.9 468.9L1060.9 471.8L1061.9 474.7L1062.9 477.7L1063.9 480.7L1064.9 483.8L1065.9 486.9L1066.9 490.0L1067.9 493.3L1068.9 496.5L1069.9 499.8L1070.9 503.1L1071.9 506.5L1072.9 509.9L1073.9 513.3L1074.9 516.8L1075.9 520.3L1076.9 523.9L1077.9 527.4L1078.9 531.1L1079.9 534.7L1080.9 538.4L1081.9 542.1L1082.9 545.8L1083.9 549.6L1084.9 553.4L1085.9 557.4L1086.9 561.4L1087.9 565.6L1088.9 570.0L1089.9 574.6L1090.9 579.6L1091.9 584.9L1092.9 590.5L1093.9 596.3L1094.9 600.9L1095.4 602.3" fill="none" stroke="#7676c6" stroke-width="1.15" stroke-linejoin="round"/><path d="M785.9 601.4L786.9 601.5L787.9 601.5L788.9 601.6L789.9 601.6L790.9 601.7L791.9 601.7L792.9 601.7L793.9 601.7L794.9 601.8L795.9 601.8L796.9 601.7L797.9 601.7L798.9 601.7L799.9 601.7L800.9 601.7L801.9 601.6L802.9 601.6L803.9 601.5L804.9 601.4L805.9 601.4L806.9 601.3L807.9 601.2L808.9 601.1L809.9 601.0L810.9 600.9L811.9 600.8L812.9 600.6L813.9 600.5L814.9 600.4L815.9 600.2L816.9 600.1L817.9 599.9L818.9 599.7L819.9 599.5L820.9 599.3L821.9 599.1L822.9 598.9L823.9 598.7L824.9 598.5L825.9 598.3L826.9 598.0L827.9 597.8L828.9 597.5L829.9 597.3L830.9 597.0L831.9 596.7L832.9 596.4L833.9 596.1L834.9 595.8L835.9 595.5L836.9 595.2L837.9 594.9L838.9 594.5L839.9 594.2L840.9 593.8L841.9 593.5L842.9 593.1L843.9 592.7L844.9 592.3L845.9 591.9L846.9 591.5L847.9 591.1L848.9 590.7L849.9 590.2L850.9 589.8L851.9 589.3L852.9 588.9L853.9 588.4L854.9 587.9L855.9 587.5L856.9 587.0L857.9 586.5L858.9 586.0L859.9 585.4L860.9 584.9L861.9 584.4L862.9 583.8L863.9 583.3L864.9 582.7L865.9 582.1L866.9 581.5L867.9 581.0L868.9 580.4L869.9 579.8L870.9 579.1L871.9 578.5L872.9 577.9L873.9 577.3L874.9 576.7L875.9 576.0L876.9 575.4L877.9 574.8L878.9 574.2L879.9 573.6L880.9 572.9L881.9 572.3L882.9 571.7L883.9 571.1L884.9 570.5L885.9 569.9L886.9 569.4L887.9 568.8L888.9 568.2L889.9 567.7L890.9 567.1L891.9 566.6L892.9 566.1L893.9 565.6L894.9 565.1L895.9 564.7L896.9 564.2L897.9 563.8L898.9 563.4L899.9 563.0L900.9 562.6L901.9 562.3L902.9 562.0L903.9 561.7L904.9 561.4L905.9 561.1L906.9 560.9L907.9 560.7L908.9 560.5L909.9 560.4L910.9 560.3L911.9 560.2L912.9 560.1L913.9 560.1L914.9 560.1L915.9 560.1L916.9 560.2L917.9 560.2L918.9 560.4L919.9 560.5L920.9 560.7L921.9 560.9L922.9 561.1L923.9 561.4L924.9 561.7L925.9 562.1L926.9 562.4L927.9 562.8L928.9 563.3L929.9 563.8L930.9 564.3L931.9 564.9L932.9 565.5L933.9 566.2L934.9 566.9L935.9 567.6L936.9 568.3L937.9 568.9L938.9 569.5L939.9 569.8L940.9 570.0L941.9 570.0L942.9 569.6L943.9 568.9L944.9 567.9L945.9 566.4L946.9 564.6L947.9 562.5L948.9 560.0L949.9 557.3L950.9 554.2L951.9 550.8L952.9 547.2L953.9 543.4L954.9 539.4L955.9 535.1L956.9 530.7L957.9 526.2L958.9 521.5L959.9 516.8L960.9 512.0L961.9 507.2L962.9 502.5L963.9 497.7L964.9 493.1L965.9 488.5L966.9 484.0L967.9 479.6L968.9 475.3L969.9 471.0L970.9 466.9L971.9 462.8L972.9 458.8L973.9 454.9L974.9 451.1L975.9 447.4L976.9 443.7L977.9 440.2L978.9 436.7L979.9 433.4L980.9 430.2L981.9 427.0L982.9 424.0L983.9 421.0L984.9 418.2L985.9 415.4L986.9 412.8L987.9 410.2L988.9 407.8L989.9 405.5L990.9 403.2L991.9 401.1L992.9 399.0L993.9 397.0L994.9 395.2L995.9 393.4L996.9 391.7L997.9 390.1L998.9 388.6L999.9 387.2L1000.9 385.9L1001.9 384.6L1002.9 383.5L1003.9 382.4L1004.9 381.4L1005.9 380.5L1006.9 379.7L1007.9 379.0L1008.9 378.3L1009.9 377.7L1010.9 377.2L1011.9 376.8L1012.9 376.4L1013.9 376.2L1014.9 376.0L1015.9 375.8L1016.9 375.8L1017.9 375.8L1018.9 375.9L1019.9 376.0L1020.9 376.2L1021.9 376.5L1022.9 376.9L1023.9 377.3L1024.9 377.8L1025.9 378.4L1026.9 379.0L1027.9 379.7L1028.9 380.4L1029.9 381.2L1030.9 382.1L1031.9 383.1L1032.9 384.1L1033.9 385.2L1034.9 386.4L1035.9 387.6L1036.9 388.9L1037.9 390.3L1038.9 391.7L1039.9 393.2L1040.9 394.8L1041.9 396.4L1042.9 398.2L1043.9 400.0L1044.9 401.8L1045.9 403.8L1046.9 405.8L1047.9 407.9L1048.9 410.0L1049.9 412.3L1050.9 414.6L1051.9 417.0L1052.9 419.4L1053.9 422.0L1054.9 424.6L1055.9 427.3L1056.9 430.1L1057.9 432.9L1058.9 435.8L1059.9 438.8L1060.9 441.9L1061.9 445.1L1062.9 448.3L1063.9 451.6L1064.9 455.0L1065.9 458.5L1066.9 462.1L1067.9 465.7L1068.9 469.5L1069.9 473.3L1070.9 477.3L1071.9 481.3L1072.9 485.4L1073.9 489.6L1074.9 493.9L1075.9 498.3L1076.9 502.9L1077.9 507.5L1078.9 512.2L1079.9 517.1L1080.9 522.0L1081.9 527.1L1082.9 532.3L1083.9 537.6L1084.9 543.0L1085.9 548.5L1086.9 554.1L1087.9 559.9L1088.9 565.8L1089.9 571.7L1090.9 577.8L1091.9 584.0L1092.9 590.3L1093.9 596.4L1094.9 601.1L1095.4 602.4" fill="none" stroke="#505050" stroke-width="1.15" stroke-linejoin="round"/><circle cx="785.9" cy="601.6" r="1.65" fill="#6262b4"/><circle cx="795.8" cy="601.2" r="1.65" fill="#6262b4"/><circle cx="805.7" cy="600.1" r="1.65" fill="#6262b4"/><circle cx="815.6" cy="598.1" r="1.65" fill="#6262b4"/><circle cx="825.5" cy="594.8" r="1.65" fill="#6262b4"/><circle cx="835.4" cy="590.2" r="1.65" fill="#6262b4"/><circle cx="845.3" cy="584.6" r="1.65" fill="#6262b4"/><circle cx="855.2" cy="578.7" r="1.65" fill="#6262b4"/><circle cx="865.1" cy="573.2" r="1.65" fill="#6262b4"/><circle cx="875.0" cy="568.8" r="1.65" fill="#6262b4"/><circle cx="884.9" cy="566.3" r="1.65" fill="#6262b4"/><circle cx="894.8" cy="566.7" r="1.65" fill="#6262b4"/><circle cx="904.7" cy="570.8" r="1.65" fill="#6262b4"/><circle cx="914.6" cy="573.1" r="1.65" fill="#6262b4"/><circle cx="924.5" cy="549.6" r="1.65" fill="#6262b4"/><circle cx="934.4" cy="506.3" r="1.65" fill="#6262b4"/><circle cx="944.4" cy="465.6" r="1.65" fill="#6262b4"/><circle cx="954.3" cy="433.1" r="1.65" fill="#6262b4"/><circle cx="964.2" cy="408.4" r="1.65" fill="#6262b4"/><circle cx="974.1" cy="390.9" r="1.65" fill="#6262b4"/><circle cx="984.0" cy="380.1" r="1.65" fill="#6262b4"/><circle cx="993.9" cy="375.5" r="1.65" fill="#6262b4"/><circle cx="1003.8" cy="376.6" r="1.65" fill="#6262b4"/><circle cx="1013.7" cy="382.7" r="1.65" fill="#6262b4"/><circle cx="1023.6" cy="393.5" r="1.65" fill="#6262b4"/><circle cx="1033.5" cy="408.4" r="1.65" fill="#6262b4"/><circle cx="1043.4" cy="427.5" r="1.65" fill="#6262b4"/><circle cx="1053.3" cy="450.9" r="1.65" fill="#6262b4"/><circle cx="1063.2" cy="478.6" r="1.65" fill="#6262b4"/><circle cx="1073.1" cy="510.5" r="1.65" fill="#6262b4"/><circle cx="1083.0" cy="546.2" r="1.65" fill="#6262b4"/><circle cx="1092.9" cy="590.5" r="1.65" fill="#6262b4"/><circle cx="785.9" cy="601.4" r="1.65" fill="#424242"/><circle cx="795.8" cy="601.8" r="1.65" fill="#424242"/><circle cx="805.7" cy="601.4" r="1.65" fill="#424242"/><circle cx="815.6" cy="600.3" r="1.65" fill="#424242"/><circle cx="825.5" cy="598.4" r="1.65" fill="#424242"/><circle cx="835.4" cy="595.7" r="1.65" fill="#424242"/><circle cx="845.3" cy="592.1" r="1.65" fill="#424242"/><circle cx="855.2" cy="587.8" r="1.65" fill="#424242"/><circle cx="865.1" cy="582.6" r="1.65" fill="#424242"/><circle cx="875.0" cy="576.6" r="1.65" fill="#424242"/><circle cx="884.9" cy="570.5" r="1.65" fill="#424242"/><circle cx="894.8" cy="565.2" r="1.65" fill="#424242"/><circle cx="904.7" cy="561.4" r="1.65" fill="#424242"/><circle cx="914.6" cy="560.1" r="1.65" fill="#424242"/><circle cx="924.5" cy="561.6" r="1.65" fill="#424242"/><circle cx="934.4" cy="566.5" r="1.65" fill="#424242"/><circle cx="944.4" cy="568.5" r="1.65" fill="#424242"/><circle cx="954.3" cy="542.0" r="1.65" fill="#424242"/><circle cx="964.2" cy="496.5" r="1.65" fill="#424242"/><circle cx="974.1" cy="454.3" r="1.65" fill="#424242"/><circle cx="984.0" cy="420.8" r="1.65" fill="#424242"/><circle cx="993.9" cy="397.1" r="1.65" fill="#424242"/><circle cx="1003.8" cy="382.5" r="1.65" fill="#424242"/><circle cx="1013.7" cy="376.2" r="1.65" fill="#424242"/><circle cx="1023.6" cy="377.2" r="1.65" fill="#424242"/><circle cx="1033.5" cy="384.7" r="1.65" fill="#424242"/><circle cx="1043.4" cy="399.0" r="1.65" fill="#424242"/><circle cx="1053.3" cy="420.4" r="1.65" fill="#424242"/><circle cx="1063.2" cy="449.3" r="1.65" fill="#424242"/><circle cx="1073.1" cy="486.2" r="1.65" fill="#424242"/><circle cx="1083.0" cy="532.8" r="1.65" fill="#424242"/><circle cx="1092.9" cy="590.3" r="1.65" fill="#424242"/><path d="M55.7 943.8L56.7 943.8L57.7 943.8L58.7 943.7L59.7 943.6L60.7 943.5L61.7 943.4L62.7 943.3L63.7 943.1L64.7 942.9L65.7 942.7L66.7 942.5L67.7 942.3L68.7 942.1L69.7 941.8L70.7 941.5L71.7 941.2L72.7 940.9L73.7 940.6L74.7 940.2L75.7 939.9L76.7 939.5L77.7 939.1L78.7 938.7L79.7 938.3L80.7 937.9L81.7 937.4L82.7 936.9L83.7 936.5L84.7 936.0L85.7 935.5L86.7 934.9L87.7 934.4L88.7 933.8L89.7 933.3L90.7 932.7L91.7 932.1L92.7 931.5L93.7 930.9L94.7 930.3L95.7 929.6L96.7 929.0L97.7 928.3L98.7 927.6L99.7 926.9L100.7 926.2L101.7 925.5L102.7 924.8L103.7 924.1L104.7 923.3L105.7 922.6L106.7 921.8L107.7 921.0L108.7 920.2L109.7 919.5L110.7 918.6L111.7 917.8L112.7 917.0L113.7 916.2L114.7 915.3L115.7 914.5L116.7 913.6L117.7 912.7L118.7 911.9L119.7 911.0L120.7 910.1L121.7 909.2L122.7 908.3L123.7 907.4L124.7 906.4L125.7 905.5L126.7 904.6L127.7 903.6L128.7 902.7L129.7 901.7L130.7 900.7L131.7 899.8L132.7 898.8L133.7 897.8L134.7 896.8L135.7 895.8L136.7 894.8L137.7 893.8L138.7 892.8L139.7 891.8L140.7 890.8L141.7 889.7L142.7 888.7L143.7 887.7L144.7 886.6L145.7 885.6L146.7 884.5L147.7 883.5L148.7 882.4L149.7 881.3L150.7 880.3L151.7 879.2L152.7 878.1L153.7 877.0L154.7 875.9L155.7 874.8L156.7 873.7L157.7 872.6L158.7 871.5L159.7 870.4L160.7 869.3L161.7 868.2L162.7 867.0L163.7 865.9L164.7 864.8L165.7 863.6L166.7 862.5L167.7 861.4L168.7 860.2L169.7 859.1L170.7 857.9L171.7 856.8L172.7 855.6L173.7 854.4L174.7 853.3L175.7 852.1L176.7 850.9L177.7 849.7L178.7 848.6L179.7 847.4L180.7 846.2L181.7 845.0L182.7 843.8L183.7 842.6L184.7 841.4L185.7 840.2L186.7 839.1L187.7 837.9L188.7 836.6L189.7 835.4L190.7 834.2L191.7 833.0L192.7 831.8L193.7 830.6L194.7 829.4L195.7 828.2L196.7 827.0L197.7 825.8L198.7 824.5L199.7 823.3L200.7 822.1L201.7 820.9L202.7 819.7L203.7 818.5L204.7 817.3L205.7 816.0L206.7 814.8L207.7 813.6L208.7 812.4L209.7 811.2L210.7 810.0L211.7 808.8L212.7 807.6L213.7 806.5L214.7 805.3L215.7 804.1L216.7 802.9L217.7 801.8L218.7 800.6L219.7 799.4L220.7 798.3L221.7 797.1L222.7 796.0L223.7 794.9L224.7 793.8L225.7 792.6L226.7 791.5L227.7 790.4L228.7 789.3L229.7 788.3L230.7 787.2L231.7 786.1L232.7 785.1L233.7 784.0L234.7 783.0L235.7 781.9L236.7 780.9L237.7 779.9L238.7 778.9L239.7 777.9L240.7 776.9L241.7 775.9L242.7 774.9L243.7 774.0L244.7 773.0L245.7 772.1L246.7 771.1L247.7 770.2L248.7 769.3L249.7 768.3L250.7 767.4L251.7 766.5L252.7 765.6L253.7 764.7L254.7 763.8L255.7 762.9L256.7 762.0L257.7 761.1L258.7 760.3L259.7 759.4L260.7 758.5L261.7 757.7L262.7 756.8L263.7 756.0L264.7 755.2L265.7 754.3L266.7 753.5L267.7 752.7L268.7 751.8L269.7 751.0L270.7 750.2L271.7 749.4L272.7 748.6L273.7 747.9L274.7 747.1L275.7 746.3L276.7 745.6L277.7 744.8L278.7 744.1L279.7 743.3L280.7 742.6L281.7 741.9L282.7 741.2L283.7 740.4L284.7 739.8L285.7 739.1L286.7 738.4L287.7 737.7L288.7 737.1L289.7 736.4L290.7 735.8L291.7 735.2L292.7 734.5L293.7 733.9L294.7 733.3L295.7 732.8L296.7 732.2L297.7 731.6L298.7 731.1L299.7 730.5L300.7 730.0L301.7 729.5L302.7 729.0L303.7 728.5L304.7 728.0L305.7 727.6L306.7 727.1L307.7 726.7L308.7 726.2L309.7 725.8L310.7 725.4L311.7 725.1L312.7 724.7L313.7 724.3L314.7 724.0L315.7 723.7L316.7 723.4L317.7 723.1L318.7 722.8L319.7 722.5L320.7 722.3L321.7 722.0L322.7 721.8L323.7 721.6L324.7 721.4L325.7 721.2L326.7 721.1L327.7 720.9L328.7 720.8L329.7 720.7L330.4 720.7" fill="none" stroke="#9c9c5c" stroke-width="1.3" stroke-linejoin="round"/><path d="M55.7 943.8L56.7 943.8L57.7 943.7L58.7 943.7L59.7 943.6L60.7 943.5L61.7 943.4L62.7 943.2L63.7 943.1L64.7 942.9L65.7 942.7L66.7 942.5L67.7 942.3L68.7 942.1L69.7 941.8L70.7 941.5L71.7 941.3L72.7 940.9L73.7 940.6L74.7 940.3L75.7 939.9L76.7 939.6L77.7 939.2L78.7 938.8L79.7 938.3L80.7 937.9L81.7 937.4L82.7 937.0L83.7 936.5L84.7 936.0L85.7 935.5L86.7 935.0L87.7 934.4L88.7 933.9L89.7 933.3L90.7 932.7L91.7 932.1L92.7 931.5L93.7 930.9L94.7 930.2L95.7 929.6L96.7 928.9L97.7 928.3L98.7 927.6L99.7 926.9L100.7 926.1L101.7 925.4L102.7 924.7L103.7 923.9L104.7 923.2L105.7 922.4L106.7 921.6L107.7 920.8L108.7 920.0L109.7 919.2L110.7 918.3L111.7 917.5L112.7 916.6L113.7 915.7L114.7 914.9L115.7 914.0L116.7 913.1L117.7 912.2L118.7 911.3L119.7 910.3L120.7 909.4L121.7 908.4L122.7 907.5L123.7 906.5L124.7 905.5L125.7 904.6L126.7 903.6L127.7 902.6L128.7 901.6L129.7 900.5L130.7 899.5L131.7 898.5L132.7 897.4L133.7 896.4L134.7 895.3L135.7 894.3L136.7 893.2L137.7 892.1L138.7 891.0L139.7 889.9L140.7 888.8L141.7 887.7L142.7 886.6L143.7 885.5L144.7 884.4L145.7 883.2L146.7 882.1L147.7 881.0L148.7 879.8L149.7 878.7L150.7 877.5L151.7 876.3L152.7 875.2L153.7 874.0L154.7 872.8L155.7 871.6L156.7 870.4L157.7 869.2L158.7 868.1L159.7 866.9L160.7 865.7L161.7 864.4L162.7 863.2L163.7 862.0L164.7 860.8L165.7 859.6L166.7 858.4L167.7 857.1L168.7 855.9L169.7 854.7L170.7 853.4L171.7 852.2L172.7 851.0L173.7 849.7L174.7 848.5L175.7 847.2L176.7 846.0L177.7 844.8L178.7 843.5L179.7 842.3L180.7 841.0L181.7 839.8L182.7 838.5L183.7 837.3L184.7 836.0L185.7 834.8L186.7 833.5L187.7 832.3L188.7 831.0L189.7 829.8L190.7 828.5L191.7 827.3L192.7 826.0L193.7 824.8L194.7 823.5L195.7 822.3L196.7 821.0L197.7 819.8L198.7 818.6L199.7 817.3L200.7 816.1L201.7 814.9L202.7 813.6L203.7 812.4L204.7 811.2L205.7 810.0L206.7 808.7L207.7 807.5L208.7 806.3L209.7 805.1L210.7 803.9L211.7 802.7L212.7 801.5L213.7 800.3L214.7 799.1L215.7 797.9L216.7 796.8L217.7 795.6L218.7 794.4L219.7 793.2L220.7 792.1L221.7 790.9L222.7 789.8L223.7 788.6L224.7 787.5L225.7 786.3L226.7 785.2L227.7 784.1L228.7 783.0L229.7 781.9L230.7 780.8L231.7 779.7L232.7 778.6L233.7 777.5L234.7 776.4L235.7 775.3L236.7 774.3L237.7 773.2L238.7 772.2L239.7 771.1L240.7 770.1L241.7 769.1L242.7 768.0L243.7 767.0L244.7 766.0L245.7 765.0L246.7 764.1L247.7 763.1L248.7 762.1L249.7 761.2L250.7 760.2L251.7 759.3L252.7 758.3L253.7 757.4L254.7 756.5L255.7 755.6L256.7 754.7L257.7 753.9L258.7 753.0L259.7 752.1L260.7 751.3L261.7 750.4L262.7 749.6L263.7 748.8L264.7 748.0L265.7 747.2L266.7 746.4L267.7 745.7L268.7 744.9L269.7 744.2L270.7 743.4L271.7 742.7L272.7 742.0L273.7 741.3L274.7 740.6L275.7 739.9L276.7 739.3L277.7 738.6L278.7 738.0L279.7 737.3L280.7 736.7L281.7 736.1L282.7 735.5L283.7 735.0L284.7 734.4L285.7 733.8L286.7 733.3L287.7 732.7L288.7 732.2L289.7 731.7L290.7 731.2L291.7 730.7L292.7 730.3L293.7 729.8L294.7 729.3L295.7 728.9L296.7 728.5L297.7 728.1L298.7 727.6L299.7 727.3L300.7 726.9L301.7 726.5L302.7 726.1L303.7 725.8L304.7 725.5L305.7 725.1L306.7 724.8L307.7 724.5L308.7 724.2L309.7 724.0L310.7 723.7L311.7 723.5L312.7 723.2L313.7 723.0L314.7 722.8L315.7 722.6L316.7 722.4L317.7 722.2L318.7 722.0L319.7 721.9L320.7 721.7L321.7 721.6L322.7 721.5L323.7 721.3L324.7 721.2L325.7 721.2L326.7 721.1L327.7 721.0L328.7 721.0L329.7 720.9L330.4 720.9" fill="none" stroke="#7676c6" stroke-width="1.15" stroke-linejoin="round"/><path d="M55.7 943.4L56.7 943.4L57.7 943.5L58.7 943.4L59.7 943.4L60.7 943.4L61.7 943.3L62.7 943.2L63.7 943.1L64.7 942.9L65.7 942.8L66.7 942.6L67.7 942.4L68.7 942.2L69.7 942.0L70.7 941.8L71.7 941.5L72.7 941.2L73.7 940.9L74.7 940.6L75.7 940.3L76.7 939.9L77.7 939.5L78.7 939.1L79.7 938.7L80.7 938.3L81.7 937.9L82.7 937.4L83.7 936.9L84.7 936.5L85.7 935.9L86.7 935.4L87.7 934.9L88.7 934.3L89.7 933.8L90.7 933.2L91.7 932.6L92.7 931.9L93.7 931.3L94.7 930.7L95.7 930.0L96.7 929.3L97.7 928.6L98.7 927.9L99.7 927.2L100.7 926.5L101.7 925.7L102.7 924.9L103.7 924.2L104.7 923.4L105.7 922.6L106.7 921.7L107.7 920.9L108.7 920.0L109.7 919.2L110.7 918.3L111.7 917.4L112.7 916.5L113.7 915.6L114.7 914.7L115.7 913.7L116.7 912.8L117.7 911.8L118.7 910.8L119.7 909.8L120.7 908.8L121.7 907.8L122.7 906.8L123.7 905.8L124.7 904.7L125.7 903.7L126.7 902.6L127.7 901.5L128.7 900.4L129.7 899.3L130.7 898.2L131.7 897.1L132.7 896.0L133.7 894.8L134.7 893.7L135.7 892.5L136.7 891.3L137.7 890.1L138.7 889.0L139.7 887.8L140.7 886.6L141.7 885.3L142.7 884.1L143.7 882.9L144.7 881.7L145.7 880.4L146.7 879.2L147.7 877.9L148.7 876.6L149.7 875.4L150.7 874.1L151.7 872.8L152.7 871.5L153.7 870.2L154.7 868.9L155.7 867.6L156.7 866.3L157.7 865.0L158.7 863.7L159.7 862.4L160.7 861.1L161.7 859.7L162.7 858.4L163.7 857.1L164.7 855.7L165.7 854.4L166.7 853.1L167.7 851.7L168.7 850.4L169.7 849.0L170.7 847.7L171.7 846.4L172.7 845.0L173.7 843.7L174.7 842.3L175.7 841.0L176.7 839.6L177.7 838.3L178.7 836.9L179.7 835.6L180.7 834.2L181.7 832.9L182.7 831.5L183.7 830.2L184.7 828.9L185.7 827.5L186.7 826.2L187.7 824.9L188.7 823.5L189.7 822.2L190.7 820.9L191.7 819.6L192.7 818.3L193.7 816.9L194.7 815.6L195.7 814.3L196.7 813.0L197.7 811.7L198.7 810.5L199.7 809.2L200.7 807.9L201.7 806.6L202.7 805.4L203.7 804.1L204.7 802.8L205.7 801.6L206.7 800.3L207.7 799.1L208.7 797.9L209.7 796.6L210.7 795.4L211.7 794.2L212.7 793.0L213.7 791.8L214.7 790.6L215.7 789.4L216.7 788.2L217.7 787.0L218.7 785.9L219.7 784.7L220.7 783.6L221.7 782.4L222.7 781.3L223.7 780.1L224.7 779.0L225.7 777.9L226.7 776.8L227.7 775.7L228.7 774.6L229.7 773.5L230.7 772.5L231.7 771.4L232.7 770.3L233.7 769.3L234.7 768.3L235.7 767.2L236.7 766.2L237.7 765.2L238.7 764.2L239.7 763.2L240.7 762.2L241.7 761.3L242.7 760.3L243.7 759.3L244.7 758.4L245.7 757.5L246.7 756.6L247.7 755.6L248.7 754.7L249.7 753.9L250.7 753.0L251.7 752.1L252.7 751.3L253.7 750.4L254.7 749.6L255.7 748.8L256.7 748.0L257.7 747.2L258.7 746.4L259.7 745.6L260.7 744.9L261.7 744.1L262.7 743.4L263.7 742.7L264.7 741.9L265.7 741.2L266.7 740.6L267.7 739.9L268.7 739.2L269.7 738.6L270.7 738.0L271.7 737.3L272.7 736.7L273.7 736.2L274.7 735.6L275.7 735.0L276.7 734.5L277.7 733.9L278.7 733.4L279.7 732.9L280.7 732.4L281.7 731.9L282.7 731.4L283.7 730.9L284.7 730.5L285.7 730.0L286.7 729.6L287.7 729.2L288.7 728.8L289.7 728.4L290.7 728.0L291.7 727.6L292.7 727.3L293.7 726.9L294.7 726.6L295.7 726.3L296.7 725.9L297.7 725.6L298.7 725.3L299.7 725.1L300.7 724.8L301.7 724.5L302.7 724.3L303.7 724.1L304.7 723.8L305.7 723.6L306.7 723.4L307.7 723.2L308.7 723.0L309.7 722.9L310.7 722.7L311.7 722.6L312.7 722.4L313.7 722.3L314.7 722.2L315.7 722.1L316.7 722.0L317.7 721.9L318.7 721.8L319.7 721.7L320.7 721.7L321.7 721.6L322.7 721.6L323.7 721.5L324.7 721.5L325.7 721.5L326.7 721.5L327.7 721.5L328.7 721.5L329.7 721.5L330.4 721.6" fill="none" stroke="#505050" stroke-width="1.15" stroke-linejoin="round"/><circle cx="55.7" cy="943.8" r="1.65" fill="#6262b4"/><circle cx="68.2" cy="942.2" r="1.65" fill="#6262b4"/><circle cx="80.7" cy="937.9" r="1.65" fill="#6262b4"/><circle cx="93.2" cy="931.2" r="1.65" fill="#6262b4"/><circle cx="105.6" cy="922.4" r="1.65" fill="#6262b4"/><circle cx="118.1" cy="911.8" r="1.65" fill="#6262b4"/><circle cx="130.6" cy="899.6" r="1.65" fill="#6262b4"/><circle cx="143.1" cy="886.2" r="1.65" fill="#6262b4"/><circle cx="155.6" cy="871.8" r="1.65" fill="#6262b4"/><circle cx="168.1" cy="856.7" r="1.65" fill="#6262b4"/><circle cx="180.6" cy="841.2" r="1.65" fill="#6262b4"/><circle cx="193.1" cy="825.6" r="1.65" fill="#6262b4"/><circle cx="205.5" cy="810.2" r="1.65" fill="#6262b4"/><circle cx="218.0" cy="795.2" r="1.65" fill="#6262b4"/><circle cx="230.5" cy="781.0" r="1.65" fill="#6262b4"/><circle cx="243.0" cy="767.7" r="1.65" fill="#6262b4"/><circle cx="255.5" cy="755.8" r="1.65" fill="#6262b4"/><circle cx="268.0" cy="745.5" r="1.65" fill="#6262b4"/><circle cx="280.5" cy="736.9" r="1.65" fill="#6262b4"/><circle cx="292.9" cy="730.1" r="1.65" fill="#6262b4"/><circle cx="305.4" cy="725.2" r="1.65" fill="#6262b4"/><circle cx="317.9" cy="722.2" r="1.65" fill="#6262b4"/><circle cx="330.4" cy="720.9" r="1.65" fill="#6262b4"/><circle cx="55.7" cy="943.4" r="1.65" fill="#424242"/><circle cx="68.2" cy="942.3" r="1.65" fill="#424242"/><circle cx="80.7" cy="938.3" r="1.65" fill="#424242"/><circle cx="93.2" cy="931.7" r="1.65" fill="#424242"/><circle cx="105.6" cy="922.6" r="1.65" fill="#424242"/><circle cx="118.1" cy="911.4" r="1.65" fill="#424242"/><circle cx="130.6" cy="898.3" r="1.65" fill="#424242"/><circle cx="143.1" cy="883.6" r="1.65" fill="#424242"/><circle cx="155.6" cy="867.8" r="1.65" fill="#424242"/><circle cx="168.1" cy="851.2" r="1.65" fill="#424242"/><circle cx="180.6" cy="834.4" r="1.65" fill="#424242"/><circle cx="193.1" cy="817.8" r="1.65" fill="#424242"/><circle cx="205.5" cy="801.8" r="1.65" fill="#424242"/><circle cx="218.0" cy="786.7" r="1.65" fill="#424242"/><circle cx="230.5" cy="772.7" r="1.65" fill="#424242"/><circle cx="243.0" cy="760.0" r="1.65" fill="#424242"/><circle cx="255.5" cy="749.0" r="1.65" fill="#424242"/><circle cx="268.0" cy="739.7" r="1.65" fill="#424242"/><circle cx="280.5" cy="732.5" r="1.65" fill="#424242"/><circle cx="292.9" cy="727.2" r="1.65" fill="#424242"/><circle cx="305.4" cy="723.7" r="1.65" fill="#424242"/><circle cx="317.9" cy="721.8" r="1.65" fill="#424242"/><circle cx="330.4" cy="721.6" r="1.65" fill="#424242"/><path d="M429.8 930.1L430.8 929.0L431.8 927.8L432.8 926.7L433.8 925.7L434.8 924.6L435.8 923.5L436.8 922.5L437.8 921.4L438.8 920.4L439.8 919.4L440.8 918.4L441.8 917.4L442.8 916.4L443.8 915.5L444.8 914.5L445.8 913.6L446.8 912.6L447.8 911.7L448.8 910.8L449.8 909.9L450.8 909.0L451.8 908.1L452.8 907.2L453.8 906.3L454.8 905.4L455.8 904.6L456.8 903.7L457.8 902.8L458.8 902.0L459.8 901.1L460.8 900.3L461.8 899.5L462.8 898.6L463.8 897.8L464.8 897.0L465.8 896.2L466.8 895.4L467.8 894.6L468.8 893.8L469.8 892.9L470.8 892.1L471.8 891.3L472.8 890.6L473.8 889.8L474.8 889.0L475.8 888.2L476.8 887.4L477.8 886.6L478.8 885.8L479.8 885.1L480.8 884.3L481.8 883.5L482.8 882.8L483.8 882.0L484.8 881.3L485.8 880.5L486.8 879.7L487.8 879.0L488.8 878.3L489.8 877.5L490.8 876.8L491.8 876.0L492.8 875.3L493.8 874.6L494.8 873.9L495.8 873.1L496.8 872.4L497.8 871.7L498.8 871.0L499.8 870.3L500.8 869.6L501.8 868.9L502.8 868.2L503.8 867.5L504.8 866.8L505.8 866.1L506.8 865.4L507.8 864.8L508.8 864.1L509.8 863.4L510.8 862.8L511.8 862.1L512.8 861.4L513.8 860.8L514.8 860.1L515.8 859.4L516.8 858.8L517.8 858.1L518.8 857.5L519.8 856.8L520.8 856.1L521.8 855.5L522.8 854.8L523.8 854.2L524.8 853.5L525.8 852.9L526.8 852.2L527.8 851.5L528.8 850.9L529.8 850.2L530.8 849.5L531.8 848.9L532.8 848.2L533.8 847.5L534.8 846.9L535.8 846.2L536.8 845.5L537.8 844.9L538.8 844.2L539.8 843.6L540.8 842.9L541.8 842.2L542.8 841.6L543.8 840.9L544.8 840.3L545.8 839.6L546.8 839.0L547.8 838.4L548.8 837.7L549.8 837.1L550.8 836.4L551.8 835.8L552.8 835.2L553.8 834.5L554.8 833.9L555.8 833.2L556.8 832.6L557.8 832.0L558.8 831.3L559.8 830.7L560.8 830.0L561.8 829.4L562.8 828.8L563.8 828.1L564.8 827.5L565.8 826.8L566.8 826.2L567.8 825.6L568.8 824.9L569.8 824.3L570.8 823.7L571.8 823.1L572.8 822.4L573.8 821.8L574.8 821.2L575.8 820.6L576.8 820.0L577.8 819.4L578.8 818.7L579.8 818.1L580.8 817.5L581.8 816.9L582.8 816.3L583.8 815.7L584.8 815.1L585.8 814.5L586.8 813.9L587.8 813.3L588.8 812.7L589.8 812.1L590.8 811.4L591.8 810.8L592.8 810.2L593.8 809.6L594.8 809.0L595.8 808.4L596.8 807.8L597.8 807.2L598.8 806.6L599.8 806.0L600.8 805.4L601.8 804.8L602.8 804.2L603.8 803.6L604.8 803.0L605.8 802.4L606.8 801.7L607.8 801.1L608.8 800.5L609.8 799.9L610.8 799.3L611.8 798.7L612.8 798.0L613.8 797.4L614.8 796.8L615.8 796.2L616.8 795.5L617.8 794.9L618.8 794.3L619.8 793.6L620.8 793.0L621.8 792.4L622.8 791.7L623.8 791.1L624.8 790.4L625.8 789.8L626.8 789.1L627.8 788.5L628.8 787.8L629.8 787.2L630.8 786.5L631.8 785.8L632.8 785.2L633.8 784.5L634.8 783.8L635.8 783.1L636.8 782.4L637.8 781.7L638.8 781.0L639.8 780.4L640.8 779.7L641.8 778.9L642.8 778.2L643.8 777.5L644.8 776.8L645.8 776.1L646.8 775.4L647.8 774.7L648.8 773.9L649.8 773.2L650.8 772.5L651.8 771.8L652.8 771.0L653.8 770.3L654.8 769.6L655.8 768.8L656.8 768.1L657.8 767.4L658.8 766.6L659.8 765.9L660.8 765.2L661.8 764.4L662.8 763.7L663.8 762.9L664.8 762.2L665.8 761.5L666.8 760.7L667.8 760.0L668.8 759.2L669.8 758.5L670.8 757.8L671.8 757.0L672.8 756.3L673.8 755.6L674.8 754.8L675.8 754.1L676.8 753.4L677.8 752.6L678.8 751.9L679.8 751.2L680.8 750.4L681.8 749.7L682.8 749.0L683.8 748.3L684.8 747.6L685.8 746.9L686.8 746.1L687.8 745.4L688.8 744.7L689.8 744.0L690.8 743.3L691.8 742.6L692.8 741.9L693.8 741.3L694.8 740.6L695.8 739.9L696.8 739.2L697.8 738.5L698.8 737.9L699.8 737.2L700.8 736.5L701.8 735.9L702.8 735.2L703.8 734.6L704.8 734.0L705.8 733.3L706.8 732.7L707.6 732.2" fill="none" stroke="#80cc80" stroke-width="1.15" stroke-linejoin="round"/><path d="M429.8 930.6L430.8 929.5L431.8 928.4L432.8 927.3L433.8 926.2L434.8 925.1L435.8 924.1L436.8 923.0L437.8 922.0L438.8 921.0L439.8 920.0L440.8 919.0L441.8 918.0L442.8 917.0L443.8 916.0L444.8 915.1L445.8 914.1L446.8 913.2L447.8 912.2L448.8 911.3L449.8 910.4L450.8 909.5L451.8 908.6L452.8 907.7L453.8 906.8L454.8 905.9L455.8 905.0L456.8 904.2L457.8 903.3L458.8 902.4L459.8 901.6L460.8 900.8L461.8 899.9L462.8 899.1L463.8 898.3L464.8 897.4L465.8 896.6L466.8 895.8L467.8 895.0L468.8 894.2L469.8 893.4L470.8 892.6L471.8 891.8L472.8 891.0L473.8 890.2L474.8 889.5L475.8 888.7L476.8 887.9L477.8 887.1L478.8 886.4L479.8 885.6L480.8 884.8L481.8 884.1L482.8 883.3L483.8 882.5L484.8 881.8L485.8 881.0L486.8 880.3L487.8 879.6L488.8 878.8L489.8 878.1L490.8 877.3L491.8 876.6L492.8 875.9L493.8 875.2L494.8 874.4L495.8 873.7L496.8 873.0L497.8 872.3L498.8 871.6L499.8 870.9L500.8 870.2L501.8 869.5L502.8 868.8L503.8 868.1L504.8 867.4L505.8 866.7L506.8 866.0L507.8 865.3L508.8 864.6L509.8 863.9L510.8 863.3L511.8 862.6L512.8 861.9L513.8 861.2L514.8 860.6L515.8 859.9L516.8 859.2L517.8 858.5L518.8 857.9L519.8 857.2L520.8 856.5L521.8 855.9L522.8 855.2L523.8 854.5L524.8 853.9L525.8 853.2L526.8 852.5L527.8 851.9L528.8 851.2L529.8 850.6L530.8 849.9L531.8 849.2L532.8 848.6L533.8 847.9L534.8 847.3L535.8 846.6L536.8 845.9L537.8 845.3L538.8 844.6L539.8 844.0L540.8 843.3L541.8 842.7L542.8 842.0L543.8 841.4L544.8 840.8L545.8 840.1L546.8 839.5L547.8 838.9L548.8 838.2L549.8 837.6L550.8 837.0L551.8 836.3L552.8 835.7L553.8 835.1L554.8 834.5L555.8 833.9L556.8 833.2L557.8 832.6L558.8 832.0L559.8 831.4L560.8 830.8L561.8 830.2L562.8 829.6L563.8 829.0L564.8 828.4L565.8 827.7L566.8 827.1L567.8 826.5L568.8 825.9L569.8 825.3L570.8 824.7L571.8 824.1L572.8 823.5L573.8 822.9L574.8 822.3L575.8 821.7L576.8 821.1L577.8 820.5L578.8 819.9L579.8 819.3L580.8 818.7L581.8 818.1L582.8 817.5L583.8 816.9L584.8 816.3L585.8 815.7L586.8 815.1L587.8 814.5L588.8 813.9L589.8 813.3L590.8 812.7L591.8 812.1L592.8 811.5L593.8 810.9L594.8 810.3L595.8 809.7L596.8 809.2L597.8 808.6L598.8 808.0L599.8 807.4L600.8 806.8L601.8 806.2L602.8 805.6L603.8 805.0L604.8 804.4L605.8 803.9L606.8 803.3L607.8 802.7L608.8 802.1L609.8 801.5L610.8 800.9L611.8 800.4L612.8 799.8L613.8 799.2L614.8 798.6L615.8 798.0L616.8 797.4L617.8 796.8L618.8 796.2L619.8 795.6L620.8 795.0L621.8 794.4L622.8 793.8L623.8 793.2L624.8 792.5L625.8 791.9L626.8 791.3L627.8 790.7L628.8 790.0L629.8 789.4L630.8 788.7L631.8 788.1L632.8 787.4L633.8 786.7L634.8 786.0L635.8 785.3L636.8 784.6L637.8 783.9L638.8 783.2L639.8 782.5L640.8 781.8L641.8 781.1L642.8 780.3L643.8 779.6L644.8 778.8L645.8 778.1L646.8 777.3L647.8 776.5L648.8 775.7L649.8 775.0L650.8 774.2L651.8 773.4L652.8 772.6L653.8 771.8L654.8 771.0L655.8 770.2L656.8 769.4L657.8 768.6L658.8 767.7L659.8 766.9L660.8 766.1L661.8 765.3L662.8 764.4L663.8 763.6L664.8 762.8L665.8 761.9L666.8 761.1L667.8 760.3L668.8 759.4L669.8 758.6L670.8 757.7L671.8 756.9L672.8 756.1L673.8 755.2L674.8 754.4L675.8 753.5L676.8 752.7L677.8 751.8L678.8 751.0L679.8 750.2L680.8 749.3L681.8 748.5L682.8 747.7L683.8 746.8L684.8 746.0L685.8 745.2L686.8 744.3L687.8 743.5L688.8 742.7L689.8 741.9L690.8 741.1L691.8 740.2L692.8 739.4L693.8 738.6L694.8 737.8L695.8 736.9L696.8 736.1L697.8 735.3L698.8 734.5L699.8 733.7L700.8 732.8L701.8 732.0L702.8 731.2L703.8 730.4L704.8 729.5L705.8 728.7L706.8 727.9L707.6 727.2" fill="none" stroke="#e07c7c" stroke-width="1.15" stroke-linejoin="round" style="mix-blend-mode:multiply"/><path d="M429.8 931.4L430.8 930.4L431.8 929.4L432.8 928.5L433.8 927.5L434.8 926.6L435.8 925.6L436.8 924.7L437.8 923.8L438.8 922.8L439.8 921.9L440.8 921.0L441.8 920.1L442.8 919.2L443.8 918.3L444.8 917.4L445.8 916.5L446.8 915.7L447.8 914.8L448.8 913.9L449.8 913.0L450.8 912.2L451.8 911.3L452.8 910.5L453.8 909.6L454.8 908.8L455.8 908.0L456.8 907.1L457.8 906.3L458.8 905.5L459.8 904.7L460.8 903.8L461.8 903.0L462.8 902.2L463.8 901.4L464.8 900.6L465.8 899.8L466.8 899.1L467.8 898.3L468.8 897.5L469.8 896.7L470.8 895.9L471.8 895.2L472.8 894.4L473.8 893.7L474.8 892.9L475.8 892.2L476.8 891.4L477.8 890.7L478.8 890.0L479.8 889.2L480.8 888.5L481.8 887.8L482.8 887.1L483.8 886.4L484.8 885.7L485.8 885.0L486.8 884.3L487.8 883.7L488.8 883.0L489.8 882.4L490.8 881.7L491.8 881.1L492.8 880.4L493.8 879.8L494.8 879.2L495.8 878.6L496.8 877.9L497.8 877.3L498.8 876.7L499.8 876.1L500.8 875.5L501.8 874.9L502.8 874.2L503.8 873.6L504.8 872.9L505.8 872.3L506.8 871.6L507.8 870.9L508.8 870.2L509.8 869.5L510.8 868.8L511.8 868.1L512.8 867.3L513.8 866.6L514.8 865.8L515.8 865.1L516.8 864.3L517.8 863.5L518.8 862.8L519.8 862.0L520.8 861.2L521.8 860.3L522.8 859.5L523.8 858.7L524.8 857.9L525.8 857.0L526.8 856.2L527.8 855.3L528.8 854.5L529.8 853.6L530.8 852.7L531.8 851.9L532.8 851.0L533.8 850.1L534.8 849.2L535.8 848.3L536.8 847.4L537.8 846.5L538.8 845.6L539.8 844.7L540.8 843.8L541.8 842.8L542.8 841.9L543.8 841.0L544.8 840.0L545.8 839.1L546.8 838.2L547.8 837.2L548.8 836.3L549.8 835.4L550.8 834.4L551.8 833.5L552.8 832.5L553.8 831.6L554.8 830.6L555.8 829.7L556.8 828.7L557.8 827.8L558.8 826.8L559.8 825.9L560.8 824.9L561.8 824.0L562.8 823.0L563.8 822.1L564.8 821.1L565.8 820.2L566.8 819.2L567.8 818.3L568.8 817.3L569.8 816.4L570.8 815.5L571.8 814.5L572.8 813.6L573.8 812.7L574.8 811.8L575.8 810.8L576.8 809.9L577.8 809.0L578.8 808.1L579.8 807.2L580.8 806.3L581.8 805.4L582.8 804.5L583.8 803.6L584.8 802.8L585.8 801.9L586.8 801.0L587.8 800.2L588.8 799.3L589.8 798.5L590.8 797.6L591.8 796.8L592.8 796.0L593.8 795.2L594.8 794.4L595.8 793.6L596.8 792.8L597.8 792.0L598.8 791.3L599.8 790.5L600.8 789.8L601.8 789.0L602.8 788.3L603.8 787.6L604.8 786.9L605.8 786.2L606.8 785.6L607.8 784.9L608.8 784.3L609.8 783.6L610.8 783.0L611.8 782.4L612.8 781.8L613.8 781.2L614.8 780.7L615.8 780.2L616.8 779.6L617.8 779.1L618.8 778.6L619.8 778.1L620.8 777.7L621.8 777.2L622.8 776.8L623.8 776.4L624.8 776.0L625.8 775.6L626.8 775.2L627.8 774.9L628.8 774.5L629.8 774.2L630.8 773.9L631.8 773.5L632.8 773.2L633.8 773.0L634.8 772.7L635.8 772.4L636.8 772.1L637.8 771.9L638.8 771.6L639.8 771.4L640.8 771.2L641.8 771.0L642.8 770.7L643.8 770.5L644.8 770.3L645.8 770.1L646.8 770.0L647.8 769.8L648.8 769.6L649.8 769.4L650.8 769.2L651.8 769.1L652.8 768.9L653.8 768.8L654.8 768.6L655.8 768.4L656.8 768.3L657.8 768.1L658.8 768.0L659.8 767.8L660.8 767.7L661.8 767.5L662.8 767.4L663.8 767.2L664.8 767.1L665.8 766.9L666.8 766.8L667.8 766.6L668.8 766.5L669.8 766.4L670.8 766.2L671.8 766.1L672.8 765.9L673.8 765.8L674.8 765.6L675.8 765.5L676.8 765.3L677.8 765.2L678.8 765.0L679.8 764.8L680.8 764.7L681.8 764.5L682.8 764.4L683.8 764.2L684.8 764.0L685.8 763.8L686.8 763.7L687.8 763.5L688.8 763.3L689.8 763.1L690.8 762.9L691.8 762.8L692.8 762.6L693.8 762.4L694.8 762.2L695.8 762.0L696.8 761.7L697.8 761.5L698.8 761.3L699.8 761.1L700.8 760.9L701.8 760.6L702.8 760.4L703.8 760.1L704.8 759.9L705.8 759.6L706.8 759.4L707.6 759.2" fill="none" stroke="#7676c6" stroke-width="1.15" stroke-linejoin="round"/><path d="M429.8 936.9L430.8 935.9L431.8 934.9L432.8 933.8L433.8 932.8L434.8 931.8L435.8 930.7L436.8 929.7L437.8 928.6L438.8 927.6L439.8 926.5L440.8 925.5L441.8 924.4L442.8 923.4L443.8 922.3L444.8 921.3L445.8 920.3L446.8 919.2L447.8 918.2L448.8 917.2L449.8 916.2L450.8 915.2L451.8 914.2L452.8 913.2L453.8 912.2L454.8 911.2L455.8 910.3L456.8 909.3L457.8 908.4L458.8 907.5L459.8 906.6L460.8 905.7L461.8 904.8L462.8 904.0L463.8 903.2L464.8 902.3L465.8 901.5L466.8 900.8L467.8 900.0L468.8 899.3L469.8 898.6L470.8 897.9L471.8 897.2L472.8 896.5L473.8 895.9L474.8 895.2L475.8 894.6L476.8 894.0L477.8 893.4L478.8 892.8L479.8 892.2L480.8 891.6L481.8 891.0L482.8 890.4L483.8 889.9L484.8 889.3L485.8 888.7L486.8 888.2L487.8 887.6L488.8 887.0L489.8 886.5L490.8 885.9L491.8 885.3L492.8 884.7L493.8 884.1L494.8 883.5L495.8 882.9L496.8 882.3L497.8 881.7L498.8 881.0L499.8 880.4L500.8 879.7L501.8 879.0L502.8 878.3L503.8 877.6L504.8 876.8L505.8 876.0L506.8 875.2L507.8 874.4L508.8 873.6L509.8 872.8L510.8 871.9L511.8 871.0L512.8 870.1L513.8 869.2L514.8 868.3L515.8 867.3L516.8 866.3L517.8 865.4L518.8 864.4L519.8 863.4L520.8 862.3L521.8 861.3L522.8 860.2L523.8 859.2L524.8 858.1L525.8 857.0L526.8 855.9L527.8 854.8L528.8 853.7L529.8 852.6L530.8 851.4L531.8 850.3L532.8 849.1L533.8 847.9L534.8 846.8L535.8 845.6L536.8 844.4L537.8 843.2L538.8 842.0L539.8 840.8L540.8 839.6L541.8 838.3L542.8 837.1L543.8 835.9L544.8 834.7L545.8 833.4L546.8 832.2L547.8 830.9L548.8 829.7L549.8 828.4L550.8 827.2L551.8 826.0L552.8 824.7L553.8 823.5L554.8 822.2L555.8 821.0L556.8 819.7L557.8 818.5L558.8 817.2L559.8 816.0L560.8 814.8L561.8 813.5L562.8 812.3L563.8 811.1L564.8 809.9L565.8 808.7L566.8 807.5L567.8 806.3L568.8 805.1L569.8 803.9L570.8 802.7L571.8 801.5L572.8 800.4L573.8 799.2L574.8 798.1L575.8 796.9L576.8 795.8L577.8 794.7L578.8 793.6L579.8 792.5L580.8 791.4L581.8 790.4L582.8 789.3L583.8 788.3L584.8 787.2L585.8 786.2L586.8 785.2L587.8 784.2L588.8 783.3L589.8 782.3L590.8 781.4L591.8 780.4L592.8 779.5L593.8 778.6L594.8 777.8L595.8 776.9L596.8 776.1L597.8 775.3L598.8 774.5L599.8 773.7L600.8 772.9L601.8 772.2L602.8 771.5L603.8 770.8L604.8 770.1L605.8 769.5L606.8 768.8L607.8 768.2L608.8 767.6L609.8 767.1L610.8 766.5L611.8 766.0L612.8 765.5L613.8 765.1L614.8 764.6L615.8 764.2L616.8 763.8L617.8 763.5L618.8 763.2L619.8 762.9L620.8 762.6L621.8 762.3L622.8 762.1L623.8 761.9L624.8 761.7L625.8 761.6L626.8 761.5L627.8 761.3L628.8 761.3L629.8 761.2L630.8 761.2L631.8 761.1L632.8 761.1L633.8 761.1L634.8 761.2L635.8 761.2L636.8 761.3L637.8 761.4L638.8 761.5L639.8 761.6L640.8 761.7L641.8 761.9L642.8 762.1L643.8 762.2L644.8 762.4L645.8 762.6L646.8 762.8L647.8 763.1L648.8 763.3L649.8 763.6L650.8 763.8L651.8 764.1L652.8 764.4L653.8 764.6L654.8 764.9L655.8 765.2L656.8 765.5L657.8 765.9L658.8 766.2L659.8 766.5L660.8 766.8L661.8 767.2L662.8 767.5L663.8 767.9L664.8 768.2L665.8 768.6L666.8 769.0L667.8 769.3L668.8 769.7L669.8 770.1L670.8 770.5L671.8 770.9L672.8 771.3L673.8 771.7L674.8 772.1L675.8 772.5L676.8 772.9L677.8 773.3L678.8 773.7L679.8 774.2L680.8 774.6L681.8 775.0L682.8 775.4L683.8 775.9L684.8 776.3L685.8 776.8L686.8 777.2L687.8 777.6L688.8 778.1L689.8 778.5L690.8 779.0L691.8 779.4L692.8 779.9L693.8 780.4L694.8 780.8L695.8 781.3L696.8 781.7L697.8 782.2L698.8 782.6L699.8 783.1L700.8 783.6L701.8 784.0L702.8 784.5L703.8 784.9L704.8 785.4L705.8 785.9L706.8 786.3L707.6 786.7" fill="none" stroke="#505050" stroke-width="1.15" stroke-linejoin="round"/><circle cx="429.8" cy="931.4" r="1.65" fill="#6262b4"/><circle cx="442.4" cy="919.6" r="1.65" fill="#6262b4"/><circle cx="454.9" cy="908.7" r="1.65" fill="#6262b4"/><circle cx="467.5" cy="898.5" r="1.65" fill="#6262b4"/><circle cx="480.0" cy="889.1" r="1.65" fill="#6262b4"/><circle cx="492.6" cy="880.6" r="1.65" fill="#6262b4"/><circle cx="505.2" cy="872.7" r="1.65" fill="#6262b4"/><circle cx="517.7" cy="863.6" r="1.65" fill="#6262b4"/><circle cx="530.3" cy="853.2" r="1.65" fill="#6262b4"/><circle cx="542.8" cy="841.9" r="1.65" fill="#6262b4"/><circle cx="555.4" cy="830.1" r="1.65" fill="#6262b4"/><circle cx="568.0" cy="818.1" r="1.65" fill="#6262b4"/><circle cx="580.5" cy="806.6" r="1.65" fill="#6262b4"/><circle cx="593.1" cy="795.8" r="1.65" fill="#6262b4"/><circle cx="605.6" cy="786.3" r="1.65" fill="#6262b4"/><circle cx="618.2" cy="778.9" r="1.65" fill="#6262b4"/><circle cx="630.7" cy="773.9" r="1.65" fill="#6262b4"/><circle cx="643.3" cy="770.6" r="1.65" fill="#6262b4"/><circle cx="655.9" cy="768.4" r="1.65" fill="#6262b4"/><circle cx="668.4" cy="766.6" r="1.65" fill="#6262b4"/><circle cx="681.0" cy="764.6" r="1.65" fill="#6262b4"/><circle cx="693.5" cy="762.4" r="1.65" fill="#6262b4"/><circle cx="706.1" cy="759.6" r="1.65" fill="#6262b4"/><circle cx="429.8" cy="936.9" r="1.65" fill="#424242"/><circle cx="442.4" cy="923.8" r="1.65" fill="#424242"/><circle cx="454.9" cy="911.1" r="1.65" fill="#424242"/><circle cx="467.5" cy="900.3" r="1.65" fill="#424242"/><circle cx="480.0" cy="892.0" r="1.65" fill="#424242"/><circle cx="492.6" cy="884.9" r="1.65" fill="#424242"/><circle cx="505.2" cy="876.5" r="1.65" fill="#424242"/><circle cx="517.7" cy="865.5" r="1.65" fill="#424242"/><circle cx="530.3" cy="852.0" r="1.65" fill="#424242"/><circle cx="542.8" cy="837.1" r="1.65" fill="#424242"/><circle cx="555.4" cy="821.5" r="1.65" fill="#424242"/><circle cx="568.0" cy="806.1" r="1.65" fill="#424242"/><circle cx="580.5" cy="791.7" r="1.65" fill="#424242"/><circle cx="593.1" cy="779.3" r="1.65" fill="#424242"/><circle cx="605.6" cy="769.6" r="1.65" fill="#424242"/><circle cx="618.2" cy="763.4" r="1.65" fill="#424242"/><circle cx="630.7" cy="761.2" r="1.65" fill="#424242"/><circle cx="643.3" cy="762.1" r="1.65" fill="#424242"/><circle cx="655.9" cy="765.3" r="1.65" fill="#424242"/><circle cx="668.4" cy="769.6" r="1.65" fill="#424242"/><circle cx="681.0" cy="774.7" r="1.65" fill="#424242"/><circle cx="693.5" cy="780.2" r="1.65" fill="#424242"/><circle cx="706.1" cy="786.0" r="1.65" fill="#424242"/><path d="M802.1 942.8L803.1 940.0L804.1 937.3L805.1 934.5L806.1 931.7L807.1 928.9L808.1 926.2L809.1 923.4L810.1 920.7L811.1 917.9L812.1 915.2L813.1 912.5L814.1 909.8L815.1 907.1L816.1 904.4L817.1 901.7L818.1 899.0L819.1 896.3L820.1 893.7L821.1 891.1L822.1 888.4L823.1 885.8L824.1 883.2L825.1 880.6L826.1 878.0L827.1 875.4L828.1 872.9L829.1 870.3L830.1 867.8L831.1 865.3L832.1 862.7L833.1 860.3L834.1 857.8L835.1 855.3L836.1 852.9L837.1 850.4L838.1 848.0L839.1 845.6L840.1 843.2L841.1 840.8L842.1 838.5L843.1 836.1L844.1 833.8L845.1 831.5L846.1 829.2L847.1 827.0L848.1 824.7L849.1 822.5L850.1 820.3L851.1 818.1L852.1 815.9L853.1 813.8L854.1 811.6L855.1 809.5L856.1 807.4L857.1 805.3L858.1 803.3L859.1 801.3L860.1 799.3L861.1 797.3L862.1 795.3L863.1 793.4L864.1 791.5L865.1 789.6L866.1 787.7L867.1 785.8L868.1 784.0L869.1 782.2L870.1 780.5L871.1 778.7L872.1 777.0L873.1 775.3L874.1 773.6L875.1 772.0L876.1 770.4L877.1 768.8L878.1 767.2L879.1 765.7L880.1 764.1L881.1 762.7L882.1 761.2L883.1 759.8L884.1 758.4L885.1 757.0L886.1 755.6L887.1 754.3L888.1 753.0L889.1 751.7L890.1 750.5L891.1 749.2L892.1 748.0L893.1 746.9L894.1 745.7L895.1 744.6L896.1 743.5L897.1 742.4L898.1 741.4L899.1 740.4L900.1 739.4L901.1 738.4L902.1 737.5L903.1 736.5L904.1 735.6L905.1 734.8L906.1 733.9L907.1 733.1L908.1 732.3L909.1 731.6L910.1 730.8L911.1 730.1L912.1 729.4L913.1 728.7L914.1 728.1L915.1 727.5L916.1 726.9L917.1 726.3L918.1 725.8L919.1 725.2L920.1 724.8L921.1 724.3L922.1 723.8L923.1 723.4L924.1 723.0L925.1 722.7L926.1 722.3L927.1 722.0L928.1 721.7L929.1 721.4L930.1 721.2L931.1 721.0L932.1 720.8L933.1 720.6L934.1 720.5L935.1 720.4L936.1 720.3L937.1 720.2L938.1 720.2L939.1 720.2L940.1 720.2L941.1 720.2L942.1 720.3L943.1 720.4L944.1 720.5L945.1 720.7L946.1 720.8L947.1 721.0L948.1 721.3L949.1 721.5L950.1 721.8L951.1 722.1L952.1 722.4L953.1 722.8L954.1 723.2L955.1 723.6L956.1 724.0L957.1 724.5L958.1 725.0L959.1 725.5L960.1 726.0L961.1 726.6L962.1 727.2L963.1 727.8L964.1 728.4L965.1 729.1L966.1 729.7L967.1 730.5L968.1 731.2L969.1 732.0L970.1 732.7L971.1 733.5L972.1 734.4L973.1 735.2L974.1 736.1L975.1 737.0L976.1 738.0L977.1 738.9L978.1 739.9L979.1 740.9L980.1 741.9L981.1 742.9L982.1 744.0L983.1 745.1L984.1 746.2L985.1 747.4L986.1 748.5L987.1 749.7L988.1 750.9L989.1 752.1L990.1 753.4L991.1 754.7L992.1 756.0L993.1 757.3L994.1 758.6L995.1 760.0L996.1 761.4L997.1 762.8L998.1 764.2L999.1 765.7L1000.1 767.1L1001.1 768.6L1002.1 770.1L1003.1 771.7L1004.1 773.2L1005.1 774.8L1006.1 776.4L1007.1 778.0L1008.1 779.6L1009.1 781.3L1010.1 783.0L1011.1 784.7L1012.1 786.4L1013.1 788.1L1014.1 789.9L1015.1 791.7L1016.1 793.5L1017.1 795.3L1018.1 797.1L1019.1 799.0L1020.1 800.9L1021.1 802.8L1022.1 804.7L1023.1 806.6L1024.1 808.6L1025.1 810.6L1026.1 812.6L1027.1 814.6L1028.1 816.6L1029.1 818.6L1030.1 820.7L1031.1 822.8L1032.1 824.9L1033.1 827.0L1034.1 829.1L1035.1 831.3L1036.1 833.5L1037.1 835.7L1038.1 837.9L1039.1 840.1L1040.1 842.3L1041.1 844.6L1042.1 846.8L1043.1 849.1L1044.1 851.4L1045.1 853.7L1046.1 856.0L1047.1 858.4L1048.1 860.7L1049.1 863.1L1050.1 865.5L1051.1 867.9L1052.1 870.3L1053.1 872.8L1054.1 875.2L1055.1 877.7L1056.1 880.1L1057.1 882.6L1058.1 885.1L1059.1 887.6L1060.1 890.2L1061.1 892.8L1062.1 895.4L1063.1 898.1L1064.1 900.8L1065.1 903.7L1066.1 906.6L1067.1 909.6L1068.1 912.7L1069.1 916.0L1070.1 919.3L1071.1 922.8L1072.1 926.4L1073.1 930.2L1074.1 934.1L1075.1 938.2L1075.3 939.0" fill="none" stroke="#9c9c5c" stroke-width="1.3" stroke-linejoin="round"/><path d="M802.1 943.3L803.1 939.7L804.1 936.0L805.1 932.3L806.1 928.7L807.1 925.0L808.1 921.4L809.1 917.7L810.1 914.1L811.1 910.6L812.1 907.0L813.1 903.5L814.1 900.1L815.1 896.7L816.1 893.4L817.1 890.1L818.1 886.9L819.1 883.7L820.1 880.7L821.1 877.7L822.1 874.8L823.1 872.1L824.1 869.4L825.1 866.8L826.1 864.4L827.1 862.0L828.1 859.8L829.1 857.7L830.1 855.6L831.1 853.6L832.1 851.7L833.1 849.9L834.1 848.0L835.1 846.2L836.1 844.5L837.1 842.7L838.1 840.9L839.1 839.1L840.1 837.3L841.1 835.5L842.1 833.6L843.1 831.8L844.1 829.9L845.1 828.0L846.1 826.1L847.1 824.1L848.1 822.2L849.1 820.2L850.1 818.3L851.1 816.3L852.1 814.3L853.1 812.3L854.1 810.3L855.1 808.4L856.1 806.4L857.1 804.4L858.1 802.4L859.1 800.4L860.1 798.4L861.1 796.5L862.1 794.5L863.1 792.5L864.1 790.6L865.1 788.7L866.1 786.8L867.1 784.9L868.1 783.0L869.1 781.1L870.1 779.2L871.1 777.4L872.1 775.6L873.1 773.8L874.1 772.1L875.1 770.3L876.1 768.6L877.1 766.9L878.1 765.3L879.1 763.7L880.1 762.1L881.1 760.5L882.1 759.0L883.1 757.5L884.1 756.0L885.1 754.6L886.1 753.1L887.1 751.8L888.1 750.4L889.1 749.1L890.1 747.8L891.1 746.5L892.1 745.3L893.1 744.1L894.1 742.9L895.1 741.8L896.1 740.6L897.1 739.6L898.1 738.5L899.1 737.5L900.1 736.5L901.1 735.5L902.1 734.6L903.1 733.7L904.1 732.8L905.1 732.0L906.1 731.2L907.1 730.4L908.1 729.7L909.1 729.0L910.1 728.3L911.1 727.7L912.1 727.1L913.1 726.5L914.1 726.0L915.1 725.4L916.1 725.0L917.1 724.5L918.1 724.1L919.1 723.7L920.1 723.4L921.1 723.0L922.1 722.8L923.1 722.5L924.1 722.3L925.1 722.1L926.1 721.9L927.1 721.7L928.1 721.6L929.1 721.6L930.1 721.5L931.1 721.5L932.1 721.5L933.1 721.5L934.1 721.6L935.1 721.7L936.1 721.8L937.1 721.9L938.1 722.1L939.1 722.3L940.1 722.5L941.1 722.8L942.1 723.1L943.1 723.4L944.1 723.7L945.1 724.1L946.1 724.5L947.1 724.9L948.1 725.3L949.1 725.8L950.1 726.3L951.1 726.8L952.1 727.3L953.1 727.9L954.1 728.5L955.1 729.1L956.1 729.7L957.1 730.4L958.1 731.1L959.1 731.8L960.1 732.6L961.1 733.3L962.1 734.1L963.1 734.9L964.1 735.8L965.1 736.6L966.1 737.5L967.1 738.4L968.1 739.4L969.1 740.4L970.1 741.3L971.1 742.4L972.1 743.4L973.1 744.5L974.1 745.6L975.1 746.7L976.1 747.8L977.1 749.0L978.1 750.2L979.1 751.4L980.1 752.6L981.1 753.9L982.1 755.2L983.1 756.5L984.1 757.9L985.1 759.2L986.1 760.6L987.1 762.0L988.1 763.5L989.1 764.9L990.1 766.4L991.1 768.0L992.1 769.5L993.1 771.0L994.1 772.6L995.1 774.2L996.1 775.9L997.1 777.5L998.1 779.2L999.1 780.8L1000.1 782.6L1001.1 784.3L1002.1 786.0L1003.1 787.8L1004.1 789.5L1005.1 791.3L1006.1 793.1L1007.1 795.0L1008.1 796.8L1009.1 798.6L1010.1 800.5L1011.1 802.4L1012.1 804.3L1013.1 806.2L1014.1 808.1L1015.1 810.0L1016.1 812.0L1017.1 813.9L1018.1 815.9L1019.1 817.8L1020.1 819.8L1021.1 821.8L1022.1 823.8L1023.1 825.8L1024.1 827.8L1025.1 829.8L1026.1 831.8L1027.1 833.8L1028.1 835.8L1029.1 837.9L1030.1 839.9L1031.1 842.0L1032.1 844.0L1033.1 846.1L1034.1 848.2L1035.1 850.2L1036.1 852.3L1037.1 854.4L1038.1 856.5L1039.1 858.6L1040.1 860.7L1041.1 862.8L1042.1 864.9L1043.1 867.1L1044.1 869.2L1045.1 871.4L1046.1 873.5L1047.1 875.7L1048.1 877.8L1049.1 880.0L1050.1 882.2L1051.1 884.4L1052.1 886.6L1053.1 888.8L1054.1 891.0L1055.1 893.2L1056.1 895.4L1057.1 897.7L1058.1 899.9L1059.1 902.2L1060.1 904.4L1061.1 906.7L1062.1 909.0L1063.1 911.3L1064.1 913.6L1065.1 915.9L1066.1 918.2L1067.1 920.5L1068.1 922.8L1069.1 925.2L1070.1 927.5L1071.1 929.9L1072.1 932.2L1073.1 934.6L1074.1 937.0L1075.1 939.4L1075.3 939.9" fill="none" stroke="#7676c6" stroke-width="1.15" stroke-linejoin="round"/><path d="M802.1 943.2L803.1 938.8L804.1 934.4L805.1 930.1L806.1 925.8L807.1 921.6L808.1 917.5L809.1 913.4L810.1 909.4L811.1 905.4L812.1 901.6L813.1 897.8L814.1 894.1L815.1 890.6L816.1 887.1L817.1 883.7L818.1 880.4L819.1 877.3L820.1 874.2L821.1 871.3L822.1 868.6L823.1 865.9L824.1 863.4L825.1 861.0L826.1 858.8L827.1 856.7L828.1 854.8L829.1 853.0L830.1 851.3L831.1 849.7L832.1 848.1L833.1 846.6L834.1 845.1L835.1 843.7L836.1 842.3L837.1 840.8L838.1 839.3L839.1 837.8L840.1 836.2L841.1 834.5L842.1 832.9L843.1 831.1L844.1 829.3L845.1 827.5L846.1 825.6L847.1 823.8L848.1 821.8L849.1 819.9L850.1 817.9L851.1 815.9L852.1 813.9L853.1 811.9L854.1 809.8L855.1 807.8L856.1 805.7L857.1 803.7L858.1 801.7L859.1 799.6L860.1 797.6L861.1 795.6L862.1 793.6L863.1 791.6L864.1 789.6L865.1 787.7L866.1 785.8L867.1 783.9L868.1 782.0L869.1 780.2L870.1 778.4L871.1 776.6L872.1 774.8L873.1 773.0L874.1 771.3L875.1 769.5L876.1 767.8L877.1 766.2L878.1 764.5L879.1 762.9L880.1 761.2L881.1 759.7L882.1 758.1L883.1 756.6L884.1 755.0L885.1 753.6L886.1 752.1L887.1 750.7L888.1 749.3L889.1 747.9L890.1 746.6L891.1 745.3L892.1 744.0L893.1 742.8L894.1 741.6L895.1 740.4L896.1 739.3L897.1 738.2L898.1 737.1L899.1 736.1L900.1 735.1L901.1 734.2L902.1 733.3L903.1 732.5L904.1 731.7L905.1 730.9L906.1 730.1L907.1 729.4L908.1 728.8L909.1 728.2L910.1 727.6L911.1 727.0L912.1 726.5L913.1 726.0L914.1 725.5L915.1 725.1L916.1 724.7L917.1 724.3L918.1 724.0L919.1 723.7L920.1 723.4L921.1 723.2L922.1 723.0L923.1 722.8L924.1 722.7L925.1 722.6L926.1 722.5L927.1 722.4L928.1 722.4L929.1 722.4L930.1 722.5L931.1 722.6L932.1 722.7L933.1 722.8L934.1 723.0L935.1 723.2L936.1 723.5L937.1 723.8L938.1 724.1L939.1 724.4L940.1 724.8L941.1 725.2L942.1 725.7L943.1 726.1L944.1 726.6L945.1 727.2L946.1 727.7L947.1 728.3L948.1 729.0L949.1 729.7L950.1 730.4L951.1 731.1L952.1 731.9L953.1 732.7L954.1 733.5L955.1 734.4L956.1 735.2L957.1 736.2L958.1 737.1L959.1 738.1L960.1 739.1L961.1 740.2L962.1 741.2L963.1 742.3L964.1 743.4L965.1 744.6L966.1 745.8L967.1 747.0L968.1 748.2L969.1 749.4L970.1 750.7L971.1 752.0L972.1 753.3L973.1 754.7L974.1 756.1L975.1 757.4L976.1 758.9L977.1 760.3L978.1 761.8L979.1 763.2L980.1 764.7L981.1 766.3L982.1 767.8L983.1 769.4L984.1 770.9L985.1 772.5L986.1 774.2L987.1 775.8L988.1 777.5L989.1 779.1L990.1 780.8L991.1 782.5L992.1 784.2L993.1 786.0L994.1 787.7L995.1 789.5L996.1 791.3L997.1 793.1L998.1 794.9L999.1 796.7L1000.1 798.5L1001.1 800.3L1002.1 802.2L1003.1 804.0L1004.1 805.9L1005.1 807.8L1006.1 809.7L1007.1 811.5L1008.1 813.4L1009.1 815.3L1010.1 817.2L1011.1 819.1L1012.1 821.0L1013.1 822.9L1014.1 824.8L1015.1 826.8L1016.1 828.7L1017.1 830.6L1018.1 832.5L1019.1 834.4L1020.1 836.3L1021.1 838.2L1022.1 840.1L1023.1 842.0L1024.1 843.9L1025.1 845.8L1026.1 847.7L1027.1 849.6L1028.1 851.5L1029.1 853.4L1030.1 855.2L1031.1 857.1L1032.1 859.0L1033.1 860.8L1034.1 862.7L1035.1 864.5L1036.1 866.4L1037.1 868.2L1038.1 870.1L1039.1 871.9L1040.1 873.8L1041.1 875.6L1042.1 877.5L1043.1 879.3L1044.1 881.2L1045.1 883.0L1046.1 884.9L1047.1 886.7L1048.1 888.5L1049.1 890.4L1050.1 892.2L1051.1 894.1L1052.1 895.9L1053.1 897.8L1054.1 899.6L1055.1 901.5L1056.1 903.3L1057.1 905.2L1058.1 907.0L1059.1 908.9L1060.1 910.8L1061.1 912.6L1062.1 914.5L1063.1 916.4L1064.1 918.3L1065.1 920.2L1066.1 922.0L1067.1 923.9L1068.1 925.8L1069.1 927.7L1070.1 929.6L1071.1 931.6L1072.1 933.5L1073.1 935.4L1074.1 937.3L1075.1 939.3L1075.3 939.7" fill="none" stroke="#505050" stroke-width="1.15" stroke-linejoin="round"/><circle cx="802.1" cy="943.3" r="1.65" fill="#6262b4"/><circle cx="814.5" cy="898.9" r="1.65" fill="#6262b4"/><circle cx="826.8" cy="862.7" r="1.65" fill="#6262b4"/><circle cx="839.2" cy="839.0" r="1.65" fill="#6262b4"/><circle cx="851.6" cy="815.4" r="1.65" fill="#6262b4"/><circle cx="863.9" cy="791.0" r="1.65" fill="#6262b4"/><circle cx="876.3" cy="768.3" r="1.65" fill="#6262b4"/><circle cx="888.6" cy="749.7" r="1.65" fill="#6262b4"/><circle cx="901.0" cy="735.6" r="1.65" fill="#6262b4"/><circle cx="913.4" cy="726.4" r="1.65" fill="#6262b4"/><circle cx="925.7" cy="722.0" r="1.65" fill="#6262b4"/><circle cx="938.1" cy="722.1" r="1.65" fill="#6262b4"/><circle cx="950.5" cy="726.5" r="1.65" fill="#6262b4"/><circle cx="962.8" cy="734.7" r="1.65" fill="#6262b4"/><circle cx="975.2" cy="746.8" r="1.65" fill="#6262b4"/><circle cx="987.6" cy="762.7" r="1.65" fill="#6262b4"/><circle cx="999.9" cy="782.2" r="1.65" fill="#6262b4"/><circle cx="1012.3" cy="804.6" r="1.65" fill="#6262b4"/><circle cx="1024.6" cy="828.9" r="1.65" fill="#6262b4"/><circle cx="1037.0" cy="854.2" r="1.65" fill="#6262b4"/><circle cx="1049.4" cy="880.6" r="1.65" fill="#6262b4"/><circle cx="1061.7" cy="908.2" r="1.65" fill="#6262b4"/><circle cx="1074.1" cy="937.0" r="1.65" fill="#6262b4"/><circle cx="802.1" cy="943.2" r="1.65" fill="#424242"/><circle cx="814.5" cy="892.8" r="1.65" fill="#424242"/><circle cx="826.8" cy="857.3" r="1.65" fill="#424242"/><circle cx="839.2" cy="837.6" r="1.65" fill="#424242"/><circle cx="851.6" cy="815.0" r="1.65" fill="#424242"/><circle cx="863.9" cy="790.0" r="1.65" fill="#424242"/><circle cx="876.3" cy="767.5" r="1.65" fill="#424242"/><circle cx="888.6" cy="748.5" r="1.65" fill="#424242"/><circle cx="901.0" cy="734.3" r="1.65" fill="#424242"/><circle cx="913.4" cy="725.9" r="1.65" fill="#424242"/><circle cx="925.7" cy="722.5" r="1.65" fill="#424242"/><circle cx="938.1" cy="724.1" r="1.65" fill="#424242"/><circle cx="950.5" cy="730.6" r="1.65" fill="#424242"/><circle cx="962.8" cy="742.0" r="1.65" fill="#424242"/><circle cx="975.2" cy="757.6" r="1.65" fill="#424242"/><circle cx="987.6" cy="776.6" r="1.65" fill="#424242"/><circle cx="999.9" cy="798.2" r="1.65" fill="#424242"/><circle cx="1012.3" cy="821.4" r="1.65" fill="#424242"/><circle cx="1024.6" cy="845.0" r="1.65" fill="#424242"/><circle cx="1037.0" cy="868.1" r="1.65" fill="#424242"/><circle cx="1049.4" cy="890.9" r="1.65" fill="#424242"/><circle cx="1061.7" cy="913.8" r="1.65" fill="#424242"/><circle cx="1074.1" cy="937.3" r="1.65" fill="#424242"/></g>
<g id="a1"><rect x="40.6" y="24.5" width="321.0" height="237.9" fill="none" stroke="#8a8a8a" stroke-width="1.1"/><path d="M104.8 262.4v-3M104.8 24.5v3M169.0 262.4v-3M169.0 24.5v3M233.2 262.4v-3M233.2 24.5v3M297.4 262.4v-3M297.4 24.5v3M40.6 228.4h3M361.6 228.4h-3M40.6 194.4h3M361.6 194.4h-3M40.6 160.4h3M361.6 160.4h-3M40.6 126.5h3M361.6 126.5h-3M40.6 92.5h3M361.6 92.5h-3M40.6 58.5h3M361.6 58.5h-3" stroke="#8a8a8a" stroke-width="0.9" fill="none"/><text x="40.6" y="276.9" text-anchor="middle" class="tk" font-size="11.5">0</text><text x="104.8" y="276.9" text-anchor="middle" class="tk" font-size="11.5">0.2</text><text x="169.0" y="276.9" text-anchor="middle" class="tk" font-size="11.5">0.4</text><text x="233.2" y="276.9" text-anchor="middle" class="tk" font-size="11.5">0.6</text><text x="297.4" y="276.9" text-anchor="middle" class="tk" font-size="11.5">0.8</text><text x="361.6" y="276.9" text-anchor="middle" class="tk" font-size="11.5">1</text><text x="37.1" y="266.3" text-anchor="end" class="tk" font-size="11.5">0</text><text x="37.1" y="232.3" text-anchor="end" class="tk" font-size="11.5">0.1</text><text x="37.1" y="198.3" text-anchor="end" class="tk" font-size="11.5">0.2</text><text x="37.1" y="164.3" text-anchor="end" class="tk" font-size="11.5">0.3</text><text x="37.1" y="130.4" text-anchor="end" class="tk" font-size="11.5">0.4</text><text x="37.1" y="96.4" text-anchor="end" class="tk" font-size="11.5">0.5</text><text x="37.1" y="62.4" text-anchor="end" class="tk" font-size="11.5">0.6</text><text x="37.1" y="28.4" text-anchor="end" class="tk" font-size="11.5">0.7</text><text x="200.9" y="289.7" text-anchor="middle" class="al" font-size="12">y</text><text transform="translate(15.4,142.9) rotate(-90)" x="0" y="3" text-anchor="middle" class="al">ψ</text></g>
<g id="a2"><rect x="406.7" y="23.5" width="320.9" height="238.8" fill="none" stroke="#8a8a8a" stroke-width="1.1"/><path d="M470.9 262.3v-3M470.9 23.5v3M535.1 262.3v-3M535.1 23.5v3M599.2 262.3v-3M599.2 23.5v3M663.4 262.3v-3M663.4 23.5v3M406.7 232.5h3M727.6 232.5h-3M406.7 202.6h3M727.6 202.6h-3M406.7 172.8h3M727.6 172.8h-3M406.7 142.9h3M727.6 142.9h-3M406.7 113.1h3M727.6 113.1h-3M406.7 83.2h3M727.6 83.2h-3M406.7 53.3h3M727.6 53.3h-3" stroke="#8a8a8a" stroke-width="0.9" fill="none"/><text x="406.7" y="276.8" text-anchor="middle" class="tk" font-size="11.5">0</text><text x="470.9" y="276.8" text-anchor="middle" class="tk" font-size="11.5">0.2</text><text x="535.1" y="276.8" text-anchor="middle" class="tk" font-size="11.5">0.4</text><text x="599.2" y="276.8" text-anchor="middle" class="tk" font-size="11.5">0.6</text><text x="663.4" y="276.8" text-anchor="middle" class="tk" font-size="11.5">0.8</text><text x="727.6" y="276.8" text-anchor="middle" class="tk" font-size="11.5">1</text><text x="403.2" y="266.2" text-anchor="end" class="tk" font-size="11.5">-4</text><text x="403.2" y="236.4" text-anchor="end" class="tk" font-size="11.5">-3</text><text x="403.2" y="206.5" text-anchor="end" class="tk" font-size="11.5">-2</text><text x="403.2" y="176.7" text-anchor="end" class="tk" font-size="11.5">-1</text><text x="403.2" y="146.8" text-anchor="end" class="tk" font-size="11.5">0</text><text x="403.2" y="117.0" text-anchor="end" class="tk" font-size="11.5">1</text><text x="403.2" y="87.1" text-anchor="end" class="tk" font-size="11.5">2</text><text x="403.2" y="57.2" text-anchor="end" class="tk" font-size="11.5">3</text><text x="403.2" y="27.4" text-anchor="end" class="tk" font-size="11.5">4</text><text x="568.9" y="289.7" text-anchor="middle" class="al" font-size="12">y</text><text transform="translate(387.2,142.9) rotate(-90)" x="0" y="3" text-anchor="middle" class="al">ω</text></g>
<g id="a3"><rect x="786.4" y="23.5" width="318.1" height="238.6" fill="none" stroke="#8a8a8a" stroke-width="1.1"/><path d="M850.0 262.1v-3M850.0 23.5v3M913.6 262.1v-3M913.6 23.5v3M977.3 262.1v-3M977.3 23.5v3M1040.9 262.1v-3M1040.9 23.5v3M786.4 238.2h3M1104.5 238.2h-3M786.4 214.4h3M1104.5 214.4h-3M786.4 190.5h3M1104.5 190.5h-3M786.4 166.7h3M1104.5 166.7h-3M786.4 142.8h3M1104.5 142.8h-3M786.4 118.9h3M1104.5 118.9h-3M786.4 95.1h3M1104.5 95.1h-3M786.4 71.2h3M1104.5 71.2h-3M786.4 47.4h3M1104.5 47.4h-3" stroke="#8a8a8a" stroke-width="0.9" fill="none"/><text x="786.4" y="276.6" text-anchor="middle" class="tk" font-size="11.5">0</text><text x="850.0" y="276.6" text-anchor="middle" class="tk" font-size="11.5">0.2</text><text x="913.6" y="276.6" text-anchor="middle" class="tk" font-size="11.5">0.4</text><text x="977.3" y="276.6" text-anchor="middle" class="tk" font-size="11.5">0.6</text><text x="1040.9" y="276.6" text-anchor="middle" class="tk" font-size="11.5">0.8</text><text x="1104.5" y="276.6" text-anchor="middle" class="tk" font-size="11.5">1</text><text x="782.9" y="266.0" text-anchor="end" class="tk" font-size="11.5">0</text><text x="782.9" y="242.1" text-anchor="end" class="tk" font-size="11.5">0.1</text><text x="782.9" y="218.3" text-anchor="end" class="tk" font-size="11.5">0.2</text><text x="782.9" y="194.4" text-anchor="end" class="tk" font-size="11.5">0.3</text><text x="782.9" y="170.6" text-anchor="end" class="tk" font-size="11.5">0.4</text><text x="782.9" y="146.7" text-anchor="end" class="tk" font-size="11.5">0.5</text><text x="782.9" y="122.8" text-anchor="end" class="tk" font-size="11.5">0.6</text><text x="782.9" y="99.0" text-anchor="end" class="tk" font-size="11.5">0.7</text><text x="782.9" y="75.1" text-anchor="end" class="tk" font-size="11.5">0.8</text><text x="782.9" y="51.3" text-anchor="end" class="tk" font-size="11.5">0.9</text><text x="782.9" y="27.4" text-anchor="end" class="tk" font-size="11.5">1</text><text x="946.1" y="290.1" text-anchor="middle" class="al" font-size="12">y</text><text transform="translate(760.8,142.9) rotate(-90)" x="0" y="3" text-anchor="middle" class="al">T</text></g>
<g id="b1"><rect x="42.5" y="369.6" width="314.5" height="232.9" fill="none" stroke="#8a8a8a" stroke-width="1.1"/><path d="M105.4 602.5v-3M105.4 369.6v3M168.3 602.5v-3M168.3 369.6v3M231.2 602.5v-3M231.2 369.6v3M294.1 602.5v-3M294.1 369.6v3M42.5 573.4h3M357.0 573.4h-3M42.5 544.3h3M357.0 544.3h-3M42.5 515.2h3M357.0 515.2h-3M42.5 486.0h3M357.0 486.0h-3M42.5 456.9h3M357.0 456.9h-3M42.5 427.8h3M357.0 427.8h-3M42.5 398.7h3M357.0 398.7h-3" stroke="#8a8a8a" stroke-width="0.9" fill="none"/><text x="42.5" y="615.7" text-anchor="middle" class="tk" font-size="11.1">0</text><text x="105.4" y="615.7" text-anchor="middle" class="tk" font-size="11.1">0.2</text><text x="168.3" y="615.7" text-anchor="middle" class="tk" font-size="11.1">0.4</text><text x="231.2" y="615.7" text-anchor="middle" class="tk" font-size="11.1">0.6</text><text x="294.1" y="615.7" text-anchor="middle" class="tk" font-size="11.1">0.8</text><text x="357.0" y="615.7" text-anchor="middle" class="tk" font-size="11.1">1</text><text x="39.0" y="606.8" text-anchor="end" class="tk" font-size="11.1">-0.1</text><text x="39.0" y="577.7" text-anchor="end" class="tk" font-size="11.1">0</text><text x="39.0" y="548.6" text-anchor="end" class="tk" font-size="11.1">0.1</text><text x="39.0" y="519.5" text-anchor="end" class="tk" font-size="11.1">0.2</text><text x="39.0" y="490.3" text-anchor="end" class="tk" font-size="11.1">0.3</text><text x="39.0" y="461.2" text-anchor="end" class="tk" font-size="11.1">0.4</text><text x="39.0" y="432.1" text-anchor="end" class="tk" font-size="11.1">0.5</text><text x="39.0" y="403.0" text-anchor="end" class="tk" font-size="11.1">0.6</text><text x="39.0" y="373.9" text-anchor="end" class="tk" font-size="11.1">0.7</text><text x="200.2" y="629.2" text-anchor="middle" class="al" font-size="12">y</text><text transform="translate(15.0,485.7) rotate(-90)" x="0" y="3" text-anchor="middle" class="al">ψ</text></g>
<g id="b2"><rect x="412.3" y="369.0" width="312.9" height="233.4" fill="none" stroke="#8a8a8a" stroke-width="1.1"/><path d="M474.9 602.4v-3M474.9 369.0v3M537.5 602.4v-3M537.5 369.0v3M600.0 602.4v-3M600.0 369.0v3M662.6 602.4v-3M662.6 369.0v3M412.3 573.2h3M725.2 573.2h-3M412.3 544.0h3M725.2 544.0h-3M412.3 514.9h3M725.2 514.9h-3M412.3 485.7h3M725.2 485.7h-3M412.3 456.5h3M725.2 456.5h-3M412.3 427.4h3M725.2 427.4h-3M412.3 398.2h3M725.2 398.2h-3" stroke="#8a8a8a" stroke-width="0.9" fill="none"/><text x="412.3" y="615.6" text-anchor="middle" class="tk" font-size="11.1">0</text><text x="474.9" y="615.6" text-anchor="middle" class="tk" font-size="11.1">0.2</text><text x="537.5" y="615.6" text-anchor="middle" class="tk" font-size="11.1">0.4</text><text x="600.0" y="615.6" text-anchor="middle" class="tk" font-size="11.1">0.6</text><text x="662.6" y="615.6" text-anchor="middle" class="tk" font-size="11.1">0.8</text><text x="725.2" y="615.6" text-anchor="middle" class="tk" font-size="11.1">1</text><text x="408.8" y="606.7" text-anchor="end" class="tk" font-size="11.1">-15</text><text x="408.8" y="577.5" text-anchor="end" class="tk" font-size="11.1">-10</text><text x="408.8" y="548.3" text-anchor="end" class="tk" font-size="11.1">-5</text><text x="408.8" y="519.2" text-anchor="end" class="tk" font-size="11.1">0</text><text x="408.8" y="490.0" text-anchor="end" class="tk" font-size="11.1">5</text><text x="408.8" y="460.8" text-anchor="end" class="tk" font-size="11.1">10</text><text x="408.8" y="431.7" text-anchor="end" class="tk" font-size="11.1">15</text><text x="408.8" y="402.5" text-anchor="end" class="tk" font-size="11.1">20</text><text x="408.8" y="373.3" text-anchor="end" class="tk" font-size="11.1">25</text><text x="569.5" y="629.2" text-anchor="middle" class="al" font-size="12">y</text><text transform="translate(387.3,485.7) rotate(-90)" x="0" y="3" text-anchor="middle" class="al">ω</text></g>
<g id="b3"><rect x="785.8" y="369.9" width="309.6" height="232.1" fill="none" stroke="#8a8a8a" stroke-width="1.1"/><path d="M847.7 602.0v-3M847.7 369.9v3M909.6 602.0v-3M909.6 369.9v3M971.6 602.0v-3M971.6 369.9v3M1033.5 602.0v-3M1033.5 369.9v3M785.8 578.8h3M1095.4 578.8h-3M785.8 555.6h3M1095.4 555.6h-3M785.8 532.4h3M1095.4 532.4h-3M785.8 509.2h3M1095.4 509.2h-3M785.8 485.9h3M1095.4 485.9h-3M785.8 462.7h3M1095.4 462.7h-3M785.8 439.5h3M1095.4 439.5h-3M785.8 416.3h3M1095.4 416.3h-3M785.8 393.1h3M1095.4 393.1h-3" stroke="#8a8a8a" stroke-width="0.9" fill="none"/><text x="785.8" y="615.2" text-anchor="middle" class="tk" font-size="11.1">0</text><text x="847.7" y="615.2" text-anchor="middle" class="tk" font-size="11.1">0.2</text><text x="909.6" y="615.2" text-anchor="middle" class="tk" font-size="11.1">0.4</text><text x="971.6" y="615.2" text-anchor="middle" class="tk" font-size="11.1">0.6</text><text x="1033.5" y="615.2" text-anchor="middle" class="tk" font-size="11.1">0.8</text><text x="1095.4" y="615.2" text-anchor="middle" class="tk" font-size="11.1">1</text><text x="782.3" y="606.3" text-anchor="end" class="tk" font-size="11.1">0</text><text x="782.3" y="583.1" text-anchor="end" class="tk" font-size="11.1">0.1</text><text x="782.3" y="559.9" text-anchor="end" class="tk" font-size="11.1">0.2</text><text x="782.3" y="536.7" text-anchor="end" class="tk" font-size="11.1">0.3</text><text x="782.3" y="513.5" text-anchor="end" class="tk" font-size="11.1">0.4</text><text x="782.3" y="490.2" text-anchor="end" class="tk" font-size="11.1">0.5</text><text x="782.3" y="467.0" text-anchor="end" class="tk" font-size="11.1">0.6</text><text x="782.3" y="443.8" text-anchor="end" class="tk" font-size="11.1">0.7</text><text x="782.3" y="420.6" text-anchor="end" class="tk" font-size="11.1">0.8</text><text x="782.3" y="397.4" text-anchor="end" class="tk" font-size="11.1">0.9</text><text x="782.3" y="374.2" text-anchor="end" class="tk" font-size="11.1">1</text><text x="941.3" y="629.4" text-anchor="middle" class="al" font-size="12">y</text><text transform="translate(760.9,485.8) rotate(-90)" x="0" y="3" text-anchor="middle" class="al">T</text></g>
<g id="c1"><rect x="37.8" y="710.1" width="312.8" height="233.8" fill="none" stroke="#8a8a8a" stroke-width="1.1"/><path d="M76.9 943.9v-3M76.9 710.1v3M116.0 943.9v-3M116.0 710.1v3M155.1 943.9v-3M155.1 710.1v3M194.2 943.9v-3M194.2 710.1v3M233.3 943.9v-3M233.3 710.1v3M272.4 943.9v-3M272.4 710.1v3M311.5 943.9v-3M311.5 710.1v3M37.8 910.5h3M350.6 910.5h-3M37.8 877.1h3M350.6 877.1h-3M37.8 843.7h3M350.6 843.7h-3M37.8 810.3h3M350.6 810.3h-3M37.8 776.9h3M350.6 776.9h-3M37.8 743.5h3M350.6 743.5h-3" stroke="#8a8a8a" stroke-width="0.9" fill="none"/><text x="37.8" y="957.9" text-anchor="middle" class="tk" font-size="11.0">0.1</text><text x="76.9" y="957.9" text-anchor="middle" class="tk" font-size="11.0">0.2</text><text x="116.0" y="957.9" text-anchor="middle" class="tk" font-size="11.0">0.3</text><text x="155.1" y="957.9" text-anchor="middle" class="tk" font-size="11.0">0.4</text><text x="194.2" y="957.9" text-anchor="middle" class="tk" font-size="11.0">0.5</text><text x="233.3" y="957.9" text-anchor="middle" class="tk" font-size="11.0">0.6</text><text x="272.4" y="957.9" text-anchor="middle" class="tk" font-size="11.0">0.7</text><text x="311.5" y="957.9" text-anchor="middle" class="tk" font-size="11.0">0.8</text><text x="350.6" y="957.9" text-anchor="middle" class="tk" font-size="11.0">0.9</text><text x="34.3" y="947.6" text-anchor="end" class="tk" font-size="11.0">0</text><text x="34.3" y="914.2" text-anchor="end" class="tk" font-size="11.0">0.1</text><text x="34.3" y="880.8" text-anchor="end" class="tk" font-size="11.0">0.2</text><text x="34.3" y="847.4" text-anchor="end" class="tk" font-size="11.0">0.3</text><text x="34.3" y="814.0" text-anchor="end" class="tk" font-size="11.0">0.4</text><text x="34.3" y="780.6" text-anchor="end" class="tk" font-size="11.0">0.5</text><text x="34.3" y="747.2" text-anchor="end" class="tk" font-size="11.0">0.6</text><text x="34.3" y="713.8" text-anchor="end" class="tk" font-size="11.0">0.7</text><text x="194.5" y="970.5" text-anchor="middle" class="al" font-size="12">y</text><text transform="translate(12.7,825.7) rotate(-90)" x="0" y="3" text-anchor="middle" class="al">ψ</text></g>
<g id="c2"><rect x="412.3" y="710.2" width="314.2" height="234.0" fill="none" stroke="#8a8a8a" stroke-width="1.1"/><path d="M451.6 944.2v-3M451.6 710.2v3M490.9 944.2v-3M490.9 710.2v3M530.1 944.2v-3M530.1 710.2v3M569.4 944.2v-3M569.4 710.2v3M608.7 944.2v-3M608.7 710.2v3M647.9 944.2v-3M647.9 710.2v3M687.2 944.2v-3M687.2 710.2v3M412.3 920.8h3M726.5 920.8h-3M412.3 897.4h3M726.5 897.4h-3M412.3 874.0h3M726.5 874.0h-3M412.3 850.6h3M726.5 850.6h-3M412.3 827.2h3M726.5 827.2h-3M412.3 803.8h3M726.5 803.8h-3M412.3 780.4h3M726.5 780.4h-3M412.3 757.0h3M726.5 757.0h-3M412.3 733.6h3M726.5 733.6h-3" stroke="#8a8a8a" stroke-width="0.9" fill="none"/><text x="412.3" y="958.2" text-anchor="middle" class="tk" font-size="11.0">0.1</text><text x="451.6" y="958.2" text-anchor="middle" class="tk" font-size="11.0">0.2</text><text x="490.9" y="958.2" text-anchor="middle" class="tk" font-size="11.0">0.3</text><text x="530.1" y="958.2" text-anchor="middle" class="tk" font-size="11.0">0.4</text><text x="569.4" y="958.2" text-anchor="middle" class="tk" font-size="11.0">0.5</text><text x="608.7" y="958.2" text-anchor="middle" class="tk" font-size="11.0">0.6</text><text x="647.9" y="958.2" text-anchor="middle" class="tk" font-size="11.0">0.7</text><text x="687.2" y="958.2" text-anchor="middle" class="tk" font-size="11.0">0.8</text><text x="726.5" y="958.2" text-anchor="middle" class="tk" font-size="11.0">0.9</text><text x="408.8" y="947.9" text-anchor="end" class="tk" font-size="11.0">-10</text><text x="408.8" y="924.5" text-anchor="end" class="tk" font-size="11.0">-8</text><text x="408.8" y="901.1" text-anchor="end" class="tk" font-size="11.0">-6</text><text x="408.8" y="877.7" text-anchor="end" class="tk" font-size="11.0">-4</text><text x="408.8" y="854.3" text-anchor="end" class="tk" font-size="11.0">-2</text><text x="408.8" y="830.9" text-anchor="end" class="tk" font-size="11.0">0</text><text x="408.8" y="807.5" text-anchor="end" class="tk" font-size="11.0">2</text><text x="408.8" y="784.1" text-anchor="end" class="tk" font-size="11.0">4</text><text x="408.8" y="760.7" text-anchor="end" class="tk" font-size="11.0">6</text><text x="408.8" y="737.3" text-anchor="end" class="tk" font-size="11.0">8</text><text x="408.8" y="713.9" text-anchor="end" class="tk" font-size="11.0">10</text><text x="569.5" y="970.5" text-anchor="middle" class="al" font-size="12">y</text><text transform="translate(387.3,826.7) rotate(-90)" x="0" y="3" text-anchor="middle" class="al">ω</text></g>
<g id="c3"><rect x="784.5" y="711.1" width="309.7" height="232.3" fill="none" stroke="#8a8a8a" stroke-width="1.1"/><path d="M823.2 943.4v-3M823.2 711.1v3M861.9 943.4v-3M861.9 711.1v3M900.6 943.4v-3M900.6 711.1v3M939.4 943.4v-3M939.4 711.1v3M978.1 943.4v-3M978.1 711.1v3M1016.8 943.4v-3M1016.8 711.1v3M1055.5 943.4v-3M1055.5 711.1v3M784.5 920.2h3M1094.2 920.2h-3M784.5 896.9h3M1094.2 896.9h-3M784.5 873.7h3M1094.2 873.7h-3M784.5 850.5h3M1094.2 850.5h-3M784.5 827.2h3M1094.2 827.2h-3M784.5 804.0h3M1094.2 804.0h-3M784.5 780.8h3M1094.2 780.8h-3M784.5 757.6h3M1094.2 757.6h-3M784.5 734.3h3M1094.2 734.3h-3" stroke="#8a8a8a" stroke-width="0.9" fill="none"/><text x="784.5" y="957.4" text-anchor="middle" class="tk" font-size="11.0">0.1</text><text x="823.2" y="957.4" text-anchor="middle" class="tk" font-size="11.0">0.2</text><text x="861.9" y="957.4" text-anchor="middle" class="tk" font-size="11.0">0.3</text><text x="900.6" y="957.4" text-anchor="middle" class="tk" font-size="11.0">0.4</text><text x="939.4" y="957.4" text-anchor="middle" class="tk" font-size="11.0">0.5</text><text x="978.1" y="957.4" text-anchor="middle" class="tk" font-size="11.0">0.6</text><text x="1016.8" y="957.4" text-anchor="middle" class="tk" font-size="11.0">0.7</text><text x="1055.5" y="957.4" text-anchor="middle" class="tk" font-size="11.0">0.8</text><text x="1094.2" y="957.4" text-anchor="middle" class="tk" font-size="11.0">0.9</text><text x="781.0" y="947.1" text-anchor="end" class="tk" font-size="11.0">0</text><text x="781.0" y="923.9" text-anchor="end" class="tk" font-size="11.0">0.1</text><text x="781.0" y="900.6" text-anchor="end" class="tk" font-size="11.0">0.2</text><text x="781.0" y="877.4" text-anchor="end" class="tk" font-size="11.0">0.3</text><text x="781.0" y="854.2" text-anchor="end" class="tk" font-size="11.0">0.4</text><text x="781.0" y="831.0" text-anchor="end" class="tk" font-size="11.0">0.5</text><text x="781.0" y="807.7" text-anchor="end" class="tk" font-size="11.0">0.6</text><text x="781.0" y="784.5" text-anchor="end" class="tk" font-size="11.0">0.7</text><text x="781.0" y="761.3" text-anchor="end" class="tk" font-size="11.0">0.8</text><text x="781.0" y="738.0" text-anchor="end" class="tk" font-size="11.0">0.9</text><text x="781.0" y="714.8" text-anchor="end" class="tk" font-size="11.0">1</text><text x="940.3" y="971.1" text-anchor="middle" class="al" font-size="12">y</text><text transform="translate(760.8,827.5) rotate(-90)" x="0" y="3" text-anchor="middle" class="al">T</text></g>
<g><line x1="45.7" y1="39.8" x2="60.0" y2="39.8" stroke="#eaa0a0" stroke-width="1"/><text x="62.2" y="41.9" class="lg" font-size="11.7">Mn<tspan font-size="8.5" dy="5.5">F</tspan><tspan dy="-4.8">=</tspan><tspan dy="-0.7">82</tspan></text><line x1="45.7" y1="58.6" x2="60.0" y2="58.6" stroke="#9cdc9c" stroke-width="1"/><text x="62.2" y="60.7" class="lg" font-size="11.7">Mn<tspan font-size="8.5" dy="5.5">F</tspan><tspan dy="-4.8">=</tspan><tspan dy="-0.7">164</tspan></text><line x1="45.7" y1="77.1" x2="60.0" y2="77.1" stroke="#9a9ad8" stroke-width="1"/><text x="62.2" y="79.2" class="lg" font-size="11.7">Mn<tspan font-size="8.5" dy="5.5">F</tspan><tspan dy="-4.8">=</tspan><tspan dy="-0.7">656</tspan></text><line x1="45.7" y1="95.6" x2="60.0" y2="95.6" stroke="#666" stroke-width="1"/><text x="62.2" y="97.7" class="lg" font-size="11.7">Mn<tspan font-size="8.5" dy="5.5">F</tspan><tspan dy="-4.8">=</tspan><tspan dy="-0.7">1312</tspan></text><circle cx="53.0" cy="115.1" r="2.1" fill="#9c9cd4"/><text x="62.2" y="117.2" class="lg" font-size="11.7">Mn<tspan font-size="8.5" dy="5.5">F</tspan><tspan dy="-4.8">=</tspan><tspan dy="-0.7">656 Turk et al. [27]</tspan></text><circle cx="53.0" cy="133.7" r="2.1" fill="#777777"/><text x="62.2" y="135.8" class="lg" font-size="11.7">Mn<tspan font-size="8.5" dy="5.5">F</tspan><tspan dy="-4.8">=</tspan><tspan dy="-0.7">1312 Turk et al. [27]</tspan></text></g>
<g><line x1="411.4" y1="35.7" x2="425.8" y2="35.7" stroke="#eaa0a0" stroke-width="1"/><text x="427.9" y="37.8" class="lg" font-size="11.7">Mn<tspan font-size="8.5" dy="5.5">F</tspan><tspan dy="-4.8">=</tspan><tspan dy="-0.7">82</tspan></text><line x1="411.4" y1="54.4" x2="425.8" y2="54.4" stroke="#9cdc9c" stroke-width="1"/><text x="427.9" y="56.5" class="lg" font-size="11.7">Mn<tspan font-size="8.5" dy="5.5">F</tspan><tspan dy="-4.8">=</tspan><tspan dy="-0.7">164</tspan></text><line x1="411.4" y1="72.7" x2="425.8" y2="72.7" stroke="#9a9ad8" stroke-width="1"/><text x="427.9" y="74.8" class="lg" font-size="11.7">Mn<tspan font-size="8.5" dy="5.5">F</tspan><tspan dy="-4.8">=</tspan><tspan dy="-0.7">656</tspan></text><line x1="411.4" y1="91.2" x2="425.8" y2="91.2" stroke="#666" stroke-width="1"/><text x="427.9" y="93.3" class="lg" font-size="11.7">Mn<tspan font-size="8.5" dy="5.5">F</tspan><tspan dy="-4.8">=</tspan><tspan dy="-0.7">1312</tspan></text><circle cx="418.6" cy="110.2" r="2.1" fill="#9c9cd4"/><text x="427.9" y="112.3" class="lg" font-size="11.7">Mn<tspan font-size="8.5" dy="5.5">F</tspan><tspan dy="-4.8">=</tspan><tspan dy="-0.7">656 Turk et al. [27]</tspan></text><circle cx="418.6" cy="128.2" r="2.1" fill="#777777"/><text x="427.9" y="130.3" class="lg" font-size="11.7">Mn<tspan font-size="8.5" dy="5.5">F</tspan><tspan dy="-4.8">=</tspan><tspan dy="-0.7">1312 Turk et al. [27]</tspan></text></g>
<g><line x1="869.7" y1="128.6" x2="883.6" y2="128.6" stroke="#eaa0a0" stroke-width="1"/><text x="885.8" y="130.7" class="lg" font-size="11.7">Mn<tspan font-size="8.5" dy="5.5">F</tspan><tspan dy="-4.8">=</tspan><tspan dy="-0.7">82</tspan></text><line x1="869.7" y1="146.8" x2="883.6" y2="146.8" stroke="#9cdc9c" stroke-width="1"/><text x="885.8" y="148.9" class="lg" font-size="11.7">Mn<tspan font-size="8.5" dy="5.5">F</tspan><tspan dy="-4.8">=</tspan><tspan dy="-0.7">164</tspan></text><line x1="869.7" y1="165.1" x2="883.6" y2="165.1" stroke="#9a9ad8" stroke-width="1"/><text x="885.8" y="167.2" class="lg" font-size="11.7">Mn<tspan font-size="8.5" dy="5.5">F</tspan><tspan dy="-4.8">=</tspan><tspan dy="-0.7">656</tspan></text><line x1="869.7" y1="184.5" x2="883.6" y2="184.5" stroke="#666" stroke-width="1"/><text x="885.8" y="186.6" class="lg" font-size="11.7">Mn<tspan font-size="8.5" dy="5.5">F</tspan><tspan dy="-4.8">=</tspan><tspan dy="-0.7">1312</tspan></text><circle cx="876.9" cy="203.1" r="2.1" fill="#9c9cd4"/><text x="885.8" y="205.2" class="lg" font-size="11.7">Mn<tspan font-size="8.5" dy="5.5">F</tspan><tspan dy="-4.8">=</tspan><tspan dy="-0.7">656 Turk et al. [27]</tspan></text><circle cx="876.9" cy="221.7" r="2.1" fill="#777777"/><text x="885.8" y="223.8" class="lg" font-size="11.7">Mn<tspan font-size="8.5" dy="5.5">F</tspan><tspan dy="-4.8">=</tspan><tspan dy="-0.7">1312 Turk et al. [27]</tspan></text></g>
<g><line x1="46.4" y1="381.5" x2="60.1" y2="381.5" stroke="#eaa0a0" stroke-width="1"/><text x="62.2" y="383.6" class="lg" font-size="11.4">Mn<tspan font-size="8.5" dy="5.5">F</tspan><tspan dy="-4.8">=</tspan><tspan dy="-0.7">82</tspan></text><line x1="46.4" y1="399.8" x2="60.1" y2="399.8" stroke="#9cdc9c" stroke-width="1"/><text x="62.2" y="401.9" class="lg" font-size="11.4">Mn<tspan font-size="8.5" dy="5.5">F</tspan><tspan dy="-4.8">=</tspan><tspan dy="-0.7">164</tspan></text><line x1="46.4" y1="418" x2="60.1" y2="418" stroke="#9a9ad8" stroke-width="1"/><text x="62.2" y="420.1" class="lg" font-size="11.4">Mn<tspan font-size="8.5" dy="5.5">F</tspan><tspan dy="-4.8">=</tspan><tspan dy="-0.7">656</tspan></text><line x1="46.4" y1="436.2" x2="60.1" y2="436.2" stroke="#666" stroke-width="1"/><text x="62.2" y="438.3" class="lg" font-size="11.4">Mn<tspan font-size="8.5" dy="5.5">F</tspan><tspan dy="-4.8">=</tspan><tspan dy="-0.7">1312</tspan></text><circle cx="53.2" cy="454.2" r="2.1" fill="#9c9cd4"/><text x="62.2" y="456.3" class="lg" font-size="11.4">Mn<tspan font-size="8.5" dy="5.5">F</tspan><tspan dy="-4.8">=</tspan><tspan dy="-0.7">656 Turk et al. [27]</tspan></text><circle cx="53.2" cy="472.4" r="2.1" fill="#777777"/><text x="62.2" y="474.5" class="lg" font-size="11.4">Mn<tspan font-size="8.5" dy="5.5">F</tspan><tspan dy="-4.8">=</tspan><tspan dy="-0.7">1312 Turk et al. [27]</tspan></text></g>
<g><line x1="416.4" y1="380.7" x2="430.1" y2="380.7" stroke="#eaa0a0" stroke-width="1"/><text x="432.6" y="382.8" class="lg" font-size="11.4">Mn<tspan font-size="8.5" dy="5.5">F</tspan><tspan dy="-4.8">=</tspan><tspan dy="-0.7">82</tspan></text><line x1="416.4" y1="399.4" x2="430.1" y2="399.4" stroke="#9cdc9c" stroke-width="1"/><text x="432.6" y="401.5" class="lg" font-size="11.4">Mn<tspan font-size="8.5" dy="5.5">F</tspan><tspan dy="-4.8">=</tspan><tspan dy="-0.7">164</tspan></text><line x1="416.4" y1="417" x2="430.1" y2="417" stroke="#777" stroke-width="1"/><text x="432.6" y="419.1" class="lg" font-size="11.4">Mn<tspan font-size="8.5" dy="5.5">F</tspan><tspan dy="-4.8">=</tspan><tspan dy="-0.7">656</tspan></text><line x1="416.4" y1="435.2" x2="430.1" y2="435.2" stroke="#666" stroke-width="1"/><text x="432.6" y="437.3" class="lg" font-size="11.4">Mn<tspan font-size="8.5" dy="5.5">F</tspan><tspan dy="-4.8">=</tspan><tspan dy="-0.7">1312</tspan></text><circle cx="423.2" cy="453.4" r="2.1" fill="#9c9cd4"/><text x="432.6" y="455.5" class="lg" font-size="11.4">Mn<tspan font-size="8.5" dy="5.5">F</tspan><tspan dy="-4.8">=</tspan><tspan dy="-0.7">656 Turk et al. [27]</tspan></text><circle cx="423.2" cy="471.7" r="2.1" fill="#777777"/><text x="432.6" y="473.8" class="lg" font-size="11.4">Mn<tspan font-size="8.5" dy="5.5">F</tspan><tspan dy="-4.8">=</tspan><tspan dy="-0.7">1312 Turk et al. [27]</tspan></text></g>
<g><line x1="41.4" y1="722.2" x2="55.3" y2="722.2" stroke="#eaa0a0" stroke-width="1"/><text x="57.9" y="724.3" class="lg" font-size="11.3">Mn<tspan font-size="8.5" dy="5.5">F</tspan><tspan dy="-4.8">=</tspan><tspan dy="-0.7">82</tspan></text><line x1="41.4" y1="740.1" x2="55.3" y2="740.1" stroke="#9cdc9c" stroke-width="1"/><text x="57.9" y="742.2" class="lg" font-size="11.3">Mn<tspan font-size="8.5" dy="5.5">F</tspan><tspan dy="-4.8">=</tspan><tspan dy="-0.7">164</tspan></text><line x1="41.4" y1="758.4" x2="55.3" y2="758.4" stroke="#9a9ad8" stroke-width="1"/><text x="57.9" y="760.5" class="lg" font-size="11.3">Mn<tspan font-size="8.5" dy="5.5">F</tspan><tspan dy="-4.8">=</tspan><tspan dy="-0.7">656</tspan></text><line x1="41.4" y1="776.2" x2="55.3" y2="776.2" stroke="#666" stroke-width="1"/><text x="57.9" y="778.3" class="lg" font-size="11.3">Mn<tspan font-size="8.5" dy="5.5">F</tspan><tspan dy="-4.8">=</tspan><tspan dy="-0.7">1312</tspan></text><circle cx="48.6" cy="794.8" r="2.1" fill="#9c9cd4"/><text x="57.9" y="796.9" class="lg" font-size="11.3">Mn<tspan font-size="8.5" dy="5.5">F</tspan><tspan dy="-4.8">=</tspan><tspan dy="-0.7">656 Turk et al. [27]</tspan></text><circle cx="48.6" cy="812.9" r="2.1" fill="#777777"/><text x="57.9" y="815.0" class="lg" font-size="11.3">Mn<tspan font-size="8.5" dy="5.5">F</tspan><tspan dy="-4.8">=</tspan><tspan dy="-0.7">1312 Turk et al. [27]</tspan></text></g>
<g><line x1="572.9" y1="839.5" x2="586.5" y2="839.5" stroke="#eaa0a0" stroke-width="1"/><text x="589.1" y="841.6" class="lg" font-size="11.3">Mn<tspan font-size="8.5" dy="5.5">F</tspan><tspan dy="-4.8">=</tspan><tspan dy="-0.7">82</tspan></text><line x1="572.9" y1="857.8" x2="586.5" y2="857.8" stroke="#9cdc9c" stroke-width="1"/><text x="589.1" y="859.9" class="lg" font-size="11.3">Mn<tspan font-size="8.5" dy="5.5">F</tspan><tspan dy="-4.8">=</tspan><tspan dy="-0.7">164</tspan></text><line x1="572.9" y1="876.3" x2="586.5" y2="876.3" stroke="#9a9ad8" stroke-width="1"/><text x="589.1" y="878.4" class="lg" font-size="11.3">Mn<tspan font-size="8.5" dy="5.5">F</tspan><tspan dy="-4.8">=</tspan><tspan dy="-0.7">656</tspan></text><line x1="572.9" y1="894.1" x2="586.5" y2="894.1" stroke="#666" stroke-width="1"/><text x="589.1" y="896.2" class="lg" font-size="11.3">Mn<tspan font-size="8.5" dy="5.5">F</tspan><tspan dy="-4.8">=</tspan><tspan dy="-0.7">1312</tspan></text><circle cx="579.3" cy="912.7" r="2.1" fill="#9c9cd4"/><text x="589.1" y="914.8" class="lg" font-size="11.3">Mn<tspan font-size="8.5" dy="5.5">F</tspan><tspan dy="-4.8">=</tspan><tspan dy="-0.7">656 Turk et al. [27]</tspan></text><circle cx="579.3" cy="930.3" r="2.1" fill="#777777"/><text x="589.1" y="932.4" class="lg" font-size="11.3">Mn<tspan font-size="8.5" dy="5.5">F</tspan><tspan dy="-4.8">=</tspan><tspan dy="-0.7">1312 Turk et al. [27]</tspan></text></g>
<g><line x1="866.4" y1="837.9" x2="880.1" y2="837.9" stroke="#eaa0a0" stroke-width="1"/><text x="882.2" y="840.0" class="lg" font-size="11.3">Mn<tspan font-size="8.5" dy="5.5">F</tspan><tspan dy="-4.8">=</tspan><tspan dy="-0.7">82</tspan></text><line x1="866.4" y1="855.4" x2="880.1" y2="855.4" stroke="#9cdc9c" stroke-width="1"/><text x="882.2" y="857.5" class="lg" font-size="11.3">Mn<tspan font-size="8.5" dy="5.5">F</tspan><tspan dy="-4.8">=</tspan><tspan dy="-0.7">164</tspan></text><line x1="866.4" y1="874" x2="880.1" y2="874" stroke="#9a9ad8" stroke-width="1"/><text x="882.2" y="876.1" class="lg" font-size="11.3">Mn<tspan font-size="8.5" dy="5.5">F</tspan><tspan dy="-4.8">=</tspan><tspan dy="-0.7">656</tspan></text><line x1="866.4" y1="891.6" x2="880.1" y2="891.6" stroke="#666" stroke-width="1"/><text x="882.2" y="893.7" class="lg" font-size="11.3">Mn<tspan font-size="8.5" dy="5.5">F</tspan><tspan dy="-4.8">=</tspan><tspan dy="-0.7">1312</tspan></text><circle cx="873.6" cy="910.2" r="2.1" fill="#9c9cd4"/><text x="882.2" y="912.3" class="lg" font-size="11.3">Mn<tspan font-size="8.5" dy="5.5">F</tspan><tspan dy="-4.8">=</tspan><tspan dy="-0.7">656 Turk et al. [27]</tspan></text><circle cx="873.6" cy="927.9" r="2.1" fill="#777777"/><text x="882.2" y="930.0" class="lg" font-size="11.3">Mn<tspan font-size="8.5" dy="5.5">F</tspan><tspan dy="-4.8">=</tspan><tspan dy="-0.7">1312 Turk et al. [27]</tspan></text></g>
<line x1="384" y1="294.2" x2="732" y2="294.2" stroke="#ececec" stroke-width="1.6"/>
<line x1="756" y1="633.3" x2="1099" y2="633.3" stroke="#a4a4a4" stroke-width="1.3"/>
<line x1="754" y1="974.6" x2="1103" y2="974.6" stroke="#a4a4a4" stroke-width="1.3"/>
<text x="554.8" y="323.2" text-anchor="middle" class="fl">(a)</text>
<text x="554.9" y="662.4" text-anchor="middle" class="fl">(b)</text>
<text x="555.9" y="1003.6" text-anchor="middle" class="fl">(c)</text>
</g>
</svg></body></html>
